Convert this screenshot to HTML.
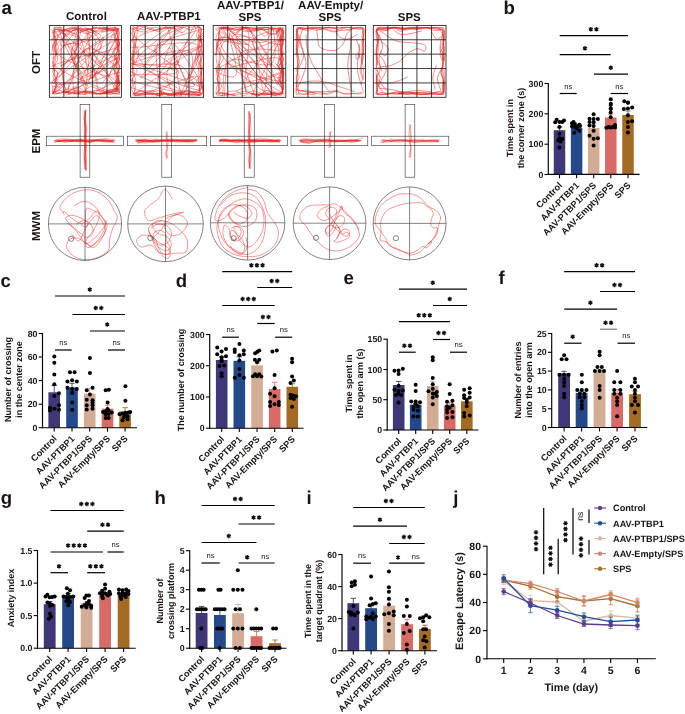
<!DOCTYPE html>
<html><head><meta charset="utf-8"><title>Figure</title>
<style>
html,body{margin:0;padding:0;background:#fff;}
body{width:685px;height:714px;overflow:hidden;}
svg{display:block;font-family:"Liberation Sans",sans-serif;text-rendering:geometricPrecision;will-change:transform;}
</style></head><body>
<svg width="685" height="714" viewBox="0 0 685 714">
<rect width="685" height="714" fill="#fff"/>
<text x="1.5" y="13.8" font-size="18.6" font-weight="bold" text-anchor="start" fill="#1a1311">a</text>
<text x="86.4" y="19.8" font-size="11.5" font-weight="bold" text-anchor="middle" fill="#1a1311">Control</text>
<text x="168.9" y="19.7" font-size="11.5" font-weight="bold" text-anchor="middle" fill="#1a1311">AAV-PTBP1</text>
<text x="250.5" y="8.7" font-size="11.5" font-weight="bold" text-anchor="middle" fill="#1a1311">AAV-PTBP1/</text>
<text x="250" y="21.1" font-size="11.5" font-weight="bold" text-anchor="middle" fill="#1a1311">SPS</text>
<text x="330.6" y="8.7" font-size="11.5" font-weight="bold" text-anchor="middle" fill="#1a1311">AAV-Empty/</text>
<text x="330" y="21.1" font-size="11.5" font-weight="bold" text-anchor="middle" fill="#1a1311">SPS</text>
<text x="409.3" y="20.6" font-size="11.5" font-weight="bold" text-anchor="middle" fill="#1a1311">SPS</text>
<text x="40" y="62.5" font-size="11.5" font-weight="bold" text-anchor="middle" fill="#1a1311" transform="rotate(-90 40 62.5)">OFT</text>
<text x="40" y="141" font-size="11.5" font-weight="bold" text-anchor="middle" fill="#1a1311" transform="rotate(-90 40 141)">EPM</text>
<text x="40" y="226" font-size="11.5" font-weight="bold" text-anchor="middle" fill="#1a1311" transform="rotate(-90 40 226)">MWM</text>
<clipPath id="oc0"><rect x="51.8" y="26.6" width="68.4" height="68.1"/></clipPath>
<g clip-path="url(#oc0)">
<path d="M55.65 85.12C61.88 83.65 83.01 83.92 92.98 76.33C102.96 68.74 111.32 44.51 115.51 39.55C119.69 34.59 117.85 44.23 118.08 46.57C118.32 48.91 117.17 51.24 116.92 53.58C116.67 55.92 116.57 58.26 116.58 60.59C116.59 62.93 116.81 65.27 116.98 67.61C117.15 69.95 117.21 72.28 117.6 74.62C117.99 76.96 119.69 79.3 119.3 81.64C118.91 83.97 115.47 87.25 115.26 88.65C115.05 90.05 118.74 89.8 118.04 90.05C117.33 90.3 113.36 89.59 111.02 90.14C108.69 90.69 106.35 92.75 104.01 93.35C101.67 93.96 99.33 94.16 97 93.79C94.66 93.42 92.32 91.56 89.98 91.15C87.65 90.74 85.31 90.9 82.97 91.31C80.63 91.73 78.29 93.6 75.96 93.63C73.62 93.66 71.28 91.67 68.94 91.48C66.6 91.28 61.76 92.29 61.93 92.44C62.1 92.58 67.27 92.56 69.95 92.37C72.62 92.17 75.29 91.29 77.97 91.27C80.64 91.26 87.07 99.25 85.98 92.26C84.9 85.28 69.14 58.49 71.47 49.36C73.8 40.23 96.94 40.76 99.96 37.48C102.99 34.19 93.08 30.41 89.64 29.64C86.19 28.86 79.81 32.76 79.31 32.82C78.8 32.87 84.18 30.73 86.61 29.96C89.05 29.18 91.49 28.47 93.92 28.14C96.36 27.81 98.79 27.65 101.23 28C103.67 28.35 106.1 30.06 108.54 30.23C110.97 30.4 114.14 28.94 115.85 29.03C117.56 29.11 118.37 29.25 118.79 30.75C119.21 32.26 118.63 35.63 118.36 38.06C118.09 40.5 117 42.94 117.18 45.37C117.35 47.81 119.08 50.24 119.4 52.68C119.73 55.12 120.04 57.55 119.11 59.99C118.19 62.42 114.39 64.86 113.87 67.3C113.34 69.73 115.53 72.17 115.96 74.6C116.4 77.04 116.46 79.48 116.48 81.91C116.5 84.35 115.94 87.76 116.08 89.22C116.23 90.68 118.32 90.14 117.34 90.65C116.36 91.16 112.58 91.78 110.2 92.25C107.82 92.72 105.45 93.19 103.07 93.47C100.69 93.74 98.31 94.08 95.93 93.92C93.55 93.76 91.17 92.64 88.79 92.52C86.41 92.4 84.03 93.11 81.65 93.18C79.27 93.24 76.89 93.08 74.51 92.93C72.13 92.78 69.75 92.25 67.37 92.28C64.99 92.31 62.62 92.97 60.24 93.11C57.86 93.25 53.08 94.02 53.1 93.11C53.11 92.2 60.29 89.76 60.32 87.66C60.34 85.56 43.76 88.51 53.24 80.52C62.72 72.53 110.74 40.1 117.19 39.73C123.64 39.37 98.15 78.64 91.93 78.33C85.71 78.02 86 46.06 79.88 37.87C73.76 29.67 58.05 30.47 55.23 29.16C52.41 27.86 60.38 29.85 62.95 30.04C65.53 30.23 68.1 30.28 70.68 30.27C73.25 30.27 75.83 30.02 78.4 29.98C80.98 29.95 83.55 30.39 86.13 30.06C88.7 29.73 92.56 28.34 93.85 28" fill="none" stroke="#e5231f" stroke-width="0.45" stroke-opacity="1" stroke-linejoin="round"/>
<path d="M93.85 28C95.14 28.1 99 28.21 101.58 28.61C104.15 29 106.73 30.15 109.3 30.38C111.87 30.61 115.63 28.8 117.02 29.97C118.42 31.13 117.3 34.91 117.65 37.39C118 39.86 119.99 42.33 119.13 44.81C118.27 47.28 112.82 49.75 112.49 52.23C112.17 54.7 117.15 57.17 117.18 59.65C117.21 62.12 112.76 64.6 112.66 67.07C112.56 69.54 115.89 72.02 116.59 74.49C117.28 76.96 126.32 89.41 116.85 81.91C107.37 74.41 70.13 38.53 59.73 29.5C49.33 20.46 55.44 26.68 54.46 27.68C53.47 28.67 53.81 32.88 53.82 35.48C53.84 38.08 54.09 40.68 54.56 43.29C55.04 45.89 56.71 48.49 56.67 51.09C56.64 53.69 54.92 56.29 54.36 58.89C53.8 61.5 52.72 64.1 53.3 66.7C53.89 69.3 57.66 71.9 57.86 74.5C58.07 77.1 50.64 86.85 54.54 82.31C58.43 77.76 80.06 52.77 81.24 47.22C82.42 41.67 64.05 41.88 61.63 48.98C59.2 56.08 63.06 89.37 66.67 89.81C70.29 90.24 78.02 56.27 83.33 51.6C88.64 46.94 92.9 64.86 98.52 61.82C104.14 58.78 123.33 32.69 117.06 33.37C110.79 34.05 61.36 66.48 60.92 65.91C60.49 65.35 107.7 35.63 114.47 29.99C121.23 24.34 102.43 31.83 101.49 32.03C100.55 32.22 106.38 31.5 108.82 31.17C111.27 30.85 114.62 30.09 116.16 30.08C117.7 30.06 118.35 29.7 118.07 31.09C117.79 32.48 114.64 35.98 114.5 38.43C114.35 40.87 116.58 43.32 117.2 45.76C117.81 48.21 118.2 50.65 118.18 53.1C118.15 55.54 117.79 57.99 117.04 60.43C116.29 62.88 113.61 65.32 113.68 67.77C113.75 70.21 116.84 72.66 117.45 75.1C118.06 77.55 117.24 79.99 117.34 82.44C117.45 84.88 118.22 88.79 118.09 89.77C117.97 90.75 118.07 88.21 116.6 88.31C115.12 88.4 111.71 89.67 109.26 90.33C106.82 90.99 101.92 91.96 101.93 92.24C101.94 92.53 106.85 92.75 109.32 92.03C111.78 91.31 115.04 88.34 116.71 87.93C118.38 87.53 118.93 90.55 119.34 89.6C119.76 88.65 119.64 84.67 119.19 82.21C118.75 79.75 116.65 77.28 116.65 74.82C116.66 72.36 119.39 69.89 119.23 67.43C119.06 64.97 116.49 62.5 115.66 60.04C114.83 57.58 113.96 55.11 114.27 52.65C114.58 50.19 117.34 47.72 117.51 45.26C117.68 42.8 115.35 40.33 115.28 37.87C115.21 35.4 117.05 31.59 117.09 30.48C117.12 29.37 116.99 31.62 115.49 31.2C113.99 30.78 110.56 28.26 108.1 27.96C105.63 27.65 103.17 29.44 100.71 29.35C98.24 29.27 101.06 19.12 93.32 27.46C85.57 35.8 60.98 69.49 54.25 79.38C47.52 89.26 53.24 84.61 52.94 86.77C52.64 88.93 52.54 91.42 52.46 92.35" fill="none" stroke="#e5231f" stroke-width="0.45" stroke-opacity="1" stroke-linejoin="round"/>
<path d="M52.46 92.35C53.69 92.03 57.38 90.56 59.85 90.44C62.31 90.33 64.77 92.02 67.24 91.64C69.7 91.26 72.16 88.16 74.63 88.19C77.09 88.22 79.55 91.2 82.02 91.84C84.48 92.48 86.94 92.31 89.41 92.03C91.87 91.76 94.33 89.99 96.8 90.17C99.26 90.34 101.72 92.94 104.18 93.09C106.65 93.24 109.11 91.29 111.57 91.08C114.04 90.87 118.67 92.43 118.96 91.81C119.26 91.19 113.61 89.32 113.36 87.35C113.1 85.37 116.74 82.42 117.44 79.96C118.15 77.49 126.07 70.52 117.58 72.57C109.09 74.62 73.81 88.71 66.5 92.25C59.2 95.79 71.34 93.79 73.76 93.79C76.18 93.8 78.6 92.63 81.02 92.3C83.44 91.97 85.85 91.63 88.27 91.81C90.69 91.99 93.11 93.1 95.53 93.37C97.95 93.63 100.37 93.79 102.79 93.41C105.2 93.02 107.62 91.37 110.04 91.08C112.46 90.78 116.12 91.96 117.3 91.64C118.48 91.31 117.11 90.77 117.11 89.15C117.11 87.52 117.77 84.31 117.31 81.89C116.85 79.47 114.51 77.05 114.34 74.63C114.18 72.21 115.51 69.8 116.33 67.38C117.14 64.96 118.8 62.54 119.23 60.12C119.66 57.7 118.92 55.28 118.92 52.86C118.93 50.45 119.25 48.03 119.26 45.61C119.27 43.19 119.04 40.77 118.99 38.35C118.94 35.93 119.43 32.79 118.97 31.1C118.52 29.4 118.43 28.58 116.24 28.2C114.05 27.82 109.32 28.8 105.86 28.81C102.4 28.83 101.72 17.51 95.47 28.29C89.22 39.08 64.8 82.66 68.35 93.51C71.91 104.36 109.92 94.1 116.81 93.38C123.69 92.66 112.05 89.21 109.67 89.19C107.29 89.18 104.91 92.52 102.54 93.31C100.16 94.09 97.78 93.92 95.4 93.92C93.02 93.93 90.64 94.16 88.26 93.33C85.88 92.5 83.51 89.99 81.13 88.95C78.75 87.9 76.37 86.5 73.99 87.06C71.61 87.62 69.23 92.83 66.86 92.31C64.48 91.79 62.1 83.63 59.72 83.93C57.34 84.22 53.28 93.54 52.58 94.07C51.89 94.61 54.76 89.49 55.55 87.15C56.34 84.8 57.72 82.39 57.31 80.01C56.89 77.63 53.54 75.25 53.06 72.87C52.58 70.5 53.65 68.12 54.43 65.74C55.21 63.36 57.54 60.98 57.76 58.6C57.99 56.22 56.26 53.84 55.78 51.47C55.3 49.09 54.53 46.7 54.9 44.33C55.27 41.96 57.99 39.61 58 37.25C58.02 34.9 55.24 31.51 54.99 30.18C54.73 28.85 55.06 28.63 56.5 29.29C57.93 29.94 61.21 33.74 63.57 34.1C65.93 34.46 68.29 32.43 70.65 31.44C73 30.46 78.37 28.07 77.72 28.18C77.07 28.3 69.5 28.15 66.73 32.15C63.97 36.15 60.57 41.89 61.12 52.2C61.66 62.5 63.08 96.47 70 93.99C76.92 91.51 97.18 46.76 102.62 37.32" fill="none" stroke="#e5231f" stroke-width="0.45" stroke-opacity="1" stroke-linejoin="round"/>
<path d="M102.62 37.32C102.54 38.29 105.03 33.77 102.12 43.14C99.21 52.52 86.69 85.09 85.16 93.58C83.62 102.07 90.33 94.75 92.92 94.09C95.51 93.43 98.09 89.7 100.68 89.61C103.27 89.53 105.86 93.79 108.44 93.58C111.03 93.37 114.73 89 116.21 88.35C117.69 87.71 117.44 90.8 117.33 89.73C117.23 88.67 115.55 84.56 115.57 81.97C115.58 79.38 116.77 76.79 117.42 74.21C118.06 71.62 119.61 69.03 119.44 66.44C119.27 63.86 123.01 56.57 116.38 58.68C109.74 60.79 79.43 78.55 79.61 79.13C79.8 79.71 116 67.28 117.47 62.17C118.93 57.07 93.67 49.55 88.4 48.5C83.14 47.45 81.21 56.05 85.87 55.89C90.54 55.74 111.01 50.26 116.4 47.57C121.79 44.88 118.2 42.36 118.23 39.75C118.26 37.15 116.86 33.98 116.58 31.94C116.3 29.89 117.83 28.09 116.52 27.5C115.21 26.92 111.31 27.86 108.7 28.42C106.1 28.98 103.49 30.3 100.89 30.86C98.28 31.42 95.64 31.31 93.07 31.79C90.5 32.27 88.01 34.21 85.48 33.75C82.94 33.29 80.41 30.04 77.88 29.02C75.35 28 72.82 27.35 70.29 27.61C67.76 27.87 65.22 30.27 62.69 30.57C60.16 30.88 56.43 29.18 55.1 29.43C53.76 29.69 54.71 30.39 54.69 32.1C54.67 33.81 54.38 37.16 54.99 39.69C55.59 42.22 58.3 44.76 58.3 47.29C58.3 49.82 55.38 54.86 54.99 54.88C54.61 54.9 55.78 49.89 55.98 47.39C56.18 44.9 56.46 42.4 56.19 39.9C55.92 37.41 54.6 34.49 54.35 32.42C54.1 30.35 53.37 28.24 54.67 27.48C55.97 26.72 59.66 27.14 62.16 27.85C64.66 28.56 67.15 31.63 69.65 31.73C72.14 31.82 74.64 28.76 77.14 28.43C79.63 28.1 82.13 29.76 84.62 29.73C87.12 29.69 89.62 28.49 92.11 28.23C94.61 27.97 97.11 28.31 99.6 28.17C102.1 28.02 104.59 27.29 107.09 27.38C109.59 27.48 116.9 20.28 114.58 28.72C112.25 37.17 96.88 72.39 93.15 78.05C89.42 83.72 90.98 60.33 92.23 62.69C93.47 65.06 97.05 92.26 100.63 92.25C104.21 92.24 110.61 70.88 113.72 62.63C116.83 54.38 118.6 44.85 119.28 42.76C119.97 40.68 118.59 47.66 117.83 50.1C117.06 52.55 114.49 54.99 114.7 57.44C114.92 59.88 118.53 62.33 119.14 64.77C119.74 67.22 118.45 69.66 118.33 72.11C118.2 74.55 118.33 77 118.37 79.44C118.41 81.89 118.37 84.76 118.57 86.78C118.77 88.8 120.64 90.61 119.59 91.57C118.53 92.53 123.36 97.21 112.25 92.54C101.15 87.87 60.69 74.11 52.96 63.55C45.24 52.98 58.73 32.38 65.9 29.13C73.07 25.87 96.94 34.02 95.98 44.01C95.02 53.99 66.13 81.54 60.16 89.05" fill="none" stroke="#e5231f" stroke-width="0.45" stroke-opacity="1" stroke-linejoin="round"/>
<path d="M60.16 89.05C58.88 89.84 53.13 94.2 52.53 93.79C51.92 93.38 56.07 89.07 56.52 86.6C56.98 84.13 55.61 81.51 55.24 78.97C54.88 76.43 54.71 73.88 54.33 71.34C53.95 68.8 53.04 66.25 52.95 63.71C52.86 61.17 53.73 58.63 53.78 56.08C53.82 53.54 53.19 51 53.22 48.45C53.25 45.91 53.94 43.37 53.96 40.82C53.97 38.28 53.31 34.73 53.33 33.2C53.34 31.66 48.88 26.88 54.03 31.59C59.18 36.3 74.12 51.59 84.22 61.47C94.33 71.35 119.8 85.62 114.64 90.86C109.49 96.09 52.77 98.96 53.29 92.9C53.81 86.83 108.79 57.18 117.77 54.49C126.74 51.81 110.6 72.55 107.14 76.8C103.68 81.04 100.39 87.85 97 79.96C93.62 72.06 86.33 34.61 86.84 29.43C87.36 24.24 105.61 42.87 100.11 48.85C94.61 54.83 60.91 61.36 53.84 65.31C46.77 69.26 57.34 70.13 57.7 72.54C58.05 74.95 56.29 77.36 55.97 79.76C55.65 82.17 56.34 85.13 55.77 86.99C55.19 88.85 51.85 89.84 52.52 90.93C53.18 92.03 57.33 93.87 59.74 93.55C62.15 93.23 64.56 89.59 66.97 89.02C69.38 88.45 71.78 89.71 74.19 90.11C76.6 90.51 79.01 91.17 81.42 91.42C83.83 91.67 86.24 91.37 88.65 91.62C91.05 91.87 93.46 92.58 95.87 92.92C98.28 93.26 100.69 93.49 103.1 93.67C105.51 93.85 107.91 94.38 110.32 94.01C112.73 93.65 116.56 92.31 117.55 91.46C118.53 90.61 116.14 90.55 116.23 88.93C116.31 87.3 124.9 81.09 118.05 81.7C111.19 82.31 81.68 100.93 75.1 92.57C68.52 84.2 79.12 37.32 78.58 31.5C78.04 25.68 70.58 50.45 71.86 57.63C73.14 64.82 88.21 79.71 86.26 74.64C84.3 69.56 60.09 25.37 60.11 27.2C60.14 29.04 86.6 85.65 86.42 85.65C86.24 85.66 57.54 35.89 59.02 27.24C60.49 18.58 90.64 33.54 95.27 33.72C99.91 33.9 89.64 28.43 86.82 28.31C84 28.19 80.44 28.51 78.37 33C76.3 37.48 73.93 56 74.41 55.22C74.89 54.44 81.31 31.83 81.27 28.3C81.22 24.78 76.52 33.81 74.14 34.06C71.77 34.3 69.39 30.2 67.02 29.77C64.64 29.34 62.27 31.04 59.89 31.46C57.52 31.88 53.87 31.87 52.77 32.29C51.67 32.7 52.72 32.49 53.27 33.95C53.81 35.42 55.83 38.7 56.05 41.08C56.26 43.45 54.55 45.83 54.58 48.2C54.61 50.58 56.18 52.95 56.23 55.33C56.28 57.7 55.1 60.08 54.87 62.45C54.64 64.83 55.14 67.2 54.87 69.58C54.6 71.95 53.13 74.33 53.25 76.7C53.37 79.08 55.32 81.45 55.57 83.83C55.83 86.2 54.64 89.31 54.77 90.95C54.91 92.59 56.11 93.21 56.38 93.66" fill="none" stroke="#e5231f" stroke-width="0.45" stroke-opacity="1" stroke-linejoin="round"/>
<path d="M56.38 93.66C57.56 93.3 61.13 91.54 63.5 91.51C65.88 91.48 68.25 93.38 70.62 93.47C73 93.56 75.37 92.03 77.75 92.06C80.12 92.09 83.24 104.1 84.87 93.66C86.51 83.22 92.62 38.9 87.57 29.44C82.52 19.97 60.39 33.89 54.58 36.86C48.76 39.83 52.89 43.8 52.68 47.27C52.48 50.74 49.32 60.7 53.34 57.69C57.36 54.67 76.57 30.21 76.81 29.19C77.06 28.17 49.75 43.77 54.8 51.55C59.85 59.33 100.79 75.61 107.11 75.87C113.43 76.13 90.67 50.6 92.72 53.11C94.76 55.62 114.91 85.82 119.38 90.93C123.86 96.05 119.85 86.18 119.56 83.81C119.27 81.43 117.66 79.06 117.65 76.68C117.65 74.3 126.98 76.45 119.55 69.55C112.11 62.66 82.8 39.29 73.07 35.33C63.34 31.37 57.57 45.76 61.17 45.8C64.76 45.84 87.46 38.37 94.63 35.58C101.8 32.79 101 29.88 104.19 29.06C107.37 28.23 111.21 30.7 113.75 30.63C116.28 30.56 119.39 27.76 119.41 28.65C119.44 29.54 114.07 33.52 113.87 35.95C113.68 38.39 117.41 40.82 118.25 43.26C119.09 45.69 118.95 48.13 118.92 50.56C118.89 52.99 118.61 55.43 118.08 57.86C117.54 60.3 115.48 62.73 115.69 65.17C115.91 67.6 119.05 70.04 119.36 72.47C119.66 74.91 117.84 77.34 117.54 79.77C117.23 82.21 117.24 84.87 117.54 87.08C117.84 89.29 120.24 92.05 119.32 93.04C118.4 94.03 114.45 93.31 112.01 93.04C109.58 92.77 107.15 92.1 104.71 91.42C102.28 90.74 99.84 89.75 97.41 88.96C94.97 88.17 92.54 86.11 90.1 86.68C87.67 87.25 85.23 91.7 82.8 92.37C80.37 93.05 69.52 96.83 75.5 90.73C81.48 84.64 112.16 62.87 118.68 55.81C125.19 48.75 114.81 50.86 114.58 48.39C114.35 45.92 117.39 43.44 117.32 40.97C117.25 38.5 113.96 35.63 114.16 33.55C114.36 31.47 119.04 29.1 118.53 28.47C118.02 27.84 113.58 29.97 111.11 29.78C108.64 29.59 106.16 27.21 103.69 27.35C101.22 27.5 98.74 30.32 96.27 30.66C93.8 30.99 91.32 29.75 88.85 29.37C86.38 28.99 82.67 28.55 81.43 28.39" fill="none" stroke="#e5231f" stroke-width="0.45" stroke-opacity="1" stroke-linejoin="round"/>
</g>
<g stroke="#1c1c1c" stroke-width="0.85" fill="none">
<rect x="49.4" y="25.4" width="72" height="71.9"/>
<line x1="63.8" y1="25.4" x2="63.8" y2="97.3"/>
<line x1="49.4" y1="39.78" x2="121.4" y2="39.78"/>
<line x1="78.2" y1="25.4" x2="78.2" y2="97.3"/>
<line x1="49.4" y1="54.16" x2="121.4" y2="54.16"/>
<line x1="92.6" y1="25.4" x2="92.6" y2="97.3"/>
<line x1="49.4" y1="68.54" x2="121.4" y2="68.54"/>
<line x1="107" y1="25.4" x2="107" y2="97.3"/>
<line x1="49.4" y1="82.92" x2="121.4" y2="82.92"/>
</g>
<clipPath id="oc1"><rect x="130.9" y="25.8" width="72.4" height="70.5"/></clipPath>
<g clip-path="url(#oc1)">
<path d="M134.24 45.04C134.13 46.22 133.59 49.76 133.57 52.13C133.55 54.49 134.22 56.85 134.11 59.21C134 61.57 133.08 63.93 132.92 66.3C132.75 68.66 132.66 71.02 133.12 73.38C133.59 75.74 135.96 78.1 135.7 80.46C135.43 82.83 131.77 85.19 131.54 87.55C131.32 89.91 133.35 93.34 134.34 94.63C135.34 95.93 135.81 95.31 137.52 95.3C139.23 95.3 142.24 94.82 144.6 94.6C146.96 94.37 149.33 94.07 151.69 93.96C154.05 93.84 156.41 93.79 158.77 93.92C161.13 94.06 162.32 94.54 165.86 94.78C169.4 95.01 174.08 105.67 180.02 95.32C185.95 84.97 201.72 43.58 201.47 32.7C201.23 21.83 188.24 24.36 178.55 30.08C168.87 35.79 144.64 67.51 143.38 67.01C142.13 66.51 172.91 28.33 171.03 27.07C169.14 25.81 130.91 52.17 132.06 59.44C133.21 66.71 173.79 64.72 177.93 70.68C182.06 76.64 159.2 91.51 156.87 95.2C154.54 98.9 161.58 92.81 163.94 92.87C166.3 92.92 168.65 95.36 171.01 95.52C173.37 95.68 175.72 94.52 178.08 93.82C180.44 93.13 182.79 91.71 185.15 91.35C187.5 90.99 189.86 91.05 192.22 91.66C194.57 92.27 197.56 94.96 199.29 95.03C201.01 95.09 202.06 93.72 202.56 92.05C203.06 90.37 202.41 87.33 202.3 84.98C202.19 82.62 202.03 80.26 201.9 77.91C201.78 75.55 202.06 73.19 201.54 70.84C201.02 68.48 198.58 66.13 198.77 63.77C198.95 61.41 202.35 59.06 202.66 56.7C202.96 54.34 201.03 49.62 200.58 49.63C200.14 49.65 199.74 54.41 199.98 56.8C200.23 59.19 201.73 61.57 202.06 63.96C202.39 66.35 202.18 68.74 201.96 71.13C201.73 73.52 200.68 75.9 200.71 78.29C200.75 80.68 201.96 83.07 202.18 85.46C202.4 87.85 202.62 91.47 202.02 92.62C201.43 93.77 200.37 92.4 198.61 92.36C196.85 92.32 193.83 91.97 191.45 92.38C189.06 92.79 186.67 94.56 184.28 94.82C181.89 95.08 179.5 93.89 177.12 93.95C174.73 94.02 172.34 95.33 169.95 95.2C167.56 95.07 165.17 93.3 162.78 93.16C160.4 93.03 158.01 94.28 155.62 94.39C153.23 94.51 150.84 94.4 148.45 93.84C146.07 93.29 143.68 90.81 141.29 91.07C138.9 91.33 133.62 94.8 134.12 95.4C134.62 96.01 141.37 95.26 144.28 94.71C147.2 94.17 149.16 91.99 151.6 92.15C154.03 92.31 156.47 95.51 158.91 95.67C161.35 95.82 163.78 93.14 166.22 93.08C168.66 93.02 171.1 95.09 173.53 95.3C175.97 95.52 178.41 95.23 180.85 94.38C183.28 93.53 185.72 90.2 188.16 90.19C190.6 90.18 193.33 93.41 195.47 94.31C197.62 95.22 200.39 96.62 201.04 95.61C201.68 94.61 199.15 90.74 199.33 88.3C199.51 85.86 201.65 82.21 202.12 80.99" fill="none" stroke="#e5231f" stroke-width="0.45" stroke-opacity="1" stroke-linejoin="round"/>
<path d="M202.12 80.99C201.94 79.77 201.25 76.11 201.06 73.68C200.88 71.24 201.75 68.8 201.02 66.36C200.29 63.93 196.76 61.49 196.69 59.05C196.62 56.61 199.83 54.18 200.61 51.74C201.39 49.3 201.4 46.86 201.39 44.42C201.39 41.99 200.64 39.55 200.58 37.11C200.52 34.67 208.63 28.07 201.01 29.8C193.39 31.52 158.77 40.46 154.85 47.46C150.94 54.47 181.14 67.18 177.54 71.81C173.94 76.44 140.37 73.46 133.23 75.24C126.09 77.01 134.36 80.03 134.7 82.43C135.05 84.83 135.66 87.5 135.31 89.63C134.97 91.76 131.88 94.99 132.63 95.21C133.38 95.42 137.43 91.64 139.83 90.93C142.23 90.21 144.63 90.97 147.03 90.94C149.43 90.92 151.83 90.18 154.23 90.77C156.63 91.37 160.53 97.27 161.43 94.5C162.32 91.73 153.9 85.31 159.61 74.12C165.31 62.94 198.85 33.81 195.65 27.36C192.44 20.92 149.19 30.6 140.38 35.43C131.57 40.27 136.08 57.23 142.78 56.36C149.47 55.5 175.49 34.91 180.54 30.23C185.6 25.55 175.59 28.81 173.12 28.28C170.64 27.76 168.17 26.52 165.69 27.09C163.22 27.66 160.74 31.57 158.27 31.68C155.79 31.79 153.32 28.1 150.84 27.75C148.37 27.41 145.89 29.58 143.42 29.62C140.94 29.66 137.75 28.03 135.99 27.99C134.23 27.94 132.97 27.87 132.83 29.34C132.7 30.8 134.96 34.29 135.18 36.76C135.39 39.24 134.58 41.71 134.14 44.19C133.69 46.66 132.86 49.14 132.51 51.61C132.17 54.09 132.1 56.56 132.06 59.04C132.02 61.51 132.2 63.99 132.27 66.46C132.34 68.94 132.23 71.41 132.48 73.89C132.73 76.36 125.67 78.34 133.76 81.31C141.86 84.29 178.53 93.56 181.04 91.73C183.55 89.9 156.53 77 148.84 70.33C141.15 63.66 137.51 53.63 134.91 51.74C132.31 49.85 133.62 56.57 133.25 58.98C132.89 61.4 132.55 63.81 132.72 66.23C132.9 68.64 134.39 71.06 134.29 73.47C134.2 75.89 132.17 78.31 132.14 80.72C132.12 83.14 133.65 85.55 134.16 87.97C134.68 90.38 134.54 94.1 135.23 95.21C135.91 96.33 136.55 95.16 138.26 94.67C139.97 94.17 143.09 92.71 145.5 92.23C147.92 91.75 150.34 92.07 152.75 91.79C155.17 91.5 157.58 90.18 160 90.54C162.41 90.9 164.83 93.6 167.24 93.95C169.66 94.3 172.07 92.79 174.49 92.63C176.9 92.47 179.32 92.86 181.73 92.99C184.15 93.12 186.57 93.13 188.98 93.43C191.4 93.73 194.47 94.54 196.23 94.79C197.98 95.04 198.45 96.11 199.5 94.93C200.54 93.74 213.67 92.89 202.49 87.68C191.31 82.47 144.15 66.24 132.43 63.68C120.71 61.13 123.27 67.89 132.16 72.36C141.04 76.84 179.51 94.73 185.75 90.55C192 86.37 172.31 54.5 169.62 47.29" fill="none" stroke="#e5231f" stroke-width="0.45" stroke-opacity="1" stroke-linejoin="round"/>
<path d="M169.62 47.29C164.89 52.39 135.81 79.79 141.24 77.88C146.66 75.97 192.67 41.6 202.15 35.82C211.63 30.04 198.14 40.74 198.12 43.2C198.1 45.66 201.5 48.13 202.03 50.59C202.56 53.05 201.79 55.51 201.3 57.97C200.8 60.43 199.56 62.89 199.05 65.36C198.54 67.82 198.3 70.28 198.23 72.74C198.16 75.2 198.43 77.66 198.62 80.12C198.81 82.59 199.3 85.05 199.39 87.51C199.48 89.97 199.7 93.89 199.15 94.89C198.61 95.9 197.86 93.43 196.12 93.52C194.39 93.62 191.2 95.59 188.74 95.45C186.28 95.3 183.82 92.96 181.35 92.64C178.89 92.33 176.43 93.38 173.97 93.55C171.51 93.72 169.05 94.05 166.59 93.67C164.13 93.3 159.13 91.27 159.2 91.31C159.28 91.34 164.43 93.39 167.04 93.87C169.66 94.35 172.27 94.66 174.88 94.19C177.5 93.73 180.11 91.5 182.72 91.1C185.34 90.7 187.95 91.49 190.56 91.78C193.18 92.08 197.05 92.81 198.4 92.87C199.75 92.94 198.24 93.58 198.65 92.16C199.07 90.73 202.61 87.2 200.89 84.32C199.17 81.43 189.39 74.59 188.33 74.85C187.26 75.12 195.1 84.28 194.49 85.93C193.88 87.57 184.67 86.34 184.68 84.72C184.69 83.1 202.89 74.5 194.53 76.21C186.17 77.92 137.35 97.16 134.53 94.97C131.72 92.78 172.7 68.46 177.64 63.06C182.58 57.66 164.65 68.38 164.16 62.58C163.68 56.77 179.78 28.43 174.71 28.24C169.63 28.04 139.97 54.39 133.72 61.42C127.47 68.44 137.4 67.38 137.2 70.37C137 73.35 133.18 76.33 132.52 79.32C131.86 82.3 125.2 85.57 133.23 88.27C141.25 90.96 171.05 101.41 180.66 95.48C190.26 89.54 195.65 59.09 190.84 52.65C186.04 46.2 161.24 54.82 151.82 56.78C142.4 58.75 130.01 63.12 134.33 64.43C138.65 65.74 168.25 63.12 177.73 64.64C187.21 66.16 187.85 79.83 191.22 73.56C194.59 67.3 200.85 34.17 197.93 27.08C195.02 19.99 180.62 27.75 173.73 31.02C166.85 34.3 158.63 36.42 156.62 46.73C154.6 57.04 159.53 84.79 161.66 92.89C163.78 100.98 166.78 95.24 169.35 95.27C171.91 95.31 174.47 93.22 177.03 93.1C179.6 92.98 182.16 94.45 184.72 94.54C187.29 94.64 189.85 94.56 192.41 93.67C194.97 92.78 198.99 89.72 200.1 89.21C201.21 88.7 199.08 91.7 199.09 90.61C199.11 89.52 199.76 85.31 200.18 82.66C200.61 80.01 201.57 77.36 201.63 74.7C201.69 72.05 200.59 69.4 200.53 66.75C200.46 64.1 201.57 61.45 201.23 58.8C200.89 56.15 198.69 53.5 198.46 50.85C198.23 48.19 199.82 45.54 199.85 42.89C199.89 40.24 198.4 35.09 198.66 34.94C198.92 34.79 201.08 39.66 201.42 42.02C201.76 44.37 200.83 47.91 200.72 49.09" fill="none" stroke="#e5231f" stroke-width="0.45" stroke-opacity="1" stroke-linejoin="round"/>
<path d="M200.72 49.09C200.17 50.27 197.48 53.81 197.43 56.17C197.39 58.53 199.84 60.89 200.44 63.25C201.05 65.6 201.17 67.96 201.08 70.32C200.99 72.68 199.72 75.04 199.91 77.4C200.09 79.76 202.19 82.12 202.2 84.48C202.22 86.83 200.4 89.93 199.99 91.55C199.59 93.17 200.99 93.51 199.77 94.19C198.55 94.87 195.05 95.86 192.69 95.61C190.34 95.37 187.98 93 185.62 92.71C183.26 92.43 180.9 93.58 178.54 93.89C176.18 94.19 173.82 94.48 171.46 94.56C169.11 94.64 166.75 94.47 164.39 94.37C162.03 94.27 159.67 94.01 157.31 93.95C154.95 93.9 152.59 93.99 150.23 94.04C147.88 94.08 145.52 94.35 143.16 94.21C140.8 94.07 126.83 93.11 136.08 93.21C145.33 93.3 192.08 94.46 198.68 94.76C205.28 95.06 180.8 99.29 175.68 95.03C170.57 90.78 163.86 77.24 168 69.23C172.14 61.22 195.04 51.94 200.53 46.97C206.01 42.01 201.05 41.95 200.91 39.44C200.78 36.92 199.78 33.71 199.74 31.9C199.7 30.09 201.77 29.26 200.66 28.58C199.56 27.9 197.41 21.12 193.13 27.8C188.84 34.48 178.45 63.31 174.97 68.66C171.48 74 167.79 63.66 172.21 59.88C176.64 56.1 202.92 46.82 201.51 45.99C200.11 45.15 175.12 56.62 163.76 54.88C152.4 53.15 138.58 40.04 133.34 35.58C128.09 31.12 131.64 28.91 132.29 28.12C132.94 27.33 135.17 31.1 137.24 30.82C139.31 30.54 142.21 26.59 144.7 26.44C147.18 26.3 149.67 29.42 152.15 29.94C154.64 30.46 157.13 29.89 159.61 29.57C162.1 29.24 164.58 28.17 167.07 27.98C169.56 27.79 172.04 27.65 174.53 28.43C177.01 29.2 179.5 32.81 181.99 32.63C184.47 32.46 186.96 28.29 189.44 27.37C191.93 26.46 195.17 27.03 196.9 27.14C198.63 27.25 199.9 26.66 199.81 28.06C199.72 29.46 196.1 33.03 196.36 35.52C196.63 38 200.79 42.92 201.38 42.98C201.96 43.04 199.78 38.24 199.86 35.88C199.95 33.51 202.2 30.12 201.89 28.78C201.58 27.44 199.82 27.66 197.98 27.85C196.15 28.04 193.25 30 190.88 29.93C188.52 29.87 186.15 28.05 183.78 27.47C181.42 26.89 179.05 26.29 176.68 26.46C174.32 26.62 171.95 28.36 169.59 28.46C167.22 28.57 164.85 26.82 162.49 27.1C160.12 27.37 157.76 29.82 155.39 30.14C153.02 30.45 150.66 29.55 148.29 28.96C145.92 28.37 143.56 26.75 141.19 26.6C138.83 26.44 135.53 27.32 134.09 28.04C132.66 28.75 132.76 29.24 132.58 30.9C132.41 32.57 132.82 35.64 133.05 38C133.29 40.37 133.87 42.74 133.99 45.1C134.11 47.47 134.12 49.83 133.77 52.2C133.43 54.57 131.4 56.93 131.92 59.3C132.43 61.67 136.03 65.21 136.86 66.4" fill="none" stroke="#e5231f" stroke-width="0.45" stroke-opacity="1" stroke-linejoin="round"/>
<path d="M136.86 66.4C147.58 70.25 195.06 93.31 201.21 89.51C207.37 85.71 176.26 45.21 173.79 43.61C171.31 42 182.58 79.71 186.34 79.86C190.09 80 205.23 49.9 196.31 44.47C187.4 39.04 143.36 48.32 132.87 47.27C122.39 46.23 132.77 41.23 133.39 38.21C134.01 35.19 135.84 30.87 136.58 29.15C137.32 27.43 138.39 22.05 137.82 27.88C137.25 33.7 133.12 59.32 133.16 64.1C133.2 68.88 137.29 59.08 138.07 56.57C138.86 54.06 138.86 51.55 137.86 49.04C136.86 46.54 132.64 44.03 132.08 41.52C131.52 39.01 134.36 36.5 134.51 33.99C134.67 31.48 132.28 26.94 133.02 26.46C133.77 25.99 136.72 30.29 138.97 31.13C141.21 31.98 143.98 32.19 146.49 31.54C149 30.88 151.51 27.6 154.02 27.19C156.53 26.78 159.04 28.3 161.55 29.07C164.06 29.84 165.87 21.14 169.08 31.83C172.28 42.52 177.64 83.08 180.8 93.21C183.96 103.34 185.62 92.91 188.03 92.61C190.44 92.31 192.85 91.22 195.26 91.43C197.67 91.64 201.26 94.34 202.49 93.88C203.72 93.43 203.64 90.75 202.66 88.68C201.68 86.61 196.9 83.86 196.59 81.45C196.28 79.04 200.65 76.63 200.79 74.22C200.93 71.81 198.28 69.4 197.45 66.99C196.61 64.58 194.94 62.17 195.76 59.76C196.59 57.35 201.34 54.94 202.41 52.53C203.48 50.12 202.47 47.71 202.18 45.3C201.89 42.89 201.01 40.48 200.66 38.07C200.31 35.66 200.18 32.04 200.08 30.84" fill="none" stroke="#e5231f" stroke-width="0.45" stroke-opacity="1" stroke-linejoin="round"/>
</g>
<g stroke="#1c1c1c" stroke-width="0.85" fill="none">
<rect x="130.6" y="25.4" width="73" height="71.9"/>
<line x1="145.2" y1="25.4" x2="145.2" y2="97.3"/>
<line x1="130.6" y1="39.78" x2="203.6" y2="39.78"/>
<line x1="159.8" y1="25.4" x2="159.8" y2="97.3"/>
<line x1="130.6" y1="54.16" x2="203.6" y2="54.16"/>
<line x1="174.4" y1="25.4" x2="174.4" y2="97.3"/>
<line x1="130.6" y1="68.54" x2="203.6" y2="68.54"/>
<line x1="189" y1="25.4" x2="189" y2="97.3"/>
<line x1="130.6" y1="82.92" x2="203.6" y2="82.92"/>
</g>
<clipPath id="oc2"><rect x="215.4" y="26.6" width="68.8" height="69.7"/></clipPath>
<g clip-path="url(#oc2)">
<path d="M235.66 91.15C243.16 88.1 278.95 74.7 280.69 72.83C282.43 70.97 245.96 86.07 246.1 79.95C246.24 73.83 275.39 44.84 281.56 36.12C287.73 27.4 284.01 27.95 283.13 27.61C282.24 27.26 276.3 31.76 276.28 34.06C276.25 36.36 282.12 38.95 282.97 41.4C283.82 43.85 281.61 46.29 281.38 48.74C281.14 51.18 281.66 53.63 281.56 56.08C281.47 58.52 280.48 60.97 280.8 63.41C281.11 65.86 283.66 68.3 283.48 70.75C283.3 73.2 280.15 75.64 279.74 78.09C279.33 80.53 280.58 82.98 281.02 85.43C281.46 87.87 282.68 91.44 282.38 92.76C282.07 94.08 280.95 93.04 279.2 93.35C277.45 93.65 274.61 94.47 271.86 94.59C269.11 94.7 265.42 94.15 262.71 94.03C259.99 93.92 257.95 93.9 255.57 93.88C253.19 93.86 250.81 93.99 248.44 93.91C246.06 93.84 243.68 93.16 241.3 93.43C238.92 93.7 236.54 95.55 234.16 95.52C231.79 95.49 229.41 93.75 227.03 93.27C224.65 92.8 221.31 92.81 219.89 92.68C218.48 92.54 218.56 93.68 218.52 92.46C218.49 91.23 219.9 87.7 219.68 85.32C219.46 82.94 217.22 80.56 217.2 78.19C217.17 75.81 219.22 73.43 219.53 71.05C219.84 68.67 219.5 63.79 219.05 63.91C218.6 64.04 213.95 70.09 216.86 71.81C219.76 73.53 234.09 80.89 236.48 74.23C238.87 67.57 224.63 28.27 231.2 31.84C237.77 35.41 269.83 85.9 275.91 95.64C281.98 105.39 270.41 90.41 267.66 90.32C264.92 90.22 262.17 94.52 259.42 95.07C256.67 95.61 251.35 93.73 251.18 93.58C251 93.43 255.96 93.88 258.36 94.16C260.75 94.45 263.14 95.51 265.54 95.32C267.93 95.12 270.33 93.01 272.72 92.99C275.11 92.97 278.37 95.32 279.9 95.19C281.43 95.07 281.36 93.91 281.87 92.22C282.39 90.53 282.95 87.43 283.01 85.04C283.07 82.64 282.19 80.25 282.26 77.86C282.33 75.46 283.39 73.07 283.43 70.68C283.46 68.28 282.84 65.89 282.48 63.5C282.11 61.1 281.54 58.71 281.23 56.31C280.92 53.92 280.34 51.53 280.6 49.13C280.86 46.74 282.32 44.35 282.79 41.95C283.25 39.56 283.66 37.17 283.37 34.77C283.08 32.38 282.14 28.68 281.05 27.59C279.95 26.5 278.71 28.25 276.81 28.22C274.91 28.19 272.02 27.54 269.63 27.39C267.24 27.24 264.84 27.11 262.45 27.33C260.05 27.55 255.3 28.38 255.27 28.73C255.24 29.08 259.94 28.56 262.28 29.43C264.62 30.3 266.96 33.33 269.29 33.92C271.63 34.52 273.97 33.99 276.31 33C278.64 32.02 282.53 27.85 283.32 28.01C284.11 28.16 281.08 31.78 281.03 33.93C280.98 36.09 282.94 38.61 283.01 40.95C283.08 43.28 281.87 45.62 281.44 47.96C281.01 50.3 280.59 53.8 280.42 54.97" fill="none" stroke="#e5231f" stroke-width="0.45" stroke-opacity="1" stroke-linejoin="round"/>
<path d="M280.42 54.97C280.04 56.14 277.78 59.65 278.12 61.99C278.46 64.32 281.6 66.66 282.46 69C283.31 71.34 283.4 73.67 283.26 76.01C283.11 78.35 281.67 80.69 281.58 83.02C281.5 85.36 282.61 88.39 282.72 90.04C282.83 91.69 283.5 92.04 282.25 92.92C281 93.8 277.57 95.13 275.24 95.31C272.9 95.49 270.56 94.24 268.22 93.99C265.89 93.74 263.55 93.92 261.21 93.79C258.87 93.65 258.02 101.28 254.2 93.19C250.38 85.09 240.38 54.73 238.3 45.22C236.22 35.71 234.58 36.19 241.73 36.14C248.88 36.09 275.31 44.67 281.21 44.91C287.1 45.15 277.03 40.02 277.11 37.58C277.19 35.13 281.32 31.73 281.69 30.24C282.05 28.76 280.93 28.82 279.31 28.66C277.69 28.51 274.42 28.08 271.97 29.31C269.53 30.53 267.08 35.87 264.64 36C262.2 36.13 259.75 31.42 257.31 30.09C254.86 28.76 252.42 28.39 249.97 28.02C247.53 27.65 245.08 26.81 242.64 27.88C240.19 28.96 237.75 34.37 235.3 34.47C232.86 34.57 230.41 29.61 227.97 28.49C225.53 27.38 220.68 27.84 220.64 27.79C220.59 27.74 225.36 27.81 227.72 28.18C230.08 28.55 232.44 29.92 234.8 30.01C237.16 30.1 239.52 29.15 241.89 28.74C244.25 28.32 246.61 27.44 248.97 27.53C251.33 27.62 253.69 28.92 256.05 29.28C258.41 29.64 260.77 28.95 263.14 29.68C265.5 30.42 267.86 33.04 270.22 33.69C272.58 34.33 275.67 34.52 277.3 33.57C278.94 32.62 279.14 27.74 280.03 27.99C280.91 28.24 282.62 32.71 282.6 35.07C282.57 37.43 280.58 39.67 279.88 42.15C279.18 44.63 278.44 47.36 278.38 49.96C278.32 52.56 278.75 55.17 279.53 57.77C280.31 60.37 282.58 62.98 283.06 65.58C283.54 68.18 282.5 70.79 282.42 73.39C282.33 75.99 282.44 78.6 282.56 81.2C282.68 83.8 283.89 88.93 283.12 89.01C282.36 89.09 277.97 84.13 277.99 81.69C278.01 79.24 283.17 76.8 283.23 74.36C283.29 71.92 278.31 69.48 278.34 67.04C278.38 64.6 282.88 62.15 283.43 59.71C283.98 57.27 281.73 54.83 281.63 52.39C281.53 49.95 282.59 47.51 282.82 45.06C283.04 42.62 283 40.18 282.98 37.74C282.95 35.3 284.03 28.31 282.66 30.42C281.3 32.52 279.88 39.54 274.78 50.37C269.68 61.21 254.61 87.94 252.07 95.41C249.53 102.89 257.05 95.58 259.55 95.24C262.04 94.89 264.53 93.32 267.02 93.34C269.51 93.36 272 95.33 274.5 95.34C276.99 95.35 280.7 94.34 281.97 93.43C283.24 92.51 282.07 91.7 282.14 89.86C282.2 88.01 282.33 84.87 282.36 82.38C282.4 79.89 282.86 77.4 282.33 74.91C281.79 72.41 279.03 69.92 279.15 67.43C279.26 64.94 282.37 61.2 283.01 59.96" fill="none" stroke="#e5231f" stroke-width="0.45" stroke-opacity="1" stroke-linejoin="round"/>
<path d="M283.01 59.96C282.77 58.71 282.53 54.97 281.56 52.48C280.59 49.99 277.08 47.5 277.2 45.01C277.33 42.52 281.3 40.02 282.31 37.53C283.32 35.04 283.81 31.37 283.26 30.06C282.71 28.75 278.97 29.7 278.98 29.67C279 29.64 282.6 28.63 283.36 29.88C284.11 31.13 283.86 34.75 283.52 37.18C283.18 39.61 281.37 42.04 281.32 44.48C281.26 46.91 283.37 49.34 283.18 51.77C282.98 54.2 281.08 56.64 280.12 59.07C279.17 61.5 276.89 63.93 277.46 66.37C278.02 68.8 283.45 71.23 283.5 73.66C283.55 76.1 286.48 82.28 277.76 80.96C269.03 79.64 240.98 72.91 231.15 65.74C221.32 58.56 215.88 41.46 218.77 37.93C221.67 34.39 248.2 44.08 248.51 44.5C248.82 44.93 223.72 41.49 220.62 40.48C217.53 39.48 221.45 34.33 229.95 38.47C238.45 42.62 268.52 66.97 271.63 65.35C274.73 63.73 255.44 35.11 248.58 28.75C241.72 22.4 235.07 27.16 230.49 27.21C225.91 27.26 221.47 28.99 221.09 29.05C220.72 29.11 225.85 27.34 228.23 27.56C230.61 27.77 232.99 30.41 235.37 30.35C237.75 30.29 240.13 27.38 242.5 27.21C244.88 27.04 247.26 29.13 249.64 29.35C252.02 29.56 254.4 28.85 256.78 28.52C259.16 28.19 261.54 27.36 263.92 27.38C266.29 27.4 268.67 28.13 271.05 28.64C273.43 29.15 277.05 30.4 278.19 30.45C279.33 30.5 277.45 27.99 277.9 28.93C278.34 29.86 280.51 33.68 280.86 36.06C281.2 38.44 279.9 40.82 279.96 43.2C280.02 45.58 281.06 47.96 281.19 50.34C281.33 52.72 280.74 55.1 280.75 57.47C280.77 59.85 281.19 62.23 281.3 64.61C281.41 66.99 291.16 77.97 281.4 71.75C271.65 65.53 224.32 23.64 222.79 27.3C221.25 30.96 270.59 91.62 272.2 93.7C273.8 95.78 235.72 48.42 232.41 39.78C229.1 31.13 247.03 33.22 252.33 41.82C257.63 50.41 261.51 93.43 264.19 91.35C266.87 89.26 268.88 39.6 268.39 29.3C267.9 18.99 263.64 29.4 261.27 29.53C258.89 29.65 256.52 30.34 254.14 30.04C251.76 29.75 249.39 27.75 247.01 27.76C244.64 27.76 242.26 29.93 239.89 30.08C237.51 30.23 235.14 28.88 232.76 28.64C230.39 28.4 228.01 28.57 225.64 28.64C223.26 28.7 219.53 28.52 218.51 29.05C217.49 29.58 219.81 28.7 219.49 31.82C219.18 34.94 217.2 43.6 216.62 47.76C216.04 51.92 215.9 53.79 216 56.8C216.1 59.82 217.17 63.14 217.22 65.85C217.28 68.55 216.03 70.64 216.35 73.04C216.67 75.44 219.08 77.84 219.13 80.23C219.17 82.63 217.07 85.03 216.62 87.43C216.16 89.83 215.5 93.27 216.42 94.62C217.34 95.97 219.97 96.05 222.11 95.53C224.26 95 228.11 92.15 229.31 91.47" fill="none" stroke="#e5231f" stroke-width="0.45" stroke-opacity="1" stroke-linejoin="round"/>
<path d="M229.31 91.47C230.51 91.44 234.1 90.55 236.5 91.26C238.9 91.96 241.3 95.68 243.7 95.69C246.09 95.7 248.49 91.93 250.89 91.32C253.29 90.71 255.69 91.47 258.08 92.03C260.48 92.59 262.88 94.35 265.28 94.66C267.67 94.97 270.07 94.03 272.47 93.89C274.87 93.76 278.1 94.07 279.66 93.83C281.22 93.58 281.19 93.87 281.83 92.44C282.47 91.01 283.28 87.65 283.51 85.25C283.73 82.85 283.34 80.45 283.2 78.06C283.06 75.66 283.94 73.26 282.67 70.86C281.39 68.46 275.68 63.69 275.55 63.67C275.42 63.65 281.48 68.38 281.88 70.74C282.29 73.09 277.79 75.45 277.98 77.8C278.17 80.16 282.24 82.51 283.04 84.87C283.84 87.23 283.23 90.57 282.77 91.94C282.32 93.3 281.89 92.86 280.3 93.07C278.7 93.28 275.58 93.63 273.23 93.2C270.87 92.77 268.52 90.21 266.16 90.51C263.81 90.81 261.45 94.51 259.09 95.01C256.74 95.52 254.38 94.13 252.03 93.55C249.67 92.97 247.31 91.64 244.96 91.53C242.6 91.42 240.25 92.43 237.89 92.89C235.54 93.35 233.18 93.85 230.82 94.3C228.47 94.76 226.11 95.79 223.76 95.62C221.4 95.45 217.42 94.31 216.69 93.26C215.96 92.21 219.17 91.16 219.35 89.32C219.54 87.49 218.04 84.61 217.81 82.26C217.59 79.9 216.78 82.13 218.03 75.19C219.28 68.24 217.73 46.08 225.3 40.59C232.88 35.1 255.55 44.25 263.46 42.25C271.36 40.24 271.45 24.93 272.74 28.55C274.03 32.16 278.27 58.64 271.18 63.92C264.08 69.2 238.23 55.6 230.16 60.22C222.09 64.84 223.72 85.87 222.77 91.65C221.82 97.43 223.19 104.48 224.44 94.89C225.7 85.3 226.65 34.55 230.29 34.12C233.92 33.69 244.55 89.14 246.25 92.31C247.96 95.49 234.78 60.06 240.52 53.17C246.27 46.29 274.18 49.88 280.71 51.03C287.24 52.17 279.49 57.03 279.7 60.03C279.91 63.03 282.15 66.03 281.96 69.03C281.77 72.03 281.06 78.21 278.57 78.03C276.07 77.86 271.85 76.16 266.97 68C262.08 59.84 253.26 35.19 249.25 29.07C245.24 22.96 242.2 31.05 242.91 31.29C243.63 31.53 249.2 30.62 253.54 30.51C257.88 30.41 269.06 28.35 268.93 30.66C268.81 32.97 250.57 34.78 252.78 44.38C255 53.97 277.62 82.14 282.24 88.23C286.86 94.32 280.3 83.35 280.48 80.91C280.65 78.47 283.1 76.03 283.3 73.59C283.5 71.16 282.05 68.72 281.67 66.28C281.3 63.84 281.01 61.4 281.06 58.96C281.1 56.52 281.92 54.08 281.95 51.65C281.97 49.21 281.27 46.77 281.19 44.33C281.11 41.89 281.28 39.45 281.45 37.01C281.62 34.58 282.67 30.53 282.23 29.7C281.78 28.87 280.58 32.06 278.78 32.03C276.99 32.01 272.68 29.96 271.47 29.54" fill="none" stroke="#e5231f" stroke-width="0.45" stroke-opacity="1" stroke-linejoin="round"/>
<path d="M271.47 29.54C270.25 29.46 266.59 29.32 264.15 29.06C261.71 28.8 259.27 27.56 256.83 27.98C254.39 28.4 251.96 31.31 249.52 31.55C247.08 31.79 244.64 29.19 242.2 29.42C239.76 29.66 237.32 33.28 234.89 32.95C232.45 32.62 230.01 28.26 227.57 27.43C225.13 26.61 221.57 27.52 220.25 27.99C218.93 28.46 220.28 25.8 219.64 30.26C218.99 34.72 216.86 51.87 216.38 54.74C215.9 57.62 215.72 49.93 216.77 47.53C217.81 45.12 222.4 42.72 222.65 40.31C222.9 37.9 217.22 30.3 218.27 33.09C219.31 35.89 219.73 48.96 228.91 57.07C238.09 65.18 274.81 86.52 273.33 81.76C271.86 76.99 227.6 37.17 220.05 28.46C212.5 19.76 225.38 29.64 228.04 29.53C230.7 29.43 233.37 28.02 236.03 27.83C238.69 27.63 241.49 28.46 244.02 28.37C246.56 28.28 248.84 27.41 251.25 27.3C253.66 27.2 256.07 27.38 258.48 27.75C260.88 28.12 263.29 29.42 265.7 29.5C268.11 29.57 270.52 28.15 272.93 28.2C275.34 28.25 279.58 29.31 280.15 29.78C280.73 30.24 276.11 29.58 276.39 30.98C276.68 32.39 281.14 35.8 281.84 38.21C282.54 40.62 280.58 43.03 280.57 45.43C280.57 47.84 281.52 50.25 281.8 52.66C282.07 55.07 282.17 57.48 282.22 59.89C282.28 62.3 281.96 64.71 282.14 67.11C282.32 69.52 283.09 71.93 283.3 74.34C283.51 76.75 283.53 87.23 283.4 81.57C283.27 75.9 293.55 42.28 282.51 40.35C271.48 38.43 218.04 67.08 217.2 70C216.35 72.93 267.4 55.45 277.43 57.9C287.47 60.34 279.18 85.01 277.39 84.69C275.6 84.36 271.25 64.96 266.69 55.95C262.14 46.93 254.03 35.32 250.06 30.58C246.09 25.85 245.28 28.05 242.89 27.54C240.5 27.02 238.11 27 235.71 27.5C233.32 27.99 230.93 30.35 228.54 30.5C226.15 30.66 222.58 28.7 221.37 28.45C220.16 28.2 222.14 27.72 221.29 29C220.43 30.29 217.03 33.79 216.24 36.18C215.45 38.57 216.44 40.96 216.56 43.35C216.68 45.74 215.81 48.13 216.97 50.52C218.13 52.91 223.04 55.31 223.51 57.7C223.99 60.09 220.8 62.48 219.8 64.87C218.8 67.26 217.48 69.65 217.51 72.04C217.54 74.43 219.82 76.82 219.98 79.22C220.14 81.61 218.55 84 218.48 86.39C218.4 88.78 219.12 92.45 219.54 93.56C219.97 94.67 219.59 92.93 221.03 93.06C222.48 93.19 225.82 94.01 228.21 94.32C230.6 94.64 235.39 94.86 235.38 94.95C235.37 95.04 230.57 95.2 228.16 94.89C225.75 94.58 222.87 93.34 220.94 93.09C219.01 92.85 216.46 94.57 216.59 93.42C216.72 92.27 221.63 88.6 221.71 86.2C221.78 83.79 216.93 81.38 217.03 78.98C217.12 76.57 221.4 72.96 222.28 71.76" fill="none" stroke="#e5231f" stroke-width="0.45" stroke-opacity="1" stroke-linejoin="round"/>
<path d="M222.28 71.76C221.77 70.55 219.54 66.94 219.23 64.53C218.91 62.13 220.5 59.72 220.4 57.31C220.29 54.91 219.13 52.5 218.6 50.09C218.06 47.69 216.1 45.28 217.21 42.87C218.31 40.47 225.43 38.06 225.24 35.65C225.05 33.25 212.36 29.26 216.08 28.43C219.8 27.6 242.74 21.54 247.54 30.66C252.34 39.78 243.91 72.48 244.89 83.12C245.86 93.77 250.57 92.78 253.38 94.51C256.2 96.24 258.99 93.85 261.79 93.51C264.59 93.16 267.39 92.68 270.19 92.45C272.99 92.23 276.65 92.18 278.59 92.16C280.53 92.13 290.19 97.09 281.81 92.31C273.44 87.52 230.94 63.32 228.35 63.44C225.77 63.55 258.77 88.18 266.32 93C273.88 97.81 271.24 91.99 273.7 92.35C276.15 92.71 279.63 95.41 281.07 95.16C282.5 94.91 282.37 92.8 282.31 90.86C282.25 88.91 281.12 85.94 280.71 83.49C280.31 81.03 279.69 78.57 279.88 76.11C280.06 73.66 281.26 71.2 281.82 68.74C282.37 66.28 283.17 63.83 283.22 61.37C283.27 58.91 282.61 56.45 282.12 54C281.62 51.54 280.52 49.08 280.26 46.62C280.01 44.17 281.23 41.71 280.58 39.25C279.93 36.79 276.31 33.81 276.37 31.88C276.42 29.95 281.38 28.17 280.91 27.69C280.44 27.21 275.99 29.03 273.53 28.99C271.08 28.95 268.62 27.31 266.16 27.43C263.7 27.56 261.25 29 258.79 29.74C256.33 30.49 253.87 32.3 251.42 31.92C248.96 31.53 246.5 27.39 244.04 27.43C241.59 27.47 237.9 31.36 236.67 32.14" fill="none" stroke="#e5231f" stroke-width="0.45" stroke-opacity="1" stroke-linejoin="round"/>
</g>
<g stroke="#1c1c1c" stroke-width="0.85" fill="none">
<rect x="213.2" y="25.4" width="72.6" height="71.9"/>
<line x1="227.72" y1="25.4" x2="227.72" y2="97.3"/>
<line x1="213.2" y1="39.78" x2="285.8" y2="39.78"/>
<line x1="242.24" y1="25.4" x2="242.24" y2="97.3"/>
<line x1="213.2" y1="54.16" x2="285.8" y2="54.16"/>
<line x1="256.76" y1="25.4" x2="256.76" y2="97.3"/>
<line x1="213.2" y1="68.54" x2="285.8" y2="68.54"/>
<line x1="271.28" y1="25.4" x2="271.28" y2="97.3"/>
<line x1="213.2" y1="82.92" x2="285.8" y2="82.92"/>
</g>
<clipPath id="oc3"><rect x="295.4" y="26.6" width="69.3" height="68.8"/></clipPath>
<g clip-path="url(#oc3)">
<path d="M337.94 27.26C336.74 27.52 333.15 28.65 330.75 28.77C328.36 28.89 325.96 27.7 323.57 27.97C321.17 28.24 318.78 30.39 316.38 30.38C313.99 30.36 311.59 27.95 309.19 27.88C306.8 27.81 303.85 29.87 302.01 29.95C300.17 30.04 299.12 27.44 298.17 28.38C297.21 29.31 296.1 33.17 296.27 35.57C296.45 37.96 299.08 40.36 299.23 42.75C299.37 45.15 297.26 47.54 297.17 49.94C297.07 52.33 298.61 54.73 298.66 57.13C298.71 59.52 297.6 61.92 297.45 64.31C297.3 66.71 297.82 69.1 297.74 71.5C297.65 73.89 297.22 76.29 296.94 78.68C296.67 81.08 296.15 83.48 296.1 85.87C296.05 88.27 295.76 91.75 296.65 93.06C297.54 94.36 299.45 93.5 301.44 93.69C303.44 93.88 306.24 94.01 308.63 94.19C311.03 94.37 315.81 95.36 315.82 94.76C315.82 94.15 311.04 91.22 308.66 90.56C306.27 89.9 303.14 90.36 301.5 90.79C299.85 91.22 299.35 93.94 298.78 93.14C298.2 92.34 298.35 88.36 298.03 85.98C297.7 83.59 296.88 81.2 296.82 78.82C296.77 76.43 297.54 74.04 297.7 71.66C297.85 69.27 297.76 66.88 297.75 64.5C297.74 62.11 297.69 59.72 297.63 57.34C297.57 54.95 297.54 52.56 297.38 50.17C297.22 47.79 296.78 45.4 296.68 43.01C296.57 40.63 296.42 38.24 296.75 35.85C297.09 33.47 297.88 29.83 298.7 28.69C299.52 27.56 299.95 29.06 301.67 29.03C303.38 28.99 306.56 28.76 309.01 28.5C311.45 28.23 313.9 27.46 316.35 27.44C318.79 27.42 321.24 27.71 323.69 28.4C326.13 29.09 328.58 31.09 331.03 31.59C333.47 32.08 335.92 32.09 338.37 31.38C340.81 30.67 343.26 27.91 345.71 27.34C348.15 26.78 350.6 27.87 353.05 27.99C355.49 28.11 358.78 27.6 360.39 28.07C362 28.54 362.22 29.14 362.7 30.83C363.18 32.51 363.36 35.72 363.27 38.17C363.18 40.61 362.09 42.8 362.14 45.51C362.2 48.22 363.59 51.46 363.59 54.43C363.58 57.41 362.38 63.08 362.11 63.36C361.85 63.63 361.78 58.51 362 56.08C362.22 53.66 363.4 51.24 363.41 48.81C363.41 46.39 361.94 43.96 362.03 41.54C362.12 39.12 363.65 36.45 363.96 34.27C364.27 32.09 365.12 29.62 363.9 28.46C362.67 27.29 359.05 27.03 356.62 27.29C354.2 27.54 351.78 29.82 349.35 29.99C346.93 30.15 344.5 28.09 342.08 28.28C339.66 28.46 337.23 30.86 334.81 31.12C332.38 31.38 329.96 30.08 327.54 29.84C325.11 29.6 322.69 30.08 320.26 29.7C317.84 29.31 315.42 27.74 312.99 27.53C310.57 27.32 308.14 28.25 305.72 28.42C303.3 28.59 299.87 27.93 298.45 28.53C297.03 29.13 297.36 30.23 297.21 32.02C297.06 33.82 297.49 38.08 297.55 39.3" fill="none" stroke="#e5231f" stroke-width="0.45" stroke-opacity="1" stroke-linejoin="round"/>
<path d="M297.55 39.3C297.62 40.51 298.14 44.14 297.98 46.57C297.81 48.99 296.82 53.89 296.54 53.84C296.27 53.79 296.04 48.79 296.3 46.26C296.56 43.73 298.12 41.21 298.11 38.68C298.1 36.15 295.97 32.89 296.23 31.1C296.49 29.32 297.84 28 299.68 27.96C301.52 27.93 304.73 30.87 307.26 30.87C309.78 30.88 312.31 28.42 314.84 27.97C317.36 27.51 319.95 28.27 322.42 28.15C324.88 28.02 327.24 27.2 329.65 27.21C332.06 27.23 334.48 28.22 336.89 28.22C339.3 28.21 341.71 27.27 344.12 27.2C346.54 27.14 348.95 27.44 351.36 27.83C353.77 28.22 356.68 29.35 358.6 29.53C360.51 29.72 362.29 27.83 362.84 28.93C363.39 30.04 361.72 33.76 361.87 36.17C362.03 38.58 363.45 40.99 363.78 43.41C364.11 45.82 364.19 48.23 363.85 50.64C363.52 53.05 361.95 55.47 361.78 57.88C361.62 60.29 362.51 62.7 362.86 65.11C363.21 67.53 363.83 69.94 363.88 72.35C363.94 74.76 363.6 79.91 363.19 79.59C362.77 79.26 361.69 73.45 361.4 70.38C361.11 67.31 361.14 64.25 361.46 61.18C361.78 58.11 363 54.77 363.32 51.97C363.63 49.17 363.35 46.9 363.37 44.37C363.39 41.84 363.49 39.3 363.43 36.77C363.38 34.23 363.87 30.62 363.04 29.16C362.21 27.71 360.49 28.27 358.46 28.05C356.43 27.83 353.39 27.94 350.86 27.85C348.32 27.76 345.79 27.48 343.25 27.51C340.72 27.54 338.19 28.06 335.65 28.02C333.12 27.99 330.58 27.14 328.05 27.3C325.51 27.45 322.98 28.71 320.44 28.94C317.91 29.17 315.33 28.73 312.84 28.7C310.35 28.68 307.94 28.99 305.49 28.81C303.04 28.63 299.61 27.03 298.13 27.63C296.66 28.23 296.97 30.4 296.65 32.42C296.34 34.45 296.29 37.32 296.24 39.78C296.19 42.23 296.24 44.68 296.35 47.13C296.47 49.58 296.4 52.03 296.92 54.48C297.44 56.94 299.57 59.39 299.48 61.84C299.39 64.29 296.43 66.74 296.38 69.19C296.32 71.64 299.15 74.1 299.15 76.55C299.15 79 296.53 81.45 296.37 83.9C296.21 86.35 297.63 90.22 298.2 91.26C298.78 92.29 298.32 89.93 299.81 90.12C301.3 90.3 304.71 91.84 307.16 92.34C309.62 92.84 312.07 92.81 314.52 93.12C316.97 93.43 319.42 94.25 321.87 94.19C324.32 94.14 326.78 93.35 329.23 92.79C331.68 92.23 334.13 90.63 336.58 90.83C339.03 91.03 341.47 93.49 343.94 94C346.4 94.51 348.91 94.06 351.4 93.88C353.89 93.71 356.88 93.19 358.86 92.97C360.85 92.75 362.86 93.88 363.3 92.57C363.73 91.26 361.63 87.6 361.46 85.11C361.29 82.62 362.5 80.13 362.27 77.65C362.03 75.16 360.11 72.67 360.08 70.18C360.05 67.69 361.76 63.96 362.09 62.72" fill="none" stroke="#e5231f" stroke-width="0.45" stroke-opacity="1" stroke-linejoin="round"/>
<path d="M362.09 62.72C362.08 61.47 362 57.74 361.98 55.25C361.96 52.77 361.7 50.28 361.97 47.79C362.23 45.3 363.24 42.81 363.55 40.33C363.87 37.84 364.06 34.99 363.85 32.86C363.64 30.74 363.8 28.3 362.3 27.57C360.8 26.85 357.32 28.13 354.84 28.51C352.35 28.9 349.89 29.58 347.41 29.88C344.94 30.19 342.47 30.68 339.99 30.34C337.52 29.99 335.04 28.34 332.57 27.82C330.1 27.31 327.62 27.32 325.15 27.26C322.67 27.21 320.2 27.34 317.73 27.51C315.25 27.69 312.78 28.26 310.3 28.31C307.83 28.36 305.2 27.92 302.88 27.82C300.57 27.73 297.22 26.52 296.43 27.74C295.63 28.96 297.84 32.69 298.1 35.16C298.37 37.63 298.35 40.11 298.01 42.58C297.68 45.06 296.32 47.53 296.1 50C295.89 52.48 296.35 54.95 296.74 57.43C297.13 59.9 298.33 62.37 298.46 64.85C298.59 67.32 297.9 69.8 297.51 72.27C297.11 74.74 296.22 77.22 296.07 79.69C295.93 82.16 296.62 84.65 296.63 87.11C296.64 89.57 294.9 93.19 296.12 94.44C297.34 95.7 301.33 95.02 303.93 94.65C306.53 94.27 309.13 92.67 311.74 92.19C314.34 91.71 316.92 91.4 319.55 91.77C322.17 92.13 324.83 94.38 327.47 94.35C330.11 94.32 332.76 91.71 335.4 91.58C338.04 91.45 340.68 93.31 343.33 93.59C345.97 93.87 348.61 93.16 351.25 93.24C353.89 93.32 357.46 94.31 359.18 94.07C360.9 93.83 361.18 92.17 361.58 91.79" fill="none" stroke="#e5231f" stroke-width="0.45" stroke-opacity="1" stroke-linejoin="round"/>
<path d="M316.73 29.58C316.93 31.17 317.53 36.36 317.93 39.15C318.32 41.95 317.73 44.54 319.12 46.33C320.52 48.13 323.51 49.33 326.31 49.93C329.1 50.52 333.09 50.92 335.88 49.93C338.67 48.93 341.27 46.53 343.06 43.94C344.86 41.35 345.26 36.76 346.65 34.36C348.05 31.97 350.64 30.37 351.44 29.58" fill="none" stroke="#e5231f" stroke-width="0.55" stroke-opacity="0.95" stroke-linejoin="round"/>
<path d="M305.96 34.36C306.15 36.76 306.15 43.94 307.15 48.73C308.15 53.52 309.95 58.7 311.94 63.09C313.94 67.48 317.13 71.47 319.12 75.06C321.12 78.65 322.31 82.05 323.91 84.64C325.51 87.23 327.9 89.63 328.7 90.62" fill="none" stroke="#e5231f" stroke-width="0.55" stroke-opacity="0.95" stroke-linejoin="round"/>
<path d="M298.77 34.36C299.37 36.76 301.17 43.94 302.36 48.73C303.56 53.52 305.96 58.31 305.96 63.09C305.96 67.88 303.76 73.47 302.36 77.46C300.97 81.45 298.37 85.44 297.58 87.03" fill="none" stroke="#e5231f" stroke-width="0.55" stroke-opacity="0.95" stroke-linejoin="round"/>
<path d="M351.44 34.36C351.24 36.76 350.84 43.94 350.25 48.73C349.65 53.52 348.05 58.31 347.85 63.09C347.65 67.88 348.45 73.07 349.05 77.46C349.65 81.85 351.04 87.43 351.44 89.43" fill="none" stroke="#e5231f" stroke-width="0.55" stroke-opacity="0.95" stroke-linejoin="round"/>
<path d="M356.23 39.15C356.83 41.15 359.62 47.73 359.82 51.12C360.02 54.51 358.11 58.7 357.43 59.5C356.75 60.3 355.55 56.91 355.75 55.91C355.95 54.91 357.95 53.12 358.62 53.52C359.3 53.92 359.62 57.51 359.82 58.31" fill="none" stroke="#e5231f" stroke-width="0.55" stroke-opacity="0.95" stroke-linejoin="round"/>
<path d="M359.82 43.94C359.42 47.93 357.23 61.1 357.43 67.88C357.63 74.66 360.42 81.85 361.02 84.64" fill="none" stroke="#e5231f" stroke-width="0.55" stroke-opacity="0.95" stroke-linejoin="round"/>
<path d="M297.58 83.44C299.97 83.04 307.15 81.25 311.94 81.05C316.73 80.85 321.52 81.25 326.31 82.25C331.09 83.24 335.88 85.44 340.67 87.03C345.46 88.63 352.64 91.02 355.03 91.82" fill="none" stroke="#e5231f" stroke-width="0.55" stroke-opacity="0.95" stroke-linejoin="round"/>
<path d="M295.18 89.43C297.18 89.83 302.36 91.42 307.15 91.82C311.94 92.22 318.72 92.02 323.91 91.82C329.1 91.62 335.88 90.82 338.28 90.62" fill="none" stroke="#e5231f" stroke-width="0.55" stroke-opacity="0.95" stroke-linejoin="round"/>
<path d="M302.36 29.58C301.97 31.57 299.77 37.16 299.97 41.55C300.17 45.94 303.76 51.52 303.56 55.91C303.36 60.3 299.57 65.89 298.77 67.88" fill="none" stroke="#e5231f" stroke-width="0.55" stroke-opacity="0.95" stroke-linejoin="round"/>
<path d="M335.88 30.77C336.48 31.77 337.48 35.36 339.47 36.76C341.47 38.15 344.86 39.55 347.85 39.15C350.84 38.75 355.83 35.16 357.43 34.36" fill="none" stroke="#e5231f" stroke-width="0.55" stroke-opacity="0.95" stroke-linejoin="round"/>
</g>
<g stroke="#1c1c1c" stroke-width="0.85" fill="none">
<rect x="293.5" y="25.4" width="72.1" height="71.9"/>
<line x1="307.92" y1="25.4" x2="307.92" y2="97.3"/>
<line x1="293.5" y1="39.78" x2="365.6" y2="39.78"/>
<line x1="322.34" y1="25.4" x2="322.34" y2="97.3"/>
<line x1="293.5" y1="54.16" x2="365.6" y2="54.16"/>
<line x1="336.76" y1="25.4" x2="336.76" y2="97.3"/>
<line x1="293.5" y1="68.54" x2="365.6" y2="68.54"/>
<line x1="351.18" y1="25.4" x2="351.18" y2="97.3"/>
<line x1="293.5" y1="82.92" x2="365.6" y2="82.92"/>
</g>
<clipPath id="oc4"><rect x="375.2" y="26.6" width="69.9" height="68.8"/></clipPath>
<g clip-path="url(#oc4)">
<path d="M444.42 27.99C443.35 27.91 440.28 27.49 437.99 27.51C435.7 27.52 433.12 28.01 430.68 28.05C428.25 28.09 425.82 27.62 423.38 27.72C420.95 27.82 418.52 28.5 416.08 28.64C413.65 28.77 411.21 28.57 408.78 28.53C406.35 28.49 403.91 28.46 401.48 28.4C399.05 28.35 396.61 28.18 394.18 28.18C391.74 28.19 389.31 28.27 386.88 28.46C384.44 28.64 381.32 28.96 379.57 29.29C377.83 29.62 376.44 29.08 376.41 30.43C376.37 31.79 379.3 35.11 379.39 37.44C379.48 39.78 377.54 42.12 376.96 44.45C376.37 46.79 375.81 49.13 375.88 51.46C375.96 53.8 377.34 56.14 377.4 58.47C377.47 60.81 376.23 63.15 376.26 65.48C376.3 67.82 377.53 70.16 377.61 72.49C377.7 74.83 376.86 77.16 376.78 79.5C376.7 81.84 377.02 84.17 377.12 86.51C377.23 88.85 376.67 92.49 377.4 93.52C378.14 94.55 379.67 92.66 381.53 92.71C383.39 92.76 386.2 93.91 388.54 93.82C390.88 93.73 393.21 92.29 395.55 92.16C397.89 92.02 400.22 92.88 402.56 93.01C404.89 93.14 407.23 92.65 409.57 92.94C411.9 93.23 414.24 94.48 416.58 94.74C418.91 95 421.25 94.52 423.59 94.51C425.92 94.5 428.09 95.15 430.6 94.69C433.1 94.24 436.6 92.12 438.6 91.79C440.59 91.46 441.6 93.89 442.55 92.71C443.49 91.53 444.26 87.37 444.29 84.71C444.31 82.04 443.07 79.37 442.68 76.71C442.29 74.04 441.73 71.22 441.93 68.71C442.14 66.2 443.73 63.98 443.9 61.62C444.07 59.26 442.97 56.9 442.97 54.53C442.98 52.17 443.86 49.81 443.95 47.44C444.04 45.08 443.41 42.72 443.49 40.36C443.58 37.99 444.49 35.22 444.49 33.27C444.48 31.31 444.83 29.55 443.48 28.62C442.13 27.69 438.75 27.89 436.39 27.68C434.03 27.46 431.66 27.18 429.3 27.33C426.94 27.48 424.58 28.49 422.21 28.58C419.85 28.66 417.49 27.86 415.13 27.84C412.76 27.81 410.4 28.35 408.04 28.45C405.67 28.54 403.31 28.47 400.95 28.4C398.59 28.32 396.22 28.12 393.86 28.02C391.5 27.91 389.13 27.88 386.77 27.79C384.41 27.69 381.11 26.99 379.68 27.43C378.25 27.86 378.18 30.41 378.18 30.41C378.19 30.4 378.26 27.92 379.69 27.42C381.12 26.91 384.42 27.37 386.79 27.38C389.15 27.39 391.52 26.8 393.88 27.46C396.25 28.13 398.61 31.35 400.98 31.38C403.34 31.42 405.71 28.33 408.08 27.69C410.44 27.04 412.81 27.51 415.17 27.52C417.54 27.53 422.26 27.57 422.27 27.73C422.27 27.9 417.56 28.37 415.21 28.51C412.86 28.64 410.51 28.47 408.16 28.55C405.81 28.63 403.45 29.24 401.1 29.01C398.75 28.79 396.4 26.92 394.05 27.2C391.7 27.49 388.17 30.15 386.99 30.74" fill="none" stroke="#e5231f" stroke-width="0.45" stroke-opacity="1" stroke-linejoin="round"/>
<path d="M386.99 30.74C385.82 30.48 381.75 29.3 379.94 29.2C378.12 29.09 376.35 28.79 376.11 30.12C375.86 31.45 378.11 34.82 378.47 37.17C378.82 39.53 378.54 41.88 378.23 44.23C377.92 46.58 376.85 48.93 376.6 51.28C376.36 53.64 376.56 55.99 376.76 58.34C376.95 60.69 377.72 65.7 377.78 65.4C377.83 65.09 376.99 59.37 377.09 56.51C377.19 53.66 378.39 51.32 378.39 48.27C378.39 45.23 377.28 41.59 377.09 38.25C376.91 34.9 376.04 29.82 377.28 28.22C378.51 26.61 382.08 28.76 384.49 28.61C386.89 28.46 389.3 27.53 391.7 27.31C394.1 27.09 396.51 26.95 398.91 27.28C401.31 27.62 403.72 29.32 406.12 29.33C408.53 29.33 410.93 27.67 413.33 27.31C415.74 26.96 418.14 27.11 420.54 27.21C422.95 27.3 425.35 27.75 427.76 27.9C430.16 28.05 432.56 27.75 434.97 28.1C437.37 28.45 440.83 29.34 442.18 30.01C443.53 30.67 442.89 30.54 443.08 32.09C443.27 33.64 443.31 36.9 443.3 39.3C443.29 41.7 443.57 44.11 443.03 46.51C442.48 48.91 440.06 51.32 440.05 53.72C440.03 56.13 442.28 60.96 442.93 60.93C443.59 60.91 443.92 56.03 443.98 53.58C444.04 51.12 443.36 48.67 443.3 46.22C443.25 43.77 443.48 41.32 443.65 38.86C443.82 36.41 444.71 33.11 444.34 31.51C443.98 29.9 443.16 29.35 441.45 29.21C439.74 29.07 436.54 30.95 434.09 30.67C431.64 30.39 429.19 27.75 426.74 27.55C424.28 27.34 421.83 29.18 419.38 29.42C416.93 29.65 414.47 28.85 412.02 28.94C409.57 29.04 407.12 30.27 404.66 30C402.21 29.72 399.76 27.53 397.31 27.28C394.86 27.03 392.4 28.2 389.95 28.51C387.5 28.82 384.75 29.26 382.59 29.14C380.44 29.01 377.83 26.77 377.03 27.76C376.23 28.76 377.69 32.67 377.78 35.12C377.88 37.57 377.75 40.02 377.58 42.48C377.41 44.93 377.01 47.39 376.76 49.83C376.51 52.27 375.64 54.69 376.09 57.12C376.53 59.55 378.85 61.97 379.44 64.4C380.02 66.83 380.16 69.26 379.61 71.69C379.06 74.11 376.44 76.54 376.15 78.97C375.87 81.4 377.76 83.83 377.9 86.25C378.04 88.68 376.33 92.47 376.98 93.54C377.63 94.61 379.8 92.72 381.82 92.67C383.84 92.62 386.68 93.03 389.11 93.25C391.53 93.46 393.96 93.96 396.39 93.94C398.82 93.93 403.65 93.16 403.67 93.16C403.7 93.16 398.92 93.81 396.54 93.92C394.16 94.04 391.78 93.82 389.4 93.87C387.02 93.92 384.53 94.19 382.26 94.24C380 94.28 376.53 95.33 375.8 94.13C375.08 92.92 377.73 89.37 377.94 86.99C378.14 84.61 377.37 82.23 377.04 79.85C376.71 77.47 376.04 75.09 375.95 72.72C375.87 70.34 376.42 66.77 376.52 65.58" fill="none" stroke="#e5231f" stroke-width="0.45" stroke-opacity="1" stroke-linejoin="round"/>
<path d="M376.52 65.58C376.51 64.39 376.43 60.82 376.46 58.44C376.48 56.06 376.56 53.68 376.66 51.31C376.76 48.93 376.78 46.55 377.06 44.17C377.34 41.79 378.5 39.41 378.35 37.03C378.2 34.65 375.84 31.21 376.15 29.9C376.47 28.58 378.37 29.45 380.24 29.15C382.11 28.84 385 28.26 387.38 28.06C389.76 27.87 392.23 27.68 394.52 27.97C396.8 28.25 398.83 29.88 401.1 29.8C403.37 29.71 405.79 27.52 408.13 27.44C410.47 27.36 412.81 29.28 415.15 29.31C417.5 29.34 419.84 27.72 422.18 27.63C424.52 27.53 426.86 28.69 429.21 28.73C431.55 28.77 433.89 27.5 436.23 27.89C438.57 28.29 442.21 30.25 443.26 31.1C444.3 31.95 442.31 31.5 442.51 32.98C442.7 34.47 444.74 37.67 444.43 40.01C444.11 42.35 440.84 44.69 440.62 47.04C440.39 49.38 442.47 51.72 443.08 54.06C443.69 56.4 444.06 61.23 444.29 61.09C444.51 60.94 444.52 55.82 444.43 53.19C444.34 50.56 443.99 47.93 443.74 45.3C443.49 42.66 443.1 40.03 442.94 37.4C442.78 34.77 442.62 29.63 442.78 29.5C442.95 29.38 443.91 34.27 443.94 36.65C443.97 39.03 443.17 41.41 442.97 43.79C442.76 46.18 442.8 48.56 442.72 50.94C442.64 53.32 442.51 55.7 442.47 58.08C442.44 60.47 442.74 62.85 442.51 65.23C442.27 67.61 441.03 69.99 441.07 72.38C441.12 74.76 442.28 77.14 442.76 79.52C443.24 81.9 443.99 84.28 443.94 86.67C443.88 89.05 443.38 92.51 442.45 93.81C441.52 95.11 440.22 94.46 438.34 94.44C436.47 94.42 433.58 93.66 431.2 93.7C428.82 93.74 426.43 94.56 424.05 94.66C421.67 94.76 419.29 94.71 416.91 94.29C414.53 93.87 412.14 92.45 409.76 92.14C407.38 91.84 404.58 92.2 402.62 92.46C400.66 92.71 397.46 93.67 398.02 93.66C398.57 93.65 403.31 92.57 405.96 92.38C408.61 92.19 411.25 92.19 413.9 92.51C416.55 92.84 419.2 94.14 421.84 94.32C424.49 94.51 427.14 94.08 429.79 93.62C432.43 93.17 435.6 91.89 437.73 91.58C439.86 91.28 441.67 93.6 442.58 91.8C443.49 90 443.21 81.38 443.16 80.76C443.11 80.15 442.18 85.85 442.29 88.12C442.4 90.39 444.8 93.66 443.83 94.38C442.86 95.09 438.93 92.62 436.47 92.41C434.02 92.2 431.57 93.04 429.12 93.13C426.67 93.21 424.22 92.98 421.77 92.92C419.31 92.87 416.86 92.58 414.41 92.78C411.96 92.98 409.51 94.02 407.06 94.12C404.61 94.22 402.15 93.53 399.7 93.39C397.25 93.24 394.8 93.05 392.35 93.25C389.9 93.46 387.45 94.41 384.99 94.6C382.54 94.8 379.07 95.32 377.64 94.43C376.21 93.55 376.6 91.37 376.42 89.29C376.24 87.2 376.55 83.16 376.57 81.93" fill="none" stroke="#e5231f" stroke-width="0.45" stroke-opacity="1" stroke-linejoin="round"/>
<path d="M376.57 81.93C376.59 80.71 376.62 74.57 376.64 74.58C376.66 74.58 376.6 79.49 376.69 81.95C376.77 84.41 376.98 87.22 377.15 89.32C377.31 91.42 376.37 93.7 377.69 94.55C379.02 95.39 382.61 94.66 385.07 94.39C387.53 94.13 389.98 93.42 392.44 92.97C394.9 92.52 397.36 91.44 399.81 91.69C402.27 91.93 404.73 94.2 407.19 94.44C409.64 94.69 412.1 93.56 414.56 93.18C417.02 92.81 419.47 92.17 421.93 92.19C424.39 92.2 426.85 92.85 429.3 93.27C431.76 93.68 434.22 94.68 436.68 94.66C439.13 94.64 443.02 94.29 444.05 93.16C445.08 92.03 442.93 89.99 442.87 87.88C442.81 85.77 444.02 82.96 443.69 80.51C443.36 78.05 440.98 75.59 440.9 73.13C440.82 70.68 442.64 65.68 443.21 65.76C443.78 65.84 444.18 71 444.32 73.61C444.47 76.23 444.06 78.85 444.07 81.47C444.07 84.08 444.7 87.29 444.38 89.32C444.05 91.35 443.81 92.92 442.13 93.67C440.44 94.42 436.89 93.86 434.27 93.83C431.66 93.81 429.04 93.72 426.42 93.53C423.8 93.33 421.6 92.77 418.57 92.68C415.54 92.59 411.69 92.81 408.26 93.01C404.82 93.2 398.49 93.61 397.95 93.84C397.4 94.07 402.64 94.4 404.98 94.39C407.33 94.38 409.67 93.77 412.02 93.76C414.36 93.75 416.71 94.27 419.05 94.31C421.4 94.35 423.74 94.31 426.09 94.01C428.43 93.72 430.78 92.49 433.12 92.54C435.46 92.6 438.38 94.44 440.15 94.37C441.93 94.3 443.13 93.66 443.74 92.11C444.36 90.56 443.78 87.42 443.86 85.08C443.94 82.73 444.43 80.39 444.24 78.04C444.04 75.7 442.98 73.35 442.7 71.01C442.42 68.66 442.53 66.32 442.56 63.97C442.58 61.63 442.57 59.28 442.83 56.94C443.1 54.59 444.03 52.25 444.12 49.9C444.21 47.56 443.58 45.21 443.37 42.87C443.16 40.52 443.51 38.18 442.87 35.83C442.23 33.49 440.17 29.69 439.54 28.8C438.9 27.91 440.45 30.6 439.06 30.5C437.67 30.4 433.81 28.65 431.19 28.18C428.56 27.72 425.94 27.84 423.31 27.69C420.69 27.55 418.06 27.24 415.44 27.3C412.81 27.37 410.19 28.11 407.56 28.1C404.94 28.08 402.3 27.23 399.69 27.21C397.08 27.19 394.51 27.36 391.92 27.97C389.33 28.58 386.74 30.41 384.15 30.86C381.55 31.31 377.71 30.07 376.37 30.66C375.03 31.25 376.02 32.48 376.1 34.4C376.19 36.32 376.75 40.87 376.88 42.17" fill="none" stroke="#e5231f" stroke-width="0.45" stroke-opacity="1" stroke-linejoin="round"/>
<path d="M380.17 30.77C381.57 31.77 385.56 34.96 388.55 36.76C391.54 38.55 394.14 40.55 398.13 41.55C402.12 42.54 408.5 42.34 412.49 42.74C416.48 43.14 419.87 43.34 422.07 43.94C424.26 44.54 425.26 45.14 425.66 46.33C426.06 47.53 425.86 50.72 424.46 51.12C423.07 51.52 420.07 48.33 417.28 48.73C414.49 49.13 410.5 51.52 407.7 53.52C404.91 55.51 403.31 58.7 400.52 60.7C397.73 62.69 393.94 64.49 390.94 65.49C387.95 66.48 384.76 66.29 382.57 66.68C380.37 67.08 378.58 67.68 377.78 67.88" fill="none" stroke="#e5231f" stroke-width="0.55" stroke-opacity="0.95" stroke-linejoin="round"/>
<path d="M377.78 53.52C378.77 54.71 382.37 57.91 383.76 60.7C385.16 63.49 386.56 67.08 386.16 70.28C385.76 73.47 382.76 77.06 381.37 79.85C379.97 82.64 378.38 85.84 377.78 87.03" fill="none" stroke="#e5231f" stroke-width="0.55" stroke-opacity="0.95" stroke-linejoin="round"/>
<path d="M378.97 34.36C379.57 36.36 382.57 42.34 382.57 46.33C382.57 50.32 379.09 54.12 378.97 58.31C378.85 62.49 381.37 69.28 381.85 71.47" fill="none" stroke="#e5231f" stroke-width="0.55" stroke-opacity="0.95" stroke-linejoin="round"/>
<path d="M380.17 82.25C381.57 82.45 385.56 83.64 388.55 83.44C391.54 83.24 394.93 82.13 398.13 81.05C401.32 79.97 406.11 77.66 407.7 76.98" fill="none" stroke="#e5231f" stroke-width="0.55" stroke-opacity="0.95" stroke-linejoin="round"/>
<path d="M376.58 77.46C377.78 79.05 381.77 84.64 383.76 87.03C385.76 89.43 387.75 91.02 388.55 91.82" fill="none" stroke="#e5231f" stroke-width="0.55" stroke-opacity="0.95" stroke-linejoin="round"/>
<path d="M442.42 34.36C442.02 36.76 439.82 43.94 440.02 48.73C440.22 53.52 444.01 58.31 443.61 63.09C443.22 67.88 438.03 72.67 437.63 77.46C437.23 82.25 440.62 89.43 441.22 91.82" fill="none" stroke="#e5231f" stroke-width="0.55" stroke-opacity="0.95" stroke-linejoin="round"/>
<path d="M436.43 65.49C435.83 67.48 433.04 73.47 432.84 77.46C432.64 81.45 434.84 87.43 435.23 89.43" fill="none" stroke="#e5231f" stroke-width="0.55" stroke-opacity="0.95" stroke-linejoin="round"/>
<path d="M431.64 31.97C432.44 33.17 434.84 38.35 436.43 39.15C438.03 39.95 440.42 37.16 441.22 36.76" fill="none" stroke="#e5231f" stroke-width="0.55" stroke-opacity="0.95" stroke-linejoin="round"/>
<path d="M393.34 29.58C394.54 30.37 397.33 33.77 400.52 34.36C403.71 34.96 408.9 33.77 412.49 33.17C416.08 32.57 420.47 31.17 422.07 30.77" fill="none" stroke="#e5231f" stroke-width="0.55" stroke-opacity="0.95" stroke-linejoin="round"/>
<path d="M381.37 41.55C382.57 42.74 387.95 46.33 388.55 48.73C389.15 51.12 386.36 55.51 384.96 55.91C383.56 56.31 380.97 51.92 380.17 51.12" fill="none" stroke="#e5231f" stroke-width="0.55" stroke-opacity="0.95" stroke-linejoin="round"/>
<path d="M378.97 88.23C380.97 88.43 386.95 88.83 390.94 89.43C394.93 90.03 398.53 91.62 402.92 91.82C407.3 92.02 412.49 90.62 417.28 90.62C422.07 90.62 429.25 91.62 431.64 91.82" fill="none" stroke="#e5231f" stroke-width="0.55" stroke-opacity="0.95" stroke-linejoin="round"/>
<path d="M377.06 70.28C377.58 71.47 379.93 75.06 380.17 77.46C380.41 79.85 378.1 82.25 378.5 84.64C378.89 87.03 381.89 90.62 382.57 91.82" fill="none" stroke="#e5231f" stroke-width="0.55" stroke-opacity="0.95" stroke-linejoin="round"/>
</g>
<g stroke="#1c1c1c" stroke-width="0.85" fill="none">
<rect x="373.3" y="25.4" width="72.7" height="71.9"/>
<line x1="387.84" y1="25.4" x2="387.84" y2="97.3"/>
<line x1="373.3" y1="39.78" x2="446" y2="39.78"/>
<line x1="402.38" y1="25.4" x2="402.38" y2="97.3"/>
<line x1="373.3" y1="54.16" x2="446" y2="54.16"/>
<line x1="416.92" y1="25.4" x2="416.92" y2="97.3"/>
<line x1="373.3" y1="68.54" x2="446" y2="68.54"/>
<line x1="431.46" y1="25.4" x2="431.46" y2="97.3"/>
<line x1="373.3" y1="82.92" x2="446" y2="82.92"/>
</g>
<path d="M56.34 140.07 L64.15 139.98 L71.97 141.09 L79.79 142.31 L87.6 141.13 L95.42 139.74 L103.23 140.09 L111.05 140.73 L114.94 140.46 L106.65 140.58 L98.36 140.93 L90.06 140.12 L81.77 140.78 L73.48 141.01 L65.18 142.22 L56.89 140.73 L56.94 141.54 L64.81 140.92 L72.69 140.3 L80.56 140.76 L88.44 141.57 L96.31 140.49 L104.19 141.68 L112.07 142.12 L110.14 139.66 L102.81 141.08 L95.49 140.18 L88.17 141.61 L80.84 140.85 L73.52 140.98 L66.19 141.19 L58.87 140.26 L54.39 142.62 L62.76 140.38 L71.13 140.8 L79.5 139.22 L87.87 139.48 L96.24 140.04 L104.61 141.49 L112.99 141.46 L113.22 142.42 L104.89 139.88 L96.57 140.03 L88.24 141.21 L79.91 139.9 L71.59 141.02 L63.26 141.64 L54.94 140.72 L55.31 140.19 L63.8 137.98 L72.3 139.7 L80.8 140.78 L89.29 139.33 L97.79 140.28 L106.28 140.97 L114.78 141.96 L113.54 140.98 L105.6 141.25 L97.65 139.56 L89.71 142.43 L81.76 140.06 L73.82 141.75 L65.87 140.6 L57.93 141.14 L59.04 140.9 L66.72 139.89 L74.4 140.2 L82.08 139.52 L89.76 142.57 L97.44 139.4 L105.12 138.49 L112.8 142.24 L114.04 141.53 L106.02 140.05 L98 140.27 L89.98 141.23 L81.95 141.13 L73.93 140.37 L65.91 142.23 L57.89 141.44 L54.52 140.9 L62.67 140.5 L70.82 140.71 L78.98 141.49 L87.13 140.27 L95.28 141.02 L103.44 141.49 L111.59 141.1 L109.91 140.72 L102.91 139.72 L95.92 140.72 L88.92 143.02 L81.92 139.32 L74.92 140.52 L67.92 141.36 L60.92 140.86 L56.81 141.65 L64.48 139.92 L72.14 139.69 L79.8 141.28 L87.47 141.2 L95.13 140.12 L102.79 140.04 L110.46 140.6 L114.57 139.87 L105.93 138.7 L97.28 141.94 L88.63 140.93 L79.99 139.66 L71.34 139.37 L62.7 140.15 L54.05 140.4 L60.28 141.15 L67.49 140.48 L74.71 141.08 L81.92 140.97 L89.13 141.72 L96.34 140.91 L103.55 141.9 L110.77 142.15 L113.71 139.98 L105.3 140.56 L96.9 140.12 L88.49 140.77 L80.09 141.04 L71.68 141.25 L63.28 139.73 L54.87 141.73" fill="none" stroke="#e5231f" stroke-width="0.45" stroke-opacity="0.6" stroke-linejoin="round"/>
<path d="M84.9 109.73 L83.87 118.45 L85.44 127.17 L84.03 135.89 L86.03 144.61 L85.29 153.32 L86.35 162.04 L85.71 170.76 L85.23 167.48 L86.33 159.38 L85.17 151.28 L85.44 143.18 L84.79 135.08 L85.64 126.98 L85.73 118.88 L84.91 110.78 L85.55 112.16 L85.15 120.55 L84.58 128.95 L84.75 137.35 L85.07 145.75 L83.43 154.14 L84.85 162.54 L86.26 170.94 L86.43 170.48 L85.75 162.15 L85.9 153.82 L85.15 145.49 L84.33 137.16 L87.26 128.83 L85.47 120.5 L85.42 112.16 L85.3 113.11 L84.49 121.09 L85.15 129.07 L85.15 137.05 L84.78 145.02 L84.65 153 L84.56 160.98 L85.17 168.96 L85.96 169.96 L85.48 161.46 L85.27 152.96 L86.34 144.46 L85.71 135.96 L84.23 127.46 L84.76 118.96 L85.39 110.46 L84.03 111.17 L83.93 119.45 L85.94 127.72 L85.66 136 L84.14 144.27 L85.31 152.55 L86.19 160.82 L84.48 169.1 L84.57 167.99 L84.04 159.98 L84.92 151.97 L84.24 143.97 L85.3 135.96 L86.81 127.96 L84.52 119.95 L85.88 111.95 L85.33 111.92 L85.24 119.54 L85.02 127.16 L85.81 134.78 L84.95 142.4 L85.5 150.02 L84.98 157.64 L85.16 165.26 L85.21 165.33 L84.47 157.56 L86.61 149.79 L86.35 142.02 L85.11 134.25 L84.79 126.48 L84.74 118.71 L86.11 110.95 L85.84 109.81 L85.06 118.3 L85.21 126.79 L86.6 135.28 L85.85 143.77 L86.12 152.25 L85.54 160.74 L86.15 169.23 L85.98 168.6 L84.96 160.14 L84.36 151.69 L85.62 143.23 L85.17 134.78 L85.68 126.33 L84.83 117.87 L85.62 109.42" fill="none" stroke="#e5231f" stroke-width="0.45" stroke-opacity="0.6" stroke-linejoin="round"/>
<g stroke="#333" stroke-width="0.6" fill="none">
<rect x="80.1" y="104.4" width="9.7" height="72.8"/>
<rect x="46.4" y="136.2" width="77.1" height="9.5"/>
</g>
<path d="M136.59 143.98 L145.23 141.23 L153.87 140.93 L162.51 141.17 L171.15 140.27 L179.79 140.08 L188.43 141.25 L197.07 140.33 L196.84 139.07 L188.37 139.51 L179.9 139.94 L171.43 138.87 L162.96 140.68 L154.49 140.48 L146.02 141.63 L137.55 139.94 L135.72 141.45 L144.29 139.79 L152.86 142.19 L161.42 140.16 L169.99 141.88 L178.56 140.47 L187.12 140.36 L195.69 139.58 L189.99 140.15 L182.19 142.2 L174.39 142 L166.59 140.38 L158.8 141.8 L151 142.06 L143.2 140.46 L135.4 140.25 L138.52 142.76 L146.79 141.16 L155.05 139.66 L163.32 140.71 L171.58 139.63 L179.85 141.46 L188.11 141.42 L196.38 140.36 L194.67 140.4 L186.55 141.91 L178.42 139.83 L170.29 140.49 L162.16 140.24 L154.04 139.77 L145.91 143.32 L137.78 142.34 L136.97 139.05 L145.25 141.94 L153.54 141.78 L161.83 140.43 L170.12 140.42 L178.41 140.99 L186.7 141.19 L194.99 140.41 L196.7 140.35 L188.26 141.5 L179.83 140.84 L171.4 140.98 L162.96 139.19 L154.53 140.4 L146.1 140.39 L137.66 140.27 L135.34 139.32 L144.09 141.65 L152.84 141.63 L161.59 140.27 L170.33 141.35 L179.08 139.88 L187.83 139.57 L196.58 140.57 L197.23 139.32 L189.05 140.99 L180.86 140.23 L172.68 140.09 L164.49 141.11 L156.31 139.12 L148.13 139.08 L139.94 139.39 L138.51 140.21 L146.88 140.14 L155.25 141.4 L163.62 141.97 L171.99 140.1 L180.36 141.04 L188.73 143.02 L197.1 141.36 L196.3 140.89 L187.67 141.43 L179.04 141.13 L170.41 140.33 L161.78 140.68 L153.16 141.15 L144.53 140.15 L135.9 140.87 L137.73 142.27 L145.69 139.98 L153.64 141.6 L161.6 140.96 L169.56 140.89 L177.52 140.56 L185.48 141.05 L193.44 141.75 L194.14 140.55 L186.22 139.76 L178.29 140.75 L170.37 141.4 L162.45 140.72 L154.53 141.08 L146.61 140.48 L138.69 140.29 L138.32 141.74 L146.38 141.12 L154.44 140.54 L162.5 140.59 L170.56 140.53 L178.61 140.77 L186.67 140.76 L194.73 140.67 L191.06 141.12 L183.89 140.21 L176.73 140.27 L169.56 140.64 L162.4 139.77 L155.23 142.25 L148.06 140.8 L140.9 140.64 L138.12 141.48 L146.19 142.2 L154.25 141.64 L162.31 140.04 L170.37 139.62 L178.44 142.08 L186.5 140.17 L194.56 140.7 L195.76 141.32 L187.12 139.84 L178.49 140.2 L169.85 139.18 L161.22 141.33 L152.58 140.65 L143.94 139.23 L135.31 141.77" fill="none" stroke="#e5231f" stroke-width="0.45" stroke-opacity="0.6" stroke-linejoin="round"/>
<path d="M166.79 131.18 L166.67 134.95 L167.17 138.71 L167.24 142.48 L166.68 146.24 L167.4 150 L165.21 153.77 L166.85 157.53 L167.67 157.38 L166.34 153.88 L165.87 150.37 L166.85 146.86 L168.74 143.35 L167.28 139.85 L166.56 136.34 L165.88 132.83 L167.45 131.52 L167.23 135.44 L165.4 139.37 L167 143.29 L167.66 147.21 L166.66 151.14 L166.22 155.06 L166.25 158.99 L168.1 154.23 L166.65 151.38 L168.07 148.53 L166.32 145.68 L166.69 142.83 L166.55 139.98 L166.95 137.13 L167.56 134.28" fill="none" stroke="#e5231f" stroke-width="0.45" stroke-opacity="0.6" stroke-linejoin="round"/>
<g stroke="#333" stroke-width="0.6" fill="none">
<rect x="161.8" y="104.4" width="9.9" height="72.8"/>
<rect x="127.4" y="136.2" width="79.3" height="9.5"/>
</g>
<path d="M225.01 141.04 L232.62 140.51 L240.23 139.96 L247.84 140.23 L255.45 140.28 L263.06 140.66 L270.67 141.1 L278.28 141.66 L278.35 141.13 L269.88 140.81 L261.42 140.52 L252.96 139.84 L244.49 139.29 L236.03 140.63 L227.56 140.55 L219.1 140.99 L219.33 140.06 L227.66 139.7 L236 141.59 L244.34 140.59 L252.67 140.8 L261.01 139.89 L269.35 139.56 L277.68 140.17 L280.43 139.34 L271.66 140.98 L262.88 139.92 L254.1 140.22 L245.33 140.39 L236.55 140.31 L227.78 141.1 L219 141.47 L219.3 141.06 L227.94 141.02 L236.58 141.45 L245.22 140.93 L253.86 139.25 L262.5 140.01 L271.15 140.33 L279.79 141.51 L279.12 140.95 L270.54 139.63 L261.97 140.73 L253.4 141.18 L244.83 141.05 L236.26 139.37 L227.68 141.06 L219.11 140.17 L224.95 138.94 L232.77 139.56 L240.59 141.96 L248.42 142.87 L256.24 141.63 L264.06 141.07 L271.88 142.37 L279.71 140.99 L274.13 141.49 L266.63 138.69 L259.12 138.15 L251.62 140.11 L244.12 140.74 L236.62 139.92 L229.11 141.61 L221.61 140.61 L218.92 140.17 L227.71 140.88 L236.51 142.77 L245.3 139.86 L254.1 140.84 L262.89 141.16 L271.69 140.21 L280.48 140.65 L280.11 140.73 L272.07 141.69 L264.02 141.54 L255.97 140.18 L247.93 139.7 L239.88 142.34 L231.83 141.5 L223.79 138.99 L219.68 140.16 L228.12 139.16 L236.55 140.33 L244.99 140.24 L253.43 140.49 L261.86 141.64 L270.3 140.91 L278.74 139.61 L279.87 141.74 L271.86 141.55 L263.86 140.18 L255.86 141.75 L247.85 141.1 L239.85 140.17 L231.84 141.1 L223.84 140.64 L221.97 140.86 L230.28 141.9 L238.6 139.78 L246.91 140.93 L255.23 140.73 L263.54 140.67 L271.86 139.62 L280.18 141.85 L276.91 141.14 L269.11 142.05 L261.3 141.21 L253.5 141.62 L245.7 140.42 L237.89 140.92 L230.09 140.43 L222.29 139.77 L219.9 139.72 L228.22 140.37 L236.54 140.18 L244.86 142.59 L253.18 142.33 L261.5 141.7 L269.82 141.44 L278.14 139.95 L277.18 140.16 L268.9 140.29 L260.63 140.4 L252.35 141.51 L244.08 140.02 L235.8 142.91 L227.53 140.27 L219.26 141.5 L223.33 139.62 L231.28 140.91 L239.22 140.72 L247.16 141.48 L255.1 141.28 L263.04 141.08 L270.98 140.6 L278.93 142.5 L281.58 140.31 L272.77 140.86 L263.97 139.86 L255.17 140.36 L246.36 141.19 L237.56 140.21 L228.75 141.15 L219.95 140.2" fill="none" stroke="#e5231f" stroke-width="0.45" stroke-opacity="0.6" stroke-linejoin="round"/>
<path d="M250.72 113.52 L249.84 121.39 L249.39 129.26 L250.16 137.13 L250.31 145 L250.56 152.87 L250.47 160.74 L250.12 168.61 L249.42 166.7 L249.77 159.03 L250.38 151.36 L248.98 143.68 L250.43 136.01 L251.18 128.34 L249.88 120.66 L249.27 112.99 L250.23 113.41 L250.37 121.29 L248.42 129.18 L249.71 137.06 L248.41 144.94 L248.99 152.82 L249.91 160.71 L248.64 168.59 L249.71 167.79 L249.73 159.8 L249.8 151.81 L249.13 143.82 L248.95 135.84 L249.77 127.85 L248.87 119.86 L248.91 111.87 L248.84 111.69 L250.28 119.58 L249.45 127.47 L247.91 135.37 L248.95 143.26 L250.85 151.15 L251.48 159.04 L249.27 166.93 L249.7 167.23 L248.19 159.29 L250.18 151.36 L249.67 143.42 L249.31 135.49 L248.34 127.55 L249.03 119.62 L249.39 111.68 L249.2 110.72 L250.18 118.98 L249.91 127.24 L248.66 135.49 L249.05 143.75 L249.77 152.01 L249.08 160.26 L250.46 168.52 L249.9 168.48 L248.68 160.33 L250.35 152.19 L249.32 144.04 L248.97 135.89 L248.98 127.75 L248.28 119.6 L248.51 111.45" fill="none" stroke="#e5231f" stroke-width="0.45" stroke-opacity="0.6" stroke-linejoin="round"/>
<g stroke="#333" stroke-width="0.6" fill="none">
<rect x="244.2" y="104.4" width="10" height="72.8"/>
<rect x="210.6" y="136.2" width="77" height="9.5"/>
</g>
<path d="M300.15 142.07 L308.28 143.68 L316.42 141.21 L324.56 142.01 L332.7 142.02 L340.84 141.58 L348.98 141.57 L357.12 141.9 L357.65 139.07 L349.36 141.4 L341.07 141.19 L332.78 140.72 L324.49 138.5 L316.2 140.51 L307.91 140.68 L299.62 139.78 L301.3 142.06 L309.07 141.53 L316.84 141.04 L324.62 140.31 L332.39 140.39 L340.17 141.43 L347.94 139.92 L355.71 140.53 L358.47 139.98 L350.71 142.5 L342.95 141.12 L335.2 140.92 L327.44 139.93 L319.68 139.36 L311.92 141.93 L304.16 138.21 L300.3 140.66 L308.96 138.71 L317.61 141.62 L326.26 141.33 L334.92 141.03 L343.57 141.16 L352.22 139.42 L360.88 140.92 L362.44 137.65 L353.57 140.64 L344.7 140.85 L335.84 139.65 L326.97 140.81 L318.1 142.02 L309.24 140.66 L300.37 142.04 L300.58 141 L309.11 139.87 L317.64 139.08 L326.17 141.08 L334.7 140.75 L343.23 141.33 L351.76 139.89 L360.3 140.32 L361.09 140.54 L352.42 140.97 L343.75 140.01 L335.08 140.99 L326.41 139.3 L317.74 141.23 L309.07 143.38 L300.4 141.38 L300.11 139.61 L308.3 140.47 L316.48 139.99 L324.66 141.24 L332.84 140.89 L341.02 141.5 L349.2 140.53 L357.38 141.53 L359.74 140.64 L351.68 140.62 L343.61 140.66 L335.55 141.87 L327.48 140.42 L319.41 139.87 L311.35 139.44 L303.28 139.3 L299.12 140.8 L307.79 139.96 L316.45 140.59 L325.12 139.86 L333.78 141.75 L342.45 140.87 L351.11 142.19 L359.77 141.4 L359.65 141.25 L351.26 140.38 L342.86 140.22 L334.46 140.94 L326.06 142.35 L317.67 141.26 L309.27 142.74 L300.87 141.43 L303.17 142.62 L311.44 141.35 L319.71 140.86 L327.98 140.34 L336.26 140.95 L344.53 141.2 L352.8 140.39 L361.07 140.74 L359.35 140.55 L350.85 140.09 L342.35 140.19 L333.85 139.93 L325.35 140.2 L316.85 140.01 L308.35 142.49 L299.85 140.64" fill="none" stroke="#e5231f" stroke-width="0.45" stroke-opacity="0.6" stroke-linejoin="round"/>
<path d="M329.85 132.13 L330.08 134.26 L330.94 136.39 L331.05 138.51 L329.42 140.64 L331.09 142.77 L329.81 144.89 L330.67 147.02 L329.69 146.86 L328.74 144.59 L330.19 142.33 L329.53 140.07 L329.67 137.8 L329.95 135.54 L330.14 133.27 L331.62 131.01 L329.06 133.61 L330.69 135.65 L329.55 137.69 L329.32 139.73 L330.11 141.77 L329.82 143.81 L330.17 145.85 L328.66 147.89 L329.33 147.19 L330.69 144.92 L329.69 142.64 L329.18 140.37 L329.45 138.09 L330.15 135.82 L330.54 133.54 L329.4 131.27" fill="none" stroke="#e5231f" stroke-width="0.45" stroke-opacity="0.6" stroke-linejoin="round"/>
<g stroke="#333" stroke-width="0.6" fill="none">
<rect x="324.3" y="104.4" width="10.2" height="72.8"/>
<rect x="291" y="136.2" width="76.8" height="9.5"/>
</g>
<path d="M384.41 141.1 L391.72 140.23 L399.04 141.64 L406.35 139.83 L413.67 142.9 L420.98 141.34 L428.3 140.72 L435.61 141.52 L438.56 141.72 L430.63 141.72 L422.7 141.28 L414.77 139.81 L406.84 141.1 L398.91 139.54 L390.98 141.01 L383.05 140.24 L381.63 142.67 L389.65 142.22 L397.67 140.48 L405.69 140.44 L413.72 139.94 L421.74 140.29 L429.76 140.95 L437.78 141.24 L440.12 139.75 L431.62 140.33 L423.12 142.03 L414.62 142.07 L406.12 141.29 L397.61 140.89 L389.11 141.01 L380.61 140.17 L382.91 139.78 L390.88 141.16 L398.84 139.72 L406.8 140.72 L414.76 142.3 L422.72 141.34 L430.68 140.69 L438.64 141.03 L437.4 140.06 L429.79 140.03 L422.18 140.12 L414.56 140.84 L406.95 140.13 L399.34 140.19 L391.73 141.19 L384.12 140.94 L383.31 141.87 L391.11 139.73 L398.9 140.85 L406.7 141.25 L414.5 141.58 L422.3 140.48 L430.1 141.33 L437.9 141.77 L437.86 140.02 L429.92 140.98 L421.97 139.76 L414.03 140.78 L406.08 140.34 L398.14 139.86 L390.19 139.14 L382.25 142.83 L383.37 139.34 L391.05 141.56 L398.74 140.45 L406.43 139.63 L414.11 140.25 L421.8 140.34 L429.49 142.23 L437.17 140.9 L438.95 141.2 L430.47 139.63 L421.98 141.82 L413.5 140.97 L405.02 141.68 L396.54 142.29 L388.06 140.47 L379.58 142.87" fill="none" stroke="#e5231f" stroke-width="0.45" stroke-opacity="0.6" stroke-linejoin="round"/>
<path d="M408.72 124.47 L411.24 129.22 L410.13 133.98 L409.86 138.73 L409.87 143.48 L410.66 148.24 L411.03 152.99 L410.77 157.74 L408.93 156.76 L409.8 152.12 L410.58 147.48 L409.98 142.84 L411.63 138.21 L410.95 133.57 L410.06 128.93 L410.62 124.29 L410.04 124.29 L409.2 128.9 L410.04 133.5 L411 138.11 L409.94 142.72 L411.48 147.32 L410.13 151.93 L410.8 156.53 L409.47 156.83 L410.58 152.28 L410.83 147.72 L410.26 143.17 L410.17 138.62 L408.28 134.06 L409.82 129.51 L410.92 124.96" fill="none" stroke="#e5231f" stroke-width="0.45" stroke-opacity="0.6" stroke-linejoin="round"/>
<g stroke="#333" stroke-width="0.6" fill="none">
<rect x="405.1" y="104.4" width="9.7" height="72.8"/>
<rect x="371.7" y="136.2" width="77.1" height="9.5"/>
</g>
<path d="M73.92 206.1C75.52 205.29 80.34 201.48 83.55 201.28C86.77 201.08 90.58 202.88 93.19 204.89C95.8 206.9 98.61 210.11 99.22 213.33C99.82 216.54 98.21 220.76 96.81 224.17C95.4 227.58 92.59 231 90.78 233.81C88.98 236.62 85.96 239.03 85.96 241.04C85.96 243.04 88.78 246.06 90.78 245.86C92.79 245.65 95.8 242.44 98.01 239.83C100.22 237.22 102.63 233.41 104.04 230.19C105.44 226.98 106.04 222.16 106.45 220.55" fill="none" stroke="#e5231f" stroke-width="0.55" stroke-opacity="0.85" stroke-linejoin="round"/>
<path d="M66.69 222.96C67.89 223.77 71.51 225.98 73.92 227.78C76.33 229.59 78.94 232.2 81.14 233.81C83.35 235.41 85.16 237.62 87.17 237.42C89.18 237.22 92.59 234.81 93.19 232.6C93.8 230.39 92.39 226.18 90.78 224.17C89.18 222.16 85.96 220.55 83.55 220.55C81.14 220.55 77.53 223.57 76.33 224.17" fill="none" stroke="#e5231f" stroke-width="0.55" stroke-opacity="0.85" stroke-linejoin="round"/>
<path d="M64.76 214.77C64.44 214.45 62.83 213.37 62.83 212.84C62.83 212.32 64.12 211.44 64.76 211.64C65.4 211.84 65.56 212.96 66.69 214.05C67.81 215.13 69.1 216.58 71.51 218.14C73.92 219.71 78.13 223.45 81.14 223.45C84.16 223.45 86.97 220.23 89.58 218.14C92.19 216.06 94.6 210.92 96.81 210.92C99.02 210.92 101.1 215.65 102.83 218.14C104.56 220.63 107.17 222.84 107.17 225.86C107.17 228.87 105.16 233 102.83 236.22C100.5 239.43 95.92 243.33 93.19 245.13C90.46 246.94 87.81 248.75 86.45 247.06C85.08 245.37 85.16 239.83 85 235.01C84.84 230.19 85.24 222.56 85.48 218.14C85.72 213.73 85.16 209.79 86.45 208.51C87.73 207.22 90.78 209.23 93.19 210.43C95.6 211.64 98.9 213.57 100.9 215.73C102.91 217.9 105.24 220.84 105.24 223.45C105.24 226.06 102.91 228.75 100.9 231.4C98.9 234.05 95.68 237.34 93.19 239.35C90.7 241.36 88.57 244.57 85.96 243.45C83.35 242.32 80.34 236.02 77.53 232.6C74.72 229.19 71.1 225.37 69.1 222.96C67.09 220.55 65.08 219.43 65.48 218.14C65.88 216.86 68.9 215.25 71.51 215.25C74.12 215.25 78.41 216.86 81.14 218.14C83.88 219.43 87.09 221.56 87.89 222.96C88.69 224.37 87.09 226.18 85.96 226.58C84.84 226.98 81.95 225.57 81.14 225.37" fill="none" stroke="#e5231f" stroke-width="0.55" stroke-opacity="0.85" stroke-linejoin="round"/>
<path d="M63.8 212.84C63.15 211.92 59.66 209.63 59.94 207.3C60.22 204.97 63.15 201.28 65.48 198.87C67.81 196.46 70.7 194.33 73.92 192.84C77.13 191.36 80.94 190.15 84.76 189.95C88.57 189.75 92.91 189.95 96.81 191.64C100.7 193.33 105.32 197.06 108.13 200.07C110.94 203.08 112.15 206.7 113.67 209.71C115.2 212.72 117.49 214.93 117.29 218.14C117.09 221.36 113.76 225.37 112.47 228.99C111.18 232.6 110.3 236.22 109.58 239.83C108.86 243.45 110.26 247.66 108.13 250.67C106 253.69 100.9 256.42 96.81 257.9C92.71 259.39 87.57 259.99 83.55 259.59C79.54 259.19 75.52 257.5 72.71 255.49C69.9 253.49 67.29 250.15 66.69 247.54C66.08 244.93 67.49 241.44 69.1 239.83C70.7 238.22 73.71 237.5 76.33 237.9C78.94 238.31 81.95 240.63 84.76 242.24C87.57 243.85 90.5 247.94 93.19 247.54C95.88 247.14 98.9 242.72 100.9 239.83C102.91 236.94 104.92 233 105.24 230.19C105.56 227.38 104.24 225.37 102.83 222.96C101.43 220.55 98.82 216.14 96.81 215.73C94.8 215.33 92.79 218.14 90.78 220.55C88.78 222.96 86.77 226.78 84.76 230.19C82.75 233.61 80.94 240.43 78.73 241.04C76.53 241.64 72.71 235.01 71.51 233.81" fill="none" stroke="#e5231f" stroke-width="0.55" stroke-opacity="0.85" stroke-linejoin="round"/>
<g stroke="#333" stroke-width="0.6" fill="none">
<circle cx="85" cy="223.9" r="36.6"/>
<line x1="85" y1="187.3" x2="85" y2="260.5"/>
<line x1="48.4" y1="223.9" x2="121.6" y2="223.9"/>
<circle cx="71.2" cy="238.8" r="2.6"/>
</g>
<path d="M151.02 227.78C152.23 227.18 155.44 224.37 158.25 224.17C161.06 223.97 165.68 224.97 167.89 226.58C170.1 228.18 171.51 231.2 171.51 233.81C171.51 236.42 169.7 240.35 167.89 242.24C166.08 244.13 162.87 245.33 160.66 245.13C158.45 244.93 155.84 242.92 154.64 241.04C153.43 239.15 152.63 235.61 153.43 233.81C154.24 232 157.45 230.19 159.46 230.19C161.47 230.19 164.28 232 165.48 233.81C166.69 235.61 165.88 238.63 166.69 241.04C167.49 243.45 170.1 246.06 170.3 248.27C170.5 250.47 169.3 253.49 167.89 254.29C166.49 255.09 163.47 254.29 161.87 253.08C160.26 251.88 159.26 249.27 158.25 247.06C157.25 244.85 157.05 241.64 155.84 239.83C154.64 238.02 152.23 237.82 151.02 236.22C149.82 234.61 149.02 231.2 148.61 230.19" fill="none" stroke="#e5231f" stroke-width="0.55" stroke-opacity="0.85" stroke-linejoin="round"/>
<path d="M172.23 198.87C171.51 197.66 169.34 193.16 167.89 191.64C166.45 190.11 165.16 188.51 163.55 189.71C161.95 190.92 160.74 196.14 158.25 198.87C155.76 201.6 150.94 203.89 148.61 206.1C146.29 208.31 144.28 209.71 144.28 212.12C144.28 214.53 146.29 219.55 148.61 220.55C150.94 221.56 154.64 219.15 158.25 218.14C161.87 217.14 166.08 215.53 170.3 214.53C174.52 213.53 182.43 212.12 183.55 212.12C184.68 212.12 179.86 213.53 177.05 214.53C174.24 215.53 168.82 216.14 166.69 218.14C164.56 220.15 163.67 223.77 164.28 226.58C164.88 229.39 167.69 233.81 170.3 235.01C172.91 236.22 177.13 235.41 179.94 233.81C182.75 232.2 186.37 227.98 187.17 225.37C187.97 222.76 186.57 219.95 184.76 218.14C182.95 216.34 179.14 214.13 176.33 214.53C173.51 214.93 170.5 217.94 167.89 220.55C165.28 223.16 163.07 227.18 160.66 230.19C158.25 233.2 153.84 235.82 153.43 238.63C153.03 241.44 156.04 245.05 158.25 247.06C160.46 249.07 164.48 251.08 166.69 250.67C168.9 250.27 171.51 247.06 171.51 244.65C171.51 242.24 168.9 238.02 166.69 236.22C164.48 234.41 160.66 235.61 158.25 233.81C155.84 232 152.23 227.58 152.23 225.37C152.23 223.16 155.24 220.96 158.25 220.55C161.27 220.15 166.69 221.36 170.3 222.96C173.92 224.57 177.13 227.38 179.94 230.19C182.75 233 186.16 236.22 187.17 239.83C188.17 243.45 187.97 249.67 185.96 251.88C183.96 254.09 178.53 252.68 175.12 253.08C171.71 253.49 168.29 254.49 165.48 254.29C162.67 254.09 160.66 253.41 158.25 251.88C155.84 250.35 153.84 245.94 151.02 245.13C148.21 244.33 143.8 247.74 141.39 247.06C138.98 246.38 136.57 242.96 136.57 241.04C136.57 239.11 138.98 236.3 141.39 235.49C143.8 234.69 148.21 235.09 151.02 236.22C153.84 237.34 155.84 240.63 158.25 242.24C160.66 243.85 163.47 244.25 165.48 245.86C167.49 247.46 169.9 249.75 170.3 251.88C170.7 254.01 169.5 258.22 167.89 258.63C166.29 259.03 162.87 256.54 160.66 254.29C158.45 252.04 156.24 248.14 154.64 245.13C153.03 242.12 152.03 239.11 151.02 236.22C150.02 233.33 148.01 229.99 148.61 227.78C149.22 225.57 152.23 224.17 154.64 222.96C157.05 221.76 161.67 220.96 163.07 220.55" fill="none" stroke="#e5231f" stroke-width="0.55" stroke-opacity="0.85" stroke-linejoin="round"/>
<g stroke="#333" stroke-width="0.6" fill="none">
<circle cx="165.5" cy="223.9" r="37.8"/>
<line x1="165.5" y1="186.1" x2="165.5" y2="261.7"/>
<line x1="127.7" y1="223.9" x2="203.3" y2="223.9"/>
<circle cx="150.3" cy="238" r="2.6"/>
</g>
<path d="M219.46 206.1C221.06 204.49 225.48 198.67 229.1 196.46C232.71 194.25 237.13 193.04 241.14 192.84C245.16 192.64 249.98 193.45 253.19 195.25C256.41 197.06 258.41 200.27 260.42 203.69C262.43 207.1 264.44 211.72 265.24 215.73C266.04 219.75 265.64 223.77 265.24 227.78C264.84 231.8 264.24 236.22 262.83 239.83C261.43 243.45 259.22 247.06 256.81 249.47C254.4 251.88 251.39 253.69 248.37 254.29C245.36 254.89 241.95 254.29 238.73 253.08C235.52 251.88 231.91 249.67 229.1 247.06C226.29 244.45 223.67 241.04 221.87 237.42C220.06 233.81 218.65 228.99 218.25 225.37C217.85 221.76 218.45 218.55 219.46 215.73C220.46 212.92 222.07 210.31 224.28 208.51C226.49 206.7 229.9 205.29 232.71 204.89C235.52 204.49 238.73 204.89 241.14 206.1C243.55 207.3 246.37 209.71 247.17 212.12C247.97 214.53 247.37 218.55 245.96 220.55C244.56 222.56 241.14 224.17 238.73 224.17C236.33 224.17 233.31 222.36 231.51 220.55C229.7 218.75 228.49 214.53 227.89 213.33" fill="none" stroke="#e5231f" stroke-width="0.55" stroke-opacity="0.85" stroke-linejoin="round"/>
<path d="M231.51 227.78C232.51 227.58 235.92 225.98 237.53 226.58C239.14 227.18 240.94 229.59 241.14 231.4C241.35 233.2 239.94 236.02 238.73 237.42C237.53 238.83 235.32 240.03 233.92 239.83C232.51 239.63 230.7 237.82 230.3 236.22C229.9 234.61 230.5 230.59 231.51 230.19C232.51 229.79 234.52 232.2 236.33 233.81C238.13 235.41 240.94 237.42 242.35 239.83C243.76 242.24 244.96 245.86 244.76 248.27C244.56 250.67 242.75 253.69 241.14 254.29C239.54 254.89 236.93 253.29 235.12 251.88C233.31 250.47 231.1 246.86 230.3 245.86" fill="none" stroke="#e5231f" stroke-width="0.55" stroke-opacity="0.85" stroke-linejoin="round"/>
<path d="M248.37 187.3C245.96 188.02 238.33 189.31 233.92 191.64C229.5 193.97 224.88 197.66 221.87 201.28C218.86 204.89 216.85 210.11 215.84 213.33C214.84 216.54 214.44 219.75 215.84 220.55C217.25 221.36 221.27 220.15 224.28 218.14C227.29 216.14 230.7 210.71 233.92 208.51C237.13 206.3 240.14 205.09 243.55 204.89C246.97 204.69 252.19 205.49 254.4 207.3C256.61 209.11 257.01 213.12 256.81 215.73C256.61 218.35 255.4 221.16 253.19 222.96C250.98 224.77 246.77 226.78 243.55 226.58C240.34 226.38 236.33 223.97 233.92 221.76C231.51 219.55 228.69 215.94 229.1 213.33C229.5 210.71 233.51 207.3 236.33 206.1C239.14 204.89 243.35 204.89 245.96 206.1C248.57 207.3 251.79 211.32 251.99 213.33C252.19 215.33 249.38 217.74 247.17 218.14C244.96 218.55 240.94 216.74 238.73 215.73C236.53 214.73 234.72 212.72 233.92 212.12" fill="none" stroke="#e5231f" stroke-width="0.55" stroke-opacity="0.85" stroke-linejoin="round"/>
<path d="M247.17 189.23C248.78 189.63 254 189.63 256.81 191.64C259.62 193.65 262.23 197.66 264.04 201.28C265.84 204.89 265.84 209.71 267.65 213.33C269.46 216.94 273.07 219.75 274.88 222.96C276.69 226.18 278.49 228.99 278.49 232.6C278.49 236.22 277.49 241.04 274.88 244.65C272.27 248.27 267.25 252.28 262.83 254.29C258.41 256.3 253.19 256.7 248.37 256.7C243.55 256.7 238.13 255.9 233.92 254.29C229.7 252.68 225.68 250.07 223.07 247.06C220.46 244.05 219.26 239.83 218.25 236.22C217.25 232.6 216.45 229.19 217.05 225.37C217.65 221.56 219.46 216.94 221.87 213.33C224.28 209.71 227.89 206.1 231.51 203.69C235.12 201.28 239.94 199.27 243.55 198.87C247.17 198.47 250.18 199.67 253.19 201.28C256.2 202.88 259.82 205.29 261.63 208.51C263.43 211.72 264.04 216.54 264.04 220.55C264.04 224.57 263.03 228.99 261.63 232.6C260.22 236.22 257.81 239.83 255.6 242.24C253.39 244.65 250.78 247.06 248.37 247.06C245.96 247.06 243.15 244.45 241.14 242.24C239.14 240.03 237.53 236.22 236.33 233.81C235.12 231.4 233.51 228.99 233.92 227.78C234.32 226.58 237.13 225.98 238.73 226.58C240.34 227.18 243.15 229.39 243.55 231.4C243.96 233.41 242.55 237.02 241.14 238.63C239.74 240.23 236.93 241.44 235.12 241.04C233.31 240.63 231.31 238.22 230.3 236.22C229.3 234.21 230.1 230.8 229.1 228.99C228.09 227.18 225.28 224.37 224.28 225.37C223.27 226.38 222.47 231.72 223.07 235.01C223.67 238.31 225.68 242.52 227.89 245.13C230.1 247.74 233.71 249.35 236.33 250.67C238.94 252 241.75 253.89 243.55 253.08C245.36 252.28 246.77 248.47 247.17 245.86C247.57 243.24 246.16 238.83 245.96 237.42" fill="none" stroke="#e5231f" stroke-width="0.55" stroke-opacity="0.85" stroke-linejoin="round"/>
<g stroke="#333" stroke-width="0.6" fill="none">
<circle cx="247.6" cy="222.8" r="37.3"/>
<line x1="247.6" y1="185.5" x2="247.6" y2="260.1"/>
<line x1="210.3" y1="222.8" x2="284.9" y2="222.8"/>
<circle cx="233.6" cy="238.2" r="2.6"/>
</g>
<path d="M330.3 220.55C329.5 219.35 325.48 215.53 325.48 213.33C325.48 211.12 328.49 207.9 330.3 207.3C332.11 206.7 335.52 207.9 336.33 209.71C337.13 211.52 335.92 215.94 335.12 218.14C334.32 220.35 331.51 221.36 331.51 222.96C331.51 224.57 333.31 227.38 335.12 227.78C336.93 228.18 340.74 226.98 342.35 225.37C343.96 223.77 345.16 219.75 344.76 218.14C344.36 216.54 341.55 215.33 339.94 215.73C338.33 216.14 336.33 218.55 335.12 220.55C333.92 222.56 333.92 225.57 332.71 227.78C331.51 229.99 329.1 233.61 327.89 233.81C326.69 234.01 325.08 230.39 325.48 228.99C325.88 227.58 328.49 225.37 330.3 225.37C332.11 225.37 334.52 227.58 336.33 228.99C338.13 230.39 339.34 232.6 341.14 233.81C342.95 235.01 345.76 236.62 347.17 236.22C348.57 235.82 349.98 232.6 349.58 231.4C349.18 230.19 346.37 228.79 344.76 228.99C343.15 229.19 341.35 231 339.94 232.6C338.53 234.21 336.93 237.62 336.33 238.63" fill="none" stroke="#e5231f" stroke-width="0.55" stroke-opacity="0.85" stroke-linejoin="round"/>
<path d="M341.14 206.1C341.75 207.3 342.95 211.32 344.76 213.33C346.57 215.33 349.98 216.14 351.99 218.14C354 220.15 355.6 223.37 356.81 225.37C358.01 227.38 358.82 229.39 359.22 230.19" fill="none" stroke="#e5231f" stroke-width="0.55" stroke-opacity="0.85" stroke-linejoin="round"/>
<path d="M329.1 204.89C327.69 204.89 324.08 204.69 320.66 204.89C317.25 205.09 311.83 204.89 308.61 206.1C305.4 207.3 302.79 209.91 301.39 212.12C299.98 214.33 299.38 216.94 300.18 219.35C300.98 221.76 304.4 224.17 306.2 226.58C308.01 228.99 309.02 231.2 311.02 233.81C313.03 236.42 315.44 239.63 318.25 242.24C321.06 244.85 324.28 248.06 327.89 249.47C331.51 250.88 335.92 251.4 339.94 250.67C343.96 249.95 348.78 247.54 351.99 245.13C355.2 242.72 358.41 239.31 359.22 236.22C360.02 233.12 358.21 229.59 356.81 226.58C355.4 223.57 352.79 220.76 350.78 218.14C348.78 215.53 346.77 212.92 344.76 210.92C342.75 208.91 340.54 207.3 338.73 206.1C336.93 204.89 335.72 203.69 333.92 203.69C332.11 203.69 330.1 205.09 327.89 206.1C325.68 207.1 322.47 208.1 320.66 209.71C318.86 211.32 316.65 213.93 317.05 215.73C317.45 217.54 320.86 220.15 323.07 220.55C325.28 220.96 328.09 219.35 330.3 218.14C332.51 216.94 334.32 214.93 336.33 213.33C338.33 211.72 341.55 209.71 342.35 208.51C343.15 207.3 341.75 205.29 341.14 206.1C340.54 206.9 339.74 210.92 338.73 213.33C337.73 215.73 336.53 218.75 335.12 220.55C333.71 222.36 331.91 222.56 330.3 224.17C328.69 225.78 325.88 228.18 325.48 230.19C325.08 232.2 326.49 236.02 327.89 236.22C329.3 236.42 332.51 233.2 333.92 231.4C335.32 229.59 335.32 225.57 336.33 225.37C337.33 225.17 339.74 228.1 339.94 230.19C340.14 232.28 338.53 236.1 337.53 237.9C336.53 239.71 333.92 240.31 333.92 241.04C333.92 241.76 335.72 242.44 337.53 242.24C339.34 242.04 342.75 240.84 344.76 239.83C346.77 238.83 349.18 237.5 349.58 236.22C349.98 234.93 348.37 232.52 347.17 232.12C345.96 231.72 343.76 234.53 342.35 233.81C340.94 233.08 339.94 229.59 338.73 227.78C337.53 225.98 336.33 224.57 335.12 222.96C333.92 221.36 332.51 219.95 331.51 218.14C330.5 216.34 329.3 214.13 329.1 212.12C328.9 210.11 330.1 207.1 330.3 206.1" fill="none" stroke="#e5231f" stroke-width="0.55" stroke-opacity="0.85" stroke-linejoin="round"/>
<g stroke="#333" stroke-width="0.6" fill="none">
<circle cx="329.6" cy="223.2" r="36.4"/>
<line x1="329.6" y1="186.8" x2="329.6" y2="259.6"/>
<line x1="293.2" y1="223.2" x2="366" y2="223.2"/>
<circle cx="316" cy="237.8" r="2.6"/>
</g>
<path d="M409.02 193.83C407.38 193.87 402.34 193.32 399.17 194.09C395.99 194.86 392.92 196.61 389.97 198.43C387.01 200.24 383.73 202.26 381.43 205C379.13 207.73 377.16 211.68 376.17 214.85C375.18 218.03 374.75 221.2 375.51 224.05C376.28 226.9 380 229.31 380.77 231.93C381.54 234.56 379.24 238.18 380.11 239.82C380.99 241.46 383.83 240.48 386.02 241.79C388.22 243.1 390.41 246.06 393.25 247.7C396.1 249.35 400.26 250.77 403.11 251.65C405.95 252.52 407.93 253.18 410.34 252.96C412.74 252.74 415.48 251.43 417.56 250.33C419.64 249.24 421.29 246.83 422.82 246.39C424.35 245.95 425.23 248.47 426.76 247.7C428.29 246.94 431.8 242.45 432.02 241.79C432.24 241.13 427.86 244.31 428.07 243.76C428.29 243.21 431.91 240.48 433.33 238.5C434.75 236.53 436 233.8 436.62 231.93C437.23 230.07 437.56 227.99 437.01 227.34C436.46 226.68 434.38 228.54 433.33 227.99C432.28 227.44 430.92 225.8 430.7 224.05C430.48 222.3 431.58 219.23 432.02 217.48C432.46 215.73 433.66 215.07 433.33 213.54C433 212 431.36 209.6 430.05 208.28C428.73 206.97 426.65 206.53 425.45 205.65C424.24 204.78 425.45 203.46 422.82 203.02C420.19 202.59 413.84 202.59 409.68 203.02C405.52 203.46 401.57 204.45 397.85 205.65C394.13 206.86 389.97 208.28 387.34 210.25C384.71 212.22 383.22 214.96 382.08 217.48C380.94 220 380.51 222.74 380.51 225.36C380.51 227.99 381.16 231.06 382.08 233.25C383 235.44 384.93 236.53 386.02 238.5C387.12 240.48 386.68 243.32 388.65 245.07C390.62 246.83 394.57 247.48 397.85 249.02C401.14 250.55 405.95 253.29 408.36 254.27C410.77 255.26 410.34 255.37 412.31 254.93C414.28 254.49 417.78 253.29 420.19 251.65C422.6 250 425.01 246.72 426.76 245.07C428.51 243.43 429.06 243.54 430.7 241.79C432.35 240.04 435.3 237.3 436.62 234.56C437.93 231.82 437.93 228.21 438.59 225.36C439.24 222.52 440.89 219.89 440.56 217.48C440.23 215.07 438.48 212.66 436.62 210.91C434.75 209.16 431.25 208.28 429.39 206.97C427.53 205.65 426.98 204.56 425.45 203.02C423.91 201.49 422.16 199.19 420.19 197.77C418.22 196.35 415.48 195.14 413.62 194.48C411.76 193.83 409.79 193.94 409.02 193.83" fill="none" stroke="#e5231f" stroke-width="0.55" stroke-opacity="0.85" stroke-linejoin="round"/>
<g stroke="#333" stroke-width="0.6" fill="none">
<circle cx="409.6" cy="223.4" r="36.5"/>
<line x1="409.6" y1="186.9" x2="409.6" y2="259.9"/>
<line x1="373.1" y1="223.4" x2="446.1" y2="223.4"/>
<circle cx="395.9" cy="238.2" r="2.6"/>
</g>
<text x="503.6" y="14" font-size="18.6" font-weight="bold" text-anchor="start" fill="#1a1311">b</text>
<rect x="553.75" y="130.2" width="11.5" height="44.2" fill="#3E3878"/>
<rect x="570.85" y="128" width="11.5" height="46.4" fill="#24498B"/>
<rect x="587.95" y="128" width="11.5" height="46.4" fill="#D2AC95"/>
<rect x="605.05" y="117.5" width="11.5" height="56.9" fill="#D96B66"/>
<rect x="622.25" y="115" width="11.5" height="59.4" fill="#A66B22"/>
<line x1="559.5" y1="127" x2="559.5" y2="130.7" stroke="#3E3878" stroke-width="0.9"/>
<line x1="556.8" y1="127" x2="562.2" y2="127" stroke="#3E3878" stroke-width="0.9"/>
<line x1="576.6" y1="126.5" x2="576.6" y2="128.5" stroke="#24498B" stroke-width="0.9"/>
<line x1="573.9" y1="126.5" x2="579.3" y2="126.5" stroke="#24498B" stroke-width="0.9"/>
<line x1="593.7" y1="124" x2="593.7" y2="128.5" stroke="#D2AC95" stroke-width="0.9"/>
<line x1="591" y1="124" x2="596.4" y2="124" stroke="#D2AC95" stroke-width="0.9"/>
<line x1="610.8" y1="114.2" x2="610.8" y2="118" stroke="#D96B66" stroke-width="0.9"/>
<line x1="608.1" y1="114.2" x2="613.5" y2="114.2" stroke="#D96B66" stroke-width="0.9"/>
<line x1="628" y1="111" x2="628" y2="115.5" stroke="#A66B22" stroke-width="0.9"/>
<line x1="625.3" y1="111" x2="630.7" y2="111" stroke="#A66B22" stroke-width="0.9"/>
<g fill="#000">
<circle cx="556.68" cy="119.71" r="2"/>
<circle cx="555.22" cy="122.19" r="2"/>
<circle cx="559.45" cy="121.9" r="2"/>
<circle cx="562.23" cy="121.9" r="2"/>
<circle cx="563.98" cy="120.44" r="2"/>
<circle cx="559.45" cy="127.01" r="2"/>
<circle cx="559.45" cy="133.87" r="2"/>
<circle cx="559.45" cy="138.25" r="2"/>
<circle cx="562.23" cy="139.12" r="2"/>
<circle cx="558.14" cy="140.15" r="2"/>
<circle cx="560.33" cy="141.61" r="2"/>
<circle cx="559.45" cy="147.45" r="2"/>
<circle cx="573.47" cy="121.9" r="2"/>
<circle cx="572.01" cy="123.36" r="2"/>
<circle cx="574.93" cy="124.09" r="2"/>
<circle cx="572.01" cy="126.57" r="2"/>
<circle cx="574.93" cy="127.01" r="2"/>
<circle cx="577.85" cy="126.28" r="2"/>
<circle cx="580.04" cy="125.99" r="2"/>
<circle cx="579.31" cy="124.82" r="2"/>
<circle cx="576.39" cy="128.47" r="2"/>
<circle cx="579.31" cy="130.66" r="2"/>
<circle cx="574.2" cy="132.85" r="2"/>
<circle cx="593.61" cy="114.31" r="2"/>
<circle cx="589.53" cy="118.69" r="2"/>
<circle cx="593.61" cy="118.98" r="2"/>
<circle cx="597.85" cy="118.98" r="2"/>
<circle cx="589.53" cy="121.9" r="2"/>
<circle cx="593.61" cy="122.19" r="2"/>
<circle cx="589.53" cy="125.55" r="2"/>
<circle cx="593.61" cy="125.99" r="2"/>
<circle cx="593.61" cy="130.66" r="2"/>
<circle cx="589.53" cy="135.77" r="2"/>
<circle cx="593.61" cy="138.69" r="2"/>
<circle cx="597.85" cy="138.25" r="2"/>
<circle cx="593.61" cy="145.55" r="2"/>
<circle cx="610.69" cy="105.11" r="2"/>
<circle cx="610.69" cy="108.76" r="2"/>
<circle cx="610.69" cy="112.41" r="2"/>
<circle cx="610.69" cy="117.23" r="2"/>
<circle cx="606.31" cy="127.74" r="2"/>
<circle cx="608.5" cy="127.01" r="2"/>
<circle cx="610.69" cy="127.45" r="2"/>
<circle cx="612.88" cy="127.01" r="2"/>
<circle cx="615.07" cy="127.45" r="2"/>
<circle cx="615.07" cy="125.11" r="2"/>
<circle cx="627.92" cy="102.63" r="2"/>
<circle cx="623.83" cy="109.05" r="2"/>
<circle cx="627.92" cy="108.47" r="2"/>
<circle cx="632.15" cy="107.59" r="2"/>
<circle cx="627.92" cy="115.33" r="2"/>
<circle cx="627.92" cy="121.9" r="2"/>
<circle cx="632.15" cy="121.17" r="2"/>
<circle cx="627.92" cy="127.01" r="2"/>
<circle cx="627.92" cy="132.41" r="2"/>
<circle cx="610.8" cy="99.3" r="2"/>
<circle cx="610.8" cy="103.8" r="2"/>
<circle cx="610.8" cy="108.8" r="2"/>
<circle cx="624.3" cy="101.2" r="2"/>
<circle cx="628" cy="102.5" r="2"/>
</g>
<line x1="548.3" y1="82.95" x2="548.3" y2="174.95" stroke="#000" stroke-width="1.15"/>
<line x1="547.75" y1="174.4" x2="639.5" y2="174.4" stroke="#000" stroke-width="1.15"/>
<line x1="544.5" y1="83.5" x2="548.3" y2="83.5" stroke="#000" stroke-width="1.1"/>
<text x="543.3" y="86.5" font-size="8.8" font-weight="bold" text-anchor="end" fill="#1a1311">300</text>
<line x1="544.5" y1="113.8" x2="548.3" y2="113.8" stroke="#000" stroke-width="1.1"/>
<text x="543.3" y="116.8" font-size="8.8" font-weight="bold" text-anchor="end" fill="#1a1311">200</text>
<line x1="544.5" y1="144.2" x2="548.3" y2="144.2" stroke="#000" stroke-width="1.1"/>
<text x="543.3" y="147.2" font-size="8.8" font-weight="bold" text-anchor="end" fill="#1a1311">100</text>
<line x1="544.5" y1="174.5" x2="548.3" y2="174.5" stroke="#000" stroke-width="1.1"/>
<text x="543.3" y="177.5" font-size="8.8" font-weight="bold" text-anchor="end" fill="#1a1311">0</text>
<line x1="559.5" y1="174.4" x2="559.5" y2="178.3" stroke="#000" stroke-width="1.1"/>
<text x="562.7" y="186" font-size="9.1" font-weight="bold" text-anchor="end" fill="#1a1311" transform="rotate(-45 562.7 186)">Control</text>
<line x1="576.6" y1="174.4" x2="576.6" y2="178.3" stroke="#000" stroke-width="1.1"/>
<text x="579.8" y="186" font-size="9.1" font-weight="bold" text-anchor="end" fill="#1a1311" transform="rotate(-45 579.8 186)">AAV-PTBP1</text>
<line x1="593.7" y1="174.4" x2="593.7" y2="178.3" stroke="#000" stroke-width="1.1"/>
<text x="596.9" y="186" font-size="9.1" font-weight="bold" text-anchor="end" fill="#1a1311" transform="rotate(-45 596.9 186)">AAV-PTBP1/SPS</text>
<line x1="610.8" y1="174.4" x2="610.8" y2="178.3" stroke="#000" stroke-width="1.1"/>
<text x="614" y="186" font-size="9.1" font-weight="bold" text-anchor="end" fill="#1a1311" transform="rotate(-45 614 186)">AAV-Empty/SPS</text>
<line x1="628" y1="174.4" x2="628" y2="178.3" stroke="#000" stroke-width="1.1"/>
<text x="631.2" y="186" font-size="9.1" font-weight="bold" text-anchor="end" fill="#1a1311" transform="rotate(-45 631.2 186)">SPS</text>
<text x="512.7" y="128" font-size="9" font-weight="bold" text-anchor="middle" fill="#1a1311" transform="rotate(-90 512.7 128)">Time spent in</text>
<text x="523.7" y="128" font-size="9" font-weight="bold" text-anchor="middle" fill="#1a1311" transform="rotate(-90 523.7 128)">the corner zone (s)</text>
<line x1="559.7" y1="35.7" x2="628" y2="35.7" stroke="#000" stroke-width="1.2"/>
<path d="M590.85 26.95L590.85 31.45M588.9 28.08L592.8 30.33M592.8 28.08L588.9 30.33" stroke="#111" stroke-width="1.35" fill="none"/>
<circle cx="590.85" cy="29.2" r="1.1" fill="#111"/>
<path d="M596.45 26.95L596.45 31.45M594.5 28.08L598.4 30.33M598.4 28.08L594.5 30.33" stroke="#111" stroke-width="1.35" fill="none"/>
<circle cx="596.45" cy="29.2" r="1.1" fill="#111"/>
<line x1="559.7" y1="54.7" x2="610.7" y2="54.7" stroke="#000" stroke-width="1.2"/>
<path d="M585 45.95L585 50.45M583.05 47.08L586.95 49.33M586.95 47.08L583.05 49.33" stroke="#111" stroke-width="1.35" fill="none"/>
<circle cx="585" cy="48.2" r="1.1" fill="#111"/>
<line x1="594" y1="74.2" x2="628" y2="74.2" stroke="#000" stroke-width="1.2"/>
<path d="M610.8 65.45L610.8 69.95M608.85 66.58L612.75 68.83M612.75 66.58L608.85 68.83" stroke="#111" stroke-width="1.35" fill="none"/>
<circle cx="610.8" cy="67.7" r="1.1" fill="#111"/>
<line x1="559.7" y1="93.5" x2="576.7" y2="93.5" stroke="#000" stroke-width="1.2"/>
<text x="568.2" y="88.6" font-size="7.6" font-weight="normal" text-anchor="middle" fill="#1a1311">ns</text>
<line x1="610.7" y1="93.5" x2="628" y2="93.5" stroke="#000" stroke-width="1.2"/>
<text x="619.35" y="88.6" font-size="7.6" font-weight="normal" text-anchor="middle" fill="#1a1311">ns</text>
<text x="0.5" y="287" font-size="18.6" font-weight="bold" text-anchor="start" fill="#1a1311">c</text>
<rect x="48.4" y="392.3" width="11.6" height="35.4" fill="#3E3878"/>
<rect x="66.2" y="387.4" width="11.6" height="40.3" fill="#24498B"/>
<rect x="83.9" y="393.6" width="11.6" height="34.1" fill="#D2AC95"/>
<rect x="101.7" y="408.7" width="11.6" height="19" fill="#D96B66"/>
<rect x="119.3" y="411.5" width="11.6" height="16.2" fill="#A66B22"/>
<line x1="54.2" y1="385.5" x2="54.2" y2="392.8" stroke="#3E3878" stroke-width="0.9"/>
<line x1="51.5" y1="385.5" x2="56.9" y2="385.5" stroke="#3E3878" stroke-width="0.9"/>
<line x1="72" y1="383.3" x2="72" y2="387.9" stroke="#24498B" stroke-width="0.9"/>
<line x1="69.3" y1="383.3" x2="74.7" y2="383.3" stroke="#24498B" stroke-width="0.9"/>
<line x1="89.7" y1="388.7" x2="89.7" y2="394.1" stroke="#D2AC95" stroke-width="0.9"/>
<line x1="87" y1="388.7" x2="92.4" y2="388.7" stroke="#D2AC95" stroke-width="0.9"/>
<line x1="107.5" y1="405.2" x2="107.5" y2="409.2" stroke="#D96B66" stroke-width="0.9"/>
<line x1="104.8" y1="405.2" x2="110.2" y2="405.2" stroke="#D96B66" stroke-width="0.9"/>
<line x1="125.1" y1="407.7" x2="125.1" y2="412" stroke="#A66B22" stroke-width="0.9"/>
<line x1="122.4" y1="407.7" x2="127.8" y2="407.7" stroke="#A66B22" stroke-width="0.9"/>
<g fill="#000">
<circle cx="54.31" cy="356.57" r="2"/>
<circle cx="54.31" cy="362.85" r="2"/>
<circle cx="54.31" cy="374.53" r="2"/>
<circle cx="54.31" cy="384.31" r="2"/>
<circle cx="58.98" cy="393.21" r="2"/>
<circle cx="54.31" cy="395.99" r="2"/>
<circle cx="49.93" cy="407.66" r="2"/>
<circle cx="58.98" cy="405.18" r="2"/>
<circle cx="54.31" cy="408.69" r="2"/>
<circle cx="49.93" cy="410.58" r="2"/>
<circle cx="58.98" cy="409.85" r="2"/>
<circle cx="69.93" cy="372.19" r="2"/>
<circle cx="74.6" cy="372.19" r="2"/>
<circle cx="67.45" cy="381.39" r="2"/>
<circle cx="72.12" cy="380.36" r="2"/>
<circle cx="76.79" cy="381.39" r="2"/>
<circle cx="67.45" cy="387.66" r="2"/>
<circle cx="72.12" cy="389.12" r="2"/>
<circle cx="76.79" cy="389.12" r="2"/>
<circle cx="72.12" cy="393.07" r="2"/>
<circle cx="72.12" cy="402.55" r="2"/>
<circle cx="72.12" cy="409.85" r="2"/>
<circle cx="89.93" cy="358.03" r="2"/>
<circle cx="89.93" cy="373.07" r="2"/>
<circle cx="92.55" cy="387.66" r="2"/>
<circle cx="86.72" cy="390.15" r="2"/>
<circle cx="89.93" cy="394.53" r="2"/>
<circle cx="86.72" cy="399.64" r="2"/>
<circle cx="92.55" cy="400.36" r="2"/>
<circle cx="92.55" cy="402.55" r="2"/>
<circle cx="86.72" cy="405.18" r="2"/>
<circle cx="92.55" cy="405.18" r="2"/>
<circle cx="86.72" cy="409.56" r="2"/>
<circle cx="92.55" cy="408.69" r="2"/>
<circle cx="105.69" cy="390.15" r="2"/>
<circle cx="108.91" cy="389.71" r="2"/>
<circle cx="107.59" cy="402.55" r="2"/>
<circle cx="103.07" cy="412.04" r="2"/>
<circle cx="105.69" cy="411.31" r="2"/>
<circle cx="108.61" cy="410.58" r="2"/>
<circle cx="111.82" cy="412.48" r="2"/>
<circle cx="105.69" cy="414.23" r="2"/>
<circle cx="108.61" cy="413.94" r="2"/>
<circle cx="105.69" cy="417.88" r="2"/>
<circle cx="108.61" cy="417.88" r="2"/>
<circle cx="107.59" cy="409.12" r="2"/>
<circle cx="125.4" cy="386.2" r="2"/>
<circle cx="125.4" cy="400.66" r="2"/>
<circle cx="119.56" cy="414.23" r="2"/>
<circle cx="122.48" cy="413.5" r="2"/>
<circle cx="125.4" cy="412.77" r="2"/>
<circle cx="128.32" cy="412.48" r="2"/>
<circle cx="130.22" cy="412.04" r="2"/>
<circle cx="123.94" cy="417.15" r="2"/>
<circle cx="127.59" cy="416.42" r="2"/>
<circle cx="122.48" cy="420.36" r="2"/>
<circle cx="127.59" cy="419.34" r="2"/>
<circle cx="125.4" cy="414.96" r="2"/>
</g>
<line x1="42.5" y1="332.95" x2="42.5" y2="428.25" stroke="#000" stroke-width="1.15"/>
<line x1="41.95" y1="427.7" x2="137" y2="427.7" stroke="#000" stroke-width="1.15"/>
<line x1="38.7" y1="333.5" x2="42.5" y2="333.5" stroke="#000" stroke-width="1.1"/>
<text x="37.5" y="336.5" font-size="8.8" font-weight="bold" text-anchor="end" fill="#1a1311">80</text>
<line x1="38.7" y1="357" x2="42.5" y2="357" stroke="#000" stroke-width="1.1"/>
<text x="37.5" y="360" font-size="8.8" font-weight="bold" text-anchor="end" fill="#1a1311">60</text>
<line x1="38.7" y1="380.6" x2="42.5" y2="380.6" stroke="#000" stroke-width="1.1"/>
<text x="37.5" y="383.6" font-size="8.8" font-weight="bold" text-anchor="end" fill="#1a1311">40</text>
<line x1="38.7" y1="404.2" x2="42.5" y2="404.2" stroke="#000" stroke-width="1.1"/>
<text x="37.5" y="407.2" font-size="8.8" font-weight="bold" text-anchor="end" fill="#1a1311">20</text>
<line x1="38.7" y1="427.7" x2="42.5" y2="427.7" stroke="#000" stroke-width="1.1"/>
<text x="37.5" y="430.7" font-size="8.8" font-weight="bold" text-anchor="end" fill="#1a1311">0</text>
<line x1="54.2" y1="427.7" x2="54.2" y2="431.6" stroke="#000" stroke-width="1.1"/>
<text x="57.4" y="439.3" font-size="9.1" font-weight="bold" text-anchor="end" fill="#1a1311" transform="rotate(-45 57.4 439.3)">Control</text>
<line x1="72" y1="427.7" x2="72" y2="431.6" stroke="#000" stroke-width="1.1"/>
<text x="75.2" y="439.3" font-size="9.1" font-weight="bold" text-anchor="end" fill="#1a1311" transform="rotate(-45 75.2 439.3)">AAV-PTBP1</text>
<line x1="89.7" y1="427.7" x2="89.7" y2="431.6" stroke="#000" stroke-width="1.1"/>
<text x="92.9" y="439.3" font-size="9.1" font-weight="bold" text-anchor="end" fill="#1a1311" transform="rotate(-45 92.9 439.3)">AAV-PTBP1/SPS</text>
<line x1="107.5" y1="427.7" x2="107.5" y2="431.6" stroke="#000" stroke-width="1.1"/>
<text x="110.7" y="439.3" font-size="9.1" font-weight="bold" text-anchor="end" fill="#1a1311" transform="rotate(-45 110.7 439.3)">AAV-Empty/SPS</text>
<line x1="125.1" y1="427.7" x2="125.1" y2="431.6" stroke="#000" stroke-width="1.1"/>
<text x="128.3" y="439.3" font-size="9.1" font-weight="bold" text-anchor="end" fill="#1a1311" transform="rotate(-45 128.3 439.3)">SPS</text>
<text x="11" y="379.5" font-size="9" font-weight="bold" text-anchor="middle" fill="#1a1311" transform="rotate(-90 11 379.5)">Number of crossing</text>
<text x="22" y="379.5" font-size="9" font-weight="bold" text-anchor="middle" fill="#1a1311" transform="rotate(-90 22 379.5)">in the center zone</text>
<line x1="55" y1="296" x2="125" y2="296" stroke="#000" stroke-width="1.2"/>
<path d="M89.8 287.25L89.8 291.75M87.85 288.38L91.75 290.62M91.75 288.38L87.85 290.62" stroke="#111" stroke-width="1.35" fill="none"/>
<circle cx="89.8" cy="289.5" r="1.1" fill="#111"/>
<line x1="72.5" y1="314.5" x2="125" y2="314.5" stroke="#000" stroke-width="1.2"/>
<path d="M95.75 305.75L95.75 310.25M93.8 306.88L97.7 309.12M97.7 306.88L93.8 309.12" stroke="#111" stroke-width="1.35" fill="none"/>
<circle cx="95.75" cy="308" r="1.1" fill="#111"/>
<path d="M101.35 305.75L101.35 310.25M99.4 306.88L103.3 309.12M103.3 306.88L99.4 309.12" stroke="#111" stroke-width="1.35" fill="none"/>
<circle cx="101.35" cy="308" r="1.1" fill="#111"/>
<line x1="90" y1="331" x2="125" y2="331" stroke="#000" stroke-width="1.2"/>
<path d="M107.3 322.25L107.3 326.75M105.35 323.38L109.25 325.62M109.25 323.38L105.35 325.62" stroke="#111" stroke-width="1.35" fill="none"/>
<circle cx="107.3" cy="324.5" r="1.1" fill="#111"/>
<line x1="55" y1="350" x2="71.7" y2="350" stroke="#000" stroke-width="1.2"/>
<text x="63.35" y="345.1" font-size="7.6" font-weight="normal" text-anchor="middle" fill="#1a1311">ns</text>
<line x1="108" y1="350" x2="125" y2="350" stroke="#000" stroke-width="1.2"/>
<text x="116.5" y="345.1" font-size="7.6" font-weight="normal" text-anchor="middle" fill="#1a1311">ns</text>
<text x="175.8" y="287.2" font-size="18.6" font-weight="bold" text-anchor="start" fill="#1a1311">d</text>
<rect x="215.9" y="360" width="11.6" height="68.2" fill="#3E3878"/>
<rect x="233.5" y="360.8" width="11.6" height="67.4" fill="#24498B"/>
<rect x="251.3" y="365.4" width="11.6" height="62.8" fill="#D2AC95"/>
<rect x="268.9" y="389.1" width="11.6" height="39.1" fill="#D96B66"/>
<rect x="286.5" y="386.8" width="11.6" height="41.4" fill="#A66B22"/>
<line x1="221.7" y1="356.8" x2="221.7" y2="360.5" stroke="#3E3878" stroke-width="0.9"/>
<line x1="219" y1="356.8" x2="224.4" y2="356.8" stroke="#3E3878" stroke-width="0.9"/>
<line x1="239.3" y1="356.8" x2="239.3" y2="361.3" stroke="#24498B" stroke-width="0.9"/>
<line x1="236.6" y1="356.8" x2="242" y2="356.8" stroke="#24498B" stroke-width="0.9"/>
<line x1="257.1" y1="363.3" x2="257.1" y2="365.9" stroke="#D2AC95" stroke-width="0.9"/>
<line x1="254.4" y1="363.3" x2="259.8" y2="363.3" stroke="#D2AC95" stroke-width="0.9"/>
<line x1="274.7" y1="382.3" x2="274.7" y2="389.6" stroke="#D96B66" stroke-width="0.9"/>
<line x1="272" y1="382.3" x2="277.4" y2="382.3" stroke="#D96B66" stroke-width="0.9"/>
<line x1="292.3" y1="383.8" x2="292.3" y2="387.3" stroke="#A66B22" stroke-width="0.9"/>
<line x1="289.6" y1="383.8" x2="295" y2="383.8" stroke="#A66B22" stroke-width="0.9"/>
<g fill="#000">
<circle cx="217.22" cy="347.59" r="2"/>
<circle cx="225.98" cy="349.05" r="2"/>
<circle cx="221.6" cy="351.39" r="2"/>
<circle cx="217.22" cy="354.31" r="2"/>
<circle cx="221.6" cy="357.23" r="2"/>
<circle cx="225.98" cy="356.35" r="2"/>
<circle cx="221.6" cy="361.17" r="2"/>
<circle cx="219.41" cy="365.99" r="2"/>
<circle cx="224.23" cy="365.55" r="2"/>
<circle cx="221.6" cy="373.28" r="2"/>
<circle cx="221.6" cy="376.2" r="2"/>
<circle cx="221.6" cy="359.71" r="2"/>
<circle cx="239.41" cy="344.09" r="2"/>
<circle cx="234.74" cy="349.49" r="2"/>
<circle cx="234.74" cy="351.97" r="2"/>
<circle cx="243.79" cy="350.51" r="2"/>
<circle cx="243.79" cy="354.31" r="2"/>
<circle cx="239.41" cy="355.33" r="2"/>
<circle cx="239.41" cy="360.44" r="2"/>
<circle cx="239.41" cy="368.91" r="2"/>
<circle cx="234.74" cy="377.66" r="2"/>
<circle cx="239.41" cy="375.04" r="2"/>
<circle cx="243.79" cy="377.66" r="2"/>
<circle cx="259.26" cy="350.51" r="2"/>
<circle cx="257.36" cy="351.68" r="2"/>
<circle cx="255.18" cy="353.14" r="2"/>
<circle cx="254.88" cy="359.71" r="2"/>
<circle cx="259.26" cy="359.71" r="2"/>
<circle cx="257.07" cy="362.19" r="2"/>
<circle cx="252.99" cy="376.2" r="2"/>
<circle cx="255.18" cy="374.31" r="2"/>
<circle cx="257.07" cy="376.2" r="2"/>
<circle cx="259.26" cy="374.31" r="2"/>
<circle cx="261.31" cy="376.5" r="2"/>
<circle cx="272.4" cy="351.39" r="2"/>
<circle cx="276.78" cy="350.51" r="2"/>
<circle cx="274.59" cy="375.04" r="2"/>
<circle cx="274.59" cy="388.18" r="2"/>
<circle cx="270.07" cy="393.72" r="2"/>
<circle cx="274.59" cy="396.2" r="2"/>
<circle cx="270.07" cy="402.04" r="2"/>
<circle cx="274.59" cy="404.23" r="2"/>
<circle cx="278.82" cy="402.04" r="2"/>
<circle cx="270.07" cy="405.99" r="2"/>
<circle cx="278.82" cy="404.96" r="2"/>
<circle cx="292.11" cy="358.69" r="2"/>
<circle cx="292.11" cy="362.19" r="2"/>
<circle cx="292.11" cy="376.5" r="2"/>
<circle cx="293.86" cy="380.58" r="2"/>
<circle cx="290.5" cy="383.07" r="2"/>
<circle cx="290.5" cy="394.74" r="2"/>
<circle cx="293.13" cy="395.47" r="2"/>
<circle cx="296.05" cy="396.2" r="2"/>
<circle cx="290.5" cy="398.1" r="2"/>
<circle cx="293.86" cy="399.12" r="2"/>
<circle cx="292.11" cy="406.86" r="2"/>
</g>
<line x1="209.7" y1="333.95" x2="209.7" y2="428.75" stroke="#000" stroke-width="1.15"/>
<line x1="209.15" y1="428.2" x2="303.5" y2="428.2" stroke="#000" stroke-width="1.15"/>
<line x1="205.9" y1="334.5" x2="209.7" y2="334.5" stroke="#000" stroke-width="1.1"/>
<text x="204.7" y="337.5" font-size="8.8" font-weight="bold" text-anchor="end" fill="#1a1311">300</text>
<line x1="205.9" y1="365.7" x2="209.7" y2="365.7" stroke="#000" stroke-width="1.1"/>
<text x="204.7" y="368.7" font-size="8.8" font-weight="bold" text-anchor="end" fill="#1a1311">200</text>
<line x1="205.9" y1="397" x2="209.7" y2="397" stroke="#000" stroke-width="1.1"/>
<text x="204.7" y="400" font-size="8.8" font-weight="bold" text-anchor="end" fill="#1a1311">100</text>
<line x1="205.9" y1="428.2" x2="209.7" y2="428.2" stroke="#000" stroke-width="1.1"/>
<text x="204.7" y="431.2" font-size="8.8" font-weight="bold" text-anchor="end" fill="#1a1311">0</text>
<line x1="221.7" y1="428.2" x2="221.7" y2="432.1" stroke="#000" stroke-width="1.1"/>
<text x="224.9" y="439.8" font-size="9.1" font-weight="bold" text-anchor="end" fill="#1a1311" transform="rotate(-45 224.9 439.8)">Control</text>
<line x1="239.3" y1="428.2" x2="239.3" y2="432.1" stroke="#000" stroke-width="1.1"/>
<text x="242.5" y="439.8" font-size="9.1" font-weight="bold" text-anchor="end" fill="#1a1311" transform="rotate(-45 242.5 439.8)">AAV-PTBP1</text>
<line x1="257.1" y1="428.2" x2="257.1" y2="432.1" stroke="#000" stroke-width="1.1"/>
<text x="260.3" y="439.8" font-size="9.1" font-weight="bold" text-anchor="end" fill="#1a1311" transform="rotate(-45 260.3 439.8)">AAV-PTBP1/SPS</text>
<line x1="274.7" y1="428.2" x2="274.7" y2="432.1" stroke="#000" stroke-width="1.1"/>
<text x="277.9" y="439.8" font-size="9.1" font-weight="bold" text-anchor="end" fill="#1a1311" transform="rotate(-45 277.9 439.8)">AAV-Empty/SPS</text>
<line x1="292.3" y1="428.2" x2="292.3" y2="432.1" stroke="#000" stroke-width="1.1"/>
<text x="295.5" y="439.8" font-size="9.1" font-weight="bold" text-anchor="end" fill="#1a1311" transform="rotate(-45 295.5 439.8)">SPS</text>
<text x="184.4" y="380" font-size="9" font-weight="bold" text-anchor="middle" fill="#1a1311" transform="rotate(-90 184.4 380)">The number of crossing</text>
<line x1="222.2" y1="271.7" x2="292.2" y2="271.7" stroke="#000" stroke-width="1.2"/>
<path d="M251.4 262.95L251.4 267.45M249.45 264.07L253.35 266.32M253.35 264.07L249.45 266.32" stroke="#111" stroke-width="1.35" fill="none"/>
<circle cx="251.4" cy="265.2" r="1.1" fill="#111"/>
<path d="M257 262.95L257 267.45M255.05 264.07L258.95 266.32M258.95 264.07L255.05 266.32" stroke="#111" stroke-width="1.35" fill="none"/>
<circle cx="257" cy="265.2" r="1.1" fill="#111"/>
<path d="M262.6 262.95L262.6 267.45M260.65 264.07L264.55 266.32M264.55 264.07L260.65 266.32" stroke="#111" stroke-width="1.35" fill="none"/>
<circle cx="262.6" cy="265.2" r="1.1" fill="#111"/>
<line x1="257.2" y1="287.5" x2="292.2" y2="287.5" stroke="#000" stroke-width="1.2"/>
<path d="M271.7 278.75L271.7 283.25M269.75 279.88L273.65 282.12M273.65 279.88L269.75 282.12" stroke="#111" stroke-width="1.35" fill="none"/>
<circle cx="271.7" cy="281" r="1.1" fill="#111"/>
<path d="M277.3 278.75L277.3 283.25M275.35 279.88L279.25 282.12M279.25 279.88L275.35 282.12" stroke="#111" stroke-width="1.35" fill="none"/>
<circle cx="277.3" cy="281" r="1.1" fill="#111"/>
<line x1="222.2" y1="305.5" x2="274.7" y2="305.5" stroke="#000" stroke-width="1.2"/>
<path d="M242.65 296.75L242.65 301.25M240.7 297.88L244.6 300.12M244.6 297.88L240.7 300.12" stroke="#111" stroke-width="1.35" fill="none"/>
<circle cx="242.65" cy="299" r="1.1" fill="#111"/>
<path d="M248.25 296.75L248.25 301.25M246.3 297.88L250.2 300.12M250.2 297.88L246.3 300.12" stroke="#111" stroke-width="1.35" fill="none"/>
<circle cx="248.25" cy="299" r="1.1" fill="#111"/>
<path d="M253.85 296.75L253.85 301.25M251.9 297.88L255.8 300.12M255.8 297.88L251.9 300.12" stroke="#111" stroke-width="1.35" fill="none"/>
<circle cx="253.85" cy="299" r="1.1" fill="#111"/>
<line x1="257.2" y1="323.5" x2="274.7" y2="323.5" stroke="#000" stroke-width="1.2"/>
<path d="M262.95 314.75L262.95 319.25M261 315.88L264.9 318.12M264.9 315.88L261 318.12" stroke="#111" stroke-width="1.35" fill="none"/>
<circle cx="262.95" cy="317" r="1.1" fill="#111"/>
<path d="M268.55 314.75L268.55 319.25M266.6 315.88L270.5 318.12M270.5 315.88L266.6 318.12" stroke="#111" stroke-width="1.35" fill="none"/>
<circle cx="268.55" cy="317" r="1.1" fill="#111"/>
<line x1="222.2" y1="337.2" x2="239" y2="337.2" stroke="#000" stroke-width="1.2"/>
<text x="230.6" y="332.3" font-size="7.6" font-weight="normal" text-anchor="middle" fill="#1a1311">ns</text>
<line x1="275.2" y1="337.2" x2="292.2" y2="337.2" stroke="#000" stroke-width="1.2"/>
<text x="283.7" y="332.3" font-size="7.6" font-weight="normal" text-anchor="middle" fill="#1a1311">ns</text>
<text x="343.6" y="284.2" font-size="18.6" font-weight="bold" text-anchor="start" fill="#1a1311">e</text>
<rect x="392.9" y="385" width="11.6" height="45" fill="#3E3878"/>
<rect x="409.9" y="404.6" width="11.6" height="25.4" fill="#24498B"/>
<rect x="426.9" y="386" width="11.6" height="44" fill="#D2AC95"/>
<rect x="443.9" y="405.6" width="11.6" height="24.4" fill="#D96B66"/>
<rect x="461" y="401.3" width="11.6" height="28.7" fill="#A66B22"/>
<line x1="398.7" y1="381.4" x2="398.7" y2="385.5" stroke="#3E3878" stroke-width="0.9"/>
<line x1="396" y1="381.4" x2="401.4" y2="381.4" stroke="#3E3878" stroke-width="0.9"/>
<line x1="415.7" y1="403.3" x2="415.7" y2="405.1" stroke="#24498B" stroke-width="0.9"/>
<line x1="413" y1="403.3" x2="418.4" y2="403.3" stroke="#24498B" stroke-width="0.9"/>
<line x1="432.7" y1="381.4" x2="432.7" y2="386.5" stroke="#D2AC95" stroke-width="0.9"/>
<line x1="430" y1="381.4" x2="435.4" y2="381.4" stroke="#D2AC95" stroke-width="0.9"/>
<line x1="449.7" y1="402.3" x2="449.7" y2="406.1" stroke="#D96B66" stroke-width="0.9"/>
<line x1="447" y1="402.3" x2="452.4" y2="402.3" stroke="#D96B66" stroke-width="0.9"/>
<line x1="466.8" y1="398.9" x2="466.8" y2="401.8" stroke="#A66B22" stroke-width="0.9"/>
<line x1="464.1" y1="398.9" x2="469.5" y2="398.9" stroke="#A66B22" stroke-width="0.9"/>
<g fill="#000">
<circle cx="394.49" cy="370.73" r="2"/>
<circle cx="398.58" cy="370.44" r="2"/>
<circle cx="402.81" cy="368.69" r="2"/>
<circle cx="398.58" cy="374.09" r="2"/>
<circle cx="398.58" cy="385.77" r="2"/>
<circle cx="394.49" cy="389.71" r="2"/>
<circle cx="398.58" cy="390.88" r="2"/>
<circle cx="402.81" cy="390.58" r="2"/>
<circle cx="395.95" cy="394.96" r="2"/>
<circle cx="401.06" cy="394.96" r="2"/>
<circle cx="398.58" cy="402.55" r="2"/>
<circle cx="398.58" cy="393.8" r="2"/>
<circle cx="415.66" cy="384.74" r="2"/>
<circle cx="415.66" cy="390.88" r="2"/>
<circle cx="411.28" cy="401.39" r="2"/>
<circle cx="415.66" cy="401.39" r="2"/>
<circle cx="420.04" cy="402.26" r="2"/>
<circle cx="417.85" cy="406.2" r="2"/>
<circle cx="413.47" cy="406.93" r="2"/>
<circle cx="413.47" cy="409.85" r="2"/>
<circle cx="417.85" cy="410.58" r="2"/>
<circle cx="413.47" cy="416.42" r="2"/>
<circle cx="417.85" cy="416.42" r="2"/>
<circle cx="415.66" cy="404.31" r="2"/>
<circle cx="432.74" cy="357.3" r="2"/>
<circle cx="432.74" cy="360.22" r="2"/>
<circle cx="432.74" cy="378.03" r="2"/>
<circle cx="432.74" cy="384.31" r="2"/>
<circle cx="432.74" cy="388.69" r="2"/>
<circle cx="428.5" cy="391.17" r="2"/>
<circle cx="436.82" cy="392.04" r="2"/>
<circle cx="432.74" cy="393.5" r="2"/>
<circle cx="432.74" cy="397.45" r="2"/>
<circle cx="436.82" cy="395.99" r="2"/>
<circle cx="432.74" cy="404.31" r="2"/>
<circle cx="434.64" cy="393.8" r="2"/>
<circle cx="449.67" cy="384.31" r="2"/>
<circle cx="449.67" cy="394.09" r="2"/>
<circle cx="447.04" cy="401.82" r="2"/>
<circle cx="452.45" cy="400.8" r="2"/>
<circle cx="447.04" cy="406.2" r="2"/>
<circle cx="452.45" cy="405.18" r="2"/>
<circle cx="447.04" cy="409.56" r="2"/>
<circle cx="447.04" cy="412.48" r="2"/>
<circle cx="452.45" cy="412.04" r="2"/>
<circle cx="447.04" cy="417.88" r="2"/>
<circle cx="452.45" cy="417.15" r="2"/>
<circle cx="449.67" cy="407.66" r="2"/>
<circle cx="469.67" cy="388.25" r="2"/>
<circle cx="464.12" cy="389.71" r="2"/>
<circle cx="469.67" cy="392.63" r="2"/>
<circle cx="464.12" cy="395.26" r="2"/>
<circle cx="464.12" cy="397.88" r="2"/>
<circle cx="469.67" cy="397.45" r="2"/>
<circle cx="466.75" cy="402.55" r="2"/>
<circle cx="466.75" cy="406.2" r="2"/>
<circle cx="464.12" cy="413.07" r="2"/>
<circle cx="464.12" cy="416.42" r="2"/>
<circle cx="469.67" cy="415.4" r="2"/>
<circle cx="466.75" cy="399.64" r="2"/>
</g>
<line x1="387.2" y1="338.65" x2="387.2" y2="430.55" stroke="#000" stroke-width="1.15"/>
<line x1="386.65" y1="430" x2="478.5" y2="430" stroke="#000" stroke-width="1.15"/>
<line x1="383.4" y1="339.2" x2="387.2" y2="339.2" stroke="#000" stroke-width="1.1"/>
<text x="382.2" y="342.2" font-size="8.8" font-weight="bold" text-anchor="end" fill="#1a1311">150</text>
<line x1="383.4" y1="369.5" x2="387.2" y2="369.5" stroke="#000" stroke-width="1.1"/>
<text x="382.2" y="372.5" font-size="8.8" font-weight="bold" text-anchor="end" fill="#1a1311">100</text>
<line x1="383.4" y1="399.7" x2="387.2" y2="399.7" stroke="#000" stroke-width="1.1"/>
<text x="382.2" y="402.7" font-size="8.8" font-weight="bold" text-anchor="end" fill="#1a1311">50</text>
<line x1="383.4" y1="430" x2="387.2" y2="430" stroke="#000" stroke-width="1.1"/>
<text x="382.2" y="433" font-size="8.8" font-weight="bold" text-anchor="end" fill="#1a1311">0</text>
<line x1="398.7" y1="430" x2="398.7" y2="433.9" stroke="#000" stroke-width="1.1"/>
<text x="401.9" y="441.6" font-size="9.1" font-weight="bold" text-anchor="end" fill="#1a1311" transform="rotate(-45 401.9 441.6)">Control</text>
<line x1="415.7" y1="430" x2="415.7" y2="433.9" stroke="#000" stroke-width="1.1"/>
<text x="418.9" y="441.6" font-size="9.1" font-weight="bold" text-anchor="end" fill="#1a1311" transform="rotate(-45 418.9 441.6)">AAV-PTBP1</text>
<line x1="432.7" y1="430" x2="432.7" y2="433.9" stroke="#000" stroke-width="1.1"/>
<text x="435.9" y="441.6" font-size="9.1" font-weight="bold" text-anchor="end" fill="#1a1311" transform="rotate(-45 435.9 441.6)">AAV-PTBP1/SPS</text>
<line x1="449.7" y1="430" x2="449.7" y2="433.9" stroke="#000" stroke-width="1.1"/>
<text x="452.9" y="441.6" font-size="9.1" font-weight="bold" text-anchor="end" fill="#1a1311" transform="rotate(-45 452.9 441.6)">AAV-Empty/SPS</text>
<line x1="466.8" y1="430" x2="466.8" y2="433.9" stroke="#000" stroke-width="1.1"/>
<text x="470" y="441.6" font-size="9.1" font-weight="bold" text-anchor="end" fill="#1a1311" transform="rotate(-45 470 441.6)">SPS</text>
<text x="352.2" y="383.5" font-size="9" font-weight="bold" text-anchor="middle" fill="#1a1311" transform="rotate(-90 352.2 383.5)">Time spent in</text>
<text x="363" y="383.5" font-size="9" font-weight="bold" text-anchor="middle" fill="#1a1311" transform="rotate(-90 363 383.5)">the open arm (s)</text>
<line x1="399" y1="289.2" x2="467" y2="289.2" stroke="#000" stroke-width="1.2"/>
<path d="M432.8 280.45L432.8 284.95M430.85 281.57L434.75 283.82M434.75 281.57L430.85 283.82" stroke="#111" stroke-width="1.35" fill="none"/>
<circle cx="432.8" cy="282.7" r="1.1" fill="#111"/>
<line x1="433" y1="305.5" x2="467" y2="305.5" stroke="#000" stroke-width="1.2"/>
<path d="M449.8 296.75L449.8 301.25M447.85 297.88L451.75 300.12M451.75 297.88L447.85 300.12" stroke="#111" stroke-width="1.35" fill="none"/>
<circle cx="449.8" cy="299" r="1.1" fill="#111"/>
<line x1="399" y1="321.7" x2="450" y2="321.7" stroke="#000" stroke-width="1.2"/>
<path d="M418.7 312.95L418.7 317.45M416.75 314.07L420.65 316.32M420.65 314.07L416.75 316.32" stroke="#111" stroke-width="1.35" fill="none"/>
<circle cx="418.7" cy="315.2" r="1.1" fill="#111"/>
<path d="M424.3 312.95L424.3 317.45M422.35 314.07L426.25 316.32M426.25 314.07L422.35 316.32" stroke="#111" stroke-width="1.35" fill="none"/>
<circle cx="424.3" cy="315.2" r="1.1" fill="#111"/>
<path d="M429.9 312.95L429.9 317.45M427.95 314.07L431.85 316.32M431.85 314.07L427.95 316.32" stroke="#111" stroke-width="1.35" fill="none"/>
<circle cx="429.9" cy="315.2" r="1.1" fill="#111"/>
<line x1="433" y1="339.5" x2="450" y2="339.5" stroke="#000" stroke-width="1.2"/>
<path d="M438.5 330.75L438.5 335.25M436.55 331.88L440.45 334.12M440.45 331.88L436.55 334.12" stroke="#111" stroke-width="1.35" fill="none"/>
<circle cx="438.5" cy="333" r="1.1" fill="#111"/>
<path d="M444.1 330.75L444.1 335.25M442.15 331.88L446.05 334.12M446.05 331.88L442.15 334.12" stroke="#111" stroke-width="1.35" fill="none"/>
<circle cx="444.1" cy="333" r="1.1" fill="#111"/>
<line x1="399" y1="352.2" x2="415.7" y2="352.2" stroke="#000" stroke-width="1.2"/>
<path d="M404.35 343.45L404.35 347.95M402.4 344.57L406.3 346.82M406.3 344.57L402.4 346.82" stroke="#111" stroke-width="1.35" fill="none"/>
<circle cx="404.35" cy="345.7" r="1.1" fill="#111"/>
<path d="M409.95 343.45L409.95 347.95M408 344.57L411.9 346.82M411.9 344.57L408 346.82" stroke="#111" stroke-width="1.35" fill="none"/>
<circle cx="409.95" cy="345.7" r="1.1" fill="#111"/>
<line x1="450" y1="352.2" x2="467" y2="352.2" stroke="#000" stroke-width="1.2"/>
<text x="458.5" y="347.3" font-size="7.6" font-weight="normal" text-anchor="middle" fill="#1a1311">ns</text>
<text x="498.6" y="284.2" font-size="18.6" font-weight="bold" text-anchor="start" fill="#1a1311">f</text>
<rect x="558.2" y="373.3" width="11.8" height="54.2" fill="#3E3878"/>
<rect x="575.7" y="392.9" width="11.8" height="34.6" fill="#24498B"/>
<rect x="593.6" y="372" width="11.8" height="55.5" fill="#D2AC95"/>
<rect x="611.2" y="392.9" width="11.8" height="34.6" fill="#D96B66"/>
<rect x="629.1" y="394.2" width="11.8" height="33.3" fill="#A66B22"/>
<line x1="564.1" y1="371.3" x2="564.1" y2="373.8" stroke="#3E3878" stroke-width="0.9"/>
<line x1="561.4" y1="371.3" x2="566.8" y2="371.3" stroke="#3E3878" stroke-width="0.9"/>
<line x1="581.6" y1="391.2" x2="581.6" y2="393.4" stroke="#24498B" stroke-width="0.9"/>
<line x1="578.9" y1="391.2" x2="584.3" y2="391.2" stroke="#24498B" stroke-width="0.9"/>
<line x1="599.5" y1="370" x2="599.5" y2="372.5" stroke="#D2AC95" stroke-width="0.9"/>
<line x1="596.8" y1="370" x2="602.2" y2="370" stroke="#D2AC95" stroke-width="0.9"/>
<line x1="617.1" y1="389.6" x2="617.1" y2="393.4" stroke="#D96B66" stroke-width="0.9"/>
<line x1="614.4" y1="389.6" x2="619.8" y2="389.6" stroke="#D96B66" stroke-width="0.9"/>
<line x1="635" y1="391.2" x2="635" y2="394.7" stroke="#A66B22" stroke-width="0.9"/>
<line x1="632.3" y1="391.2" x2="637.7" y2="391.2" stroke="#A66B22" stroke-width="0.9"/>
<g fill="#000">
<circle cx="564.16" cy="355.33" r="2"/>
<circle cx="561.68" cy="359.27" r="2"/>
<circle cx="566.5" cy="359.27" r="2"/>
<circle cx="559.49" cy="374.74" r="2"/>
<circle cx="564.16" cy="374.74" r="2"/>
<circle cx="568.69" cy="374.74" r="2"/>
<circle cx="564.16" cy="378.69" r="2"/>
<circle cx="564.16" cy="382.34" r="2"/>
<circle cx="564.16" cy="385.99" r="2"/>
<circle cx="564.16" cy="393.72" r="2"/>
<circle cx="564.16" cy="397.23" r="2"/>
<circle cx="581.82" cy="374.74" r="2"/>
<circle cx="581.82" cy="382.34" r="2"/>
<circle cx="577.3" cy="389.93" r="2"/>
<circle cx="581.82" cy="389.93" r="2"/>
<circle cx="586.5" cy="389.93" r="2"/>
<circle cx="579.64" cy="393.72" r="2"/>
<circle cx="584.31" cy="393.72" r="2"/>
<circle cx="579.64" cy="397.23" r="2"/>
<circle cx="584.31" cy="397.23" r="2"/>
<circle cx="581.82" cy="404.96" r="2"/>
<circle cx="581.82" cy="408.61" r="2"/>
<circle cx="581.82" cy="401.31" r="2"/>
<circle cx="599.64" cy="351.68" r="2"/>
<circle cx="599.64" cy="355.33" r="2"/>
<circle cx="597.45" cy="367.01" r="2"/>
<circle cx="601.82" cy="367.01" r="2"/>
<circle cx="594.96" cy="370.95" r="2"/>
<circle cx="599.64" cy="370.95" r="2"/>
<circle cx="604.01" cy="370.95" r="2"/>
<circle cx="599.64" cy="385.99" r="2"/>
<circle cx="599.64" cy="389.93" r="2"/>
<circle cx="599.64" cy="397.66" r="2"/>
<circle cx="617.15" cy="370.95" r="2"/>
<circle cx="614.23" cy="382.34" r="2"/>
<circle cx="620.36" cy="382.34" r="2"/>
<circle cx="614.23" cy="389.93" r="2"/>
<circle cx="620.36" cy="389.93" r="2"/>
<circle cx="614.23" cy="393.72" r="2"/>
<circle cx="620.36" cy="393.72" r="2"/>
<circle cx="617.15" cy="397.66" r="2"/>
<circle cx="617.15" cy="401.31" r="2"/>
<circle cx="617.15" cy="404.96" r="2"/>
<circle cx="617.15" cy="416.2" r="2"/>
<circle cx="634.96" cy="378.69" r="2"/>
<circle cx="634.96" cy="382.34" r="2"/>
<circle cx="631.75" cy="386.42" r="2"/>
<circle cx="638.03" cy="386.42" r="2"/>
<circle cx="634.96" cy="389.93" r="2"/>
<circle cx="634.96" cy="393.72" r="2"/>
<circle cx="634.96" cy="397.66" r="2"/>
<circle cx="634.96" cy="401.31" r="2"/>
<circle cx="631.75" cy="404.96" r="2"/>
<circle cx="638.03" cy="404.96" r="2"/>
<circle cx="634.96" cy="412.55" r="2"/>
</g>
<line x1="551.7" y1="332.95" x2="551.7" y2="428.05" stroke="#000" stroke-width="1.15"/>
<line x1="551.15" y1="427.5" x2="647.2" y2="427.5" stroke="#000" stroke-width="1.15"/>
<line x1="547.9" y1="333.5" x2="551.7" y2="333.5" stroke="#000" stroke-width="1.1"/>
<text x="546.7" y="336.5" font-size="8.8" font-weight="bold" text-anchor="end" fill="#1a1311">25</text>
<line x1="547.9" y1="352.3" x2="551.7" y2="352.3" stroke="#000" stroke-width="1.1"/>
<text x="546.7" y="355.3" font-size="8.8" font-weight="bold" text-anchor="end" fill="#1a1311">20</text>
<line x1="547.9" y1="371.1" x2="551.7" y2="371.1" stroke="#000" stroke-width="1.1"/>
<text x="546.7" y="374.1" font-size="8.8" font-weight="bold" text-anchor="end" fill="#1a1311">15</text>
<line x1="547.9" y1="389.9" x2="551.7" y2="389.9" stroke="#000" stroke-width="1.1"/>
<text x="546.7" y="392.9" font-size="8.8" font-weight="bold" text-anchor="end" fill="#1a1311">10</text>
<line x1="547.9" y1="408.7" x2="551.7" y2="408.7" stroke="#000" stroke-width="1.1"/>
<text x="546.7" y="411.7" font-size="8.8" font-weight="bold" text-anchor="end" fill="#1a1311">5</text>
<line x1="547.9" y1="427.5" x2="551.7" y2="427.5" stroke="#000" stroke-width="1.1"/>
<text x="546.7" y="430.5" font-size="8.8" font-weight="bold" text-anchor="end" fill="#1a1311">0</text>
<line x1="564.1" y1="427.5" x2="564.1" y2="431.4" stroke="#000" stroke-width="1.1"/>
<text x="567.3" y="439.1" font-size="9.1" font-weight="bold" text-anchor="end" fill="#1a1311" transform="rotate(-45 567.3 439.1)">Control</text>
<line x1="581.6" y1="427.5" x2="581.6" y2="431.4" stroke="#000" stroke-width="1.1"/>
<text x="584.8" y="439.1" font-size="9.1" font-weight="bold" text-anchor="end" fill="#1a1311" transform="rotate(-45 584.8 439.1)">AAV-PTBP1</text>
<line x1="599.5" y1="427.5" x2="599.5" y2="431.4" stroke="#000" stroke-width="1.1"/>
<text x="602.7" y="439.1" font-size="9.1" font-weight="bold" text-anchor="end" fill="#1a1311" transform="rotate(-45 602.7 439.1)">AAV-PTBP1/SPS</text>
<line x1="617.1" y1="427.5" x2="617.1" y2="431.4" stroke="#000" stroke-width="1.1"/>
<text x="620.3" y="439.1" font-size="9.1" font-weight="bold" text-anchor="end" fill="#1a1311" transform="rotate(-45 620.3 439.1)">AAV-Empty/SPS</text>
<line x1="635" y1="427.5" x2="635" y2="431.4" stroke="#000" stroke-width="1.1"/>
<text x="638.2" y="439.1" font-size="9.1" font-weight="bold" text-anchor="end" fill="#1a1311" transform="rotate(-45 638.2 439.1)">SPS</text>
<text x="521.4" y="380" font-size="9" font-weight="bold" text-anchor="middle" fill="#1a1311" transform="rotate(-90 521.4 380)">Number of entries</text>
<text x="532" y="380" font-size="9" font-weight="bold" text-anchor="middle" fill="#1a1311" transform="rotate(-90 532 380)">into the open arm</text>
<line x1="564.2" y1="271.7" x2="635" y2="271.7" stroke="#000" stroke-width="1.2"/>
<path d="M596.6 262.95L596.6 267.45M594.65 264.07L598.55 266.32M598.55 264.07L594.65 266.32" stroke="#111" stroke-width="1.35" fill="none"/>
<circle cx="596.6" cy="265.2" r="1.1" fill="#111"/>
<path d="M602.2 262.95L602.2 267.45M600.25 264.07L604.15 266.32M604.15 264.07L600.25 266.32" stroke="#111" stroke-width="1.35" fill="none"/>
<circle cx="602.2" cy="265.2" r="1.1" fill="#111"/>
<line x1="600" y1="291.5" x2="635" y2="291.5" stroke="#000" stroke-width="1.2"/>
<path d="M614.5 282.75L614.5 287.25M612.55 283.88L616.45 286.12M616.45 283.88L612.55 286.12" stroke="#111" stroke-width="1.35" fill="none"/>
<circle cx="614.5" cy="285" r="1.1" fill="#111"/>
<path d="M620.1 282.75L620.1 287.25M618.15 283.88L622.05 286.12M622.05 283.88L618.15 286.12" stroke="#111" stroke-width="1.35" fill="none"/>
<circle cx="620.1" cy="285" r="1.1" fill="#111"/>
<line x1="564.2" y1="309.2" x2="617" y2="309.2" stroke="#000" stroke-width="1.2"/>
<path d="M590.4 300.45L590.4 304.95M588.45 301.57L592.35 303.82M592.35 301.57L588.45 303.82" stroke="#111" stroke-width="1.35" fill="none"/>
<circle cx="590.4" cy="302.7" r="1.1" fill="#111"/>
<line x1="600" y1="329.2" x2="617" y2="329.2" stroke="#777" stroke-width="1.2"/>
<path d="M605.5 320.45L605.5 324.95M603.55 321.57L607.45 323.82M607.45 321.57L603.55 323.82" stroke="#111" stroke-width="1.35" fill="none"/>
<circle cx="605.5" cy="322.7" r="1.1" fill="#111"/>
<path d="M611.1 320.45L611.1 324.95M609.15 321.57L613.05 323.82M613.05 321.57L609.15 323.82" stroke="#111" stroke-width="1.35" fill="none"/>
<circle cx="611.1" cy="322.7" r="1.1" fill="#111"/>
<line x1="564.2" y1="343.2" x2="581.5" y2="343.2" stroke="#000" stroke-width="1.2"/>
<path d="M572.65 334.45L572.65 338.95M570.7 335.57L574.6 337.82M574.6 335.57L570.7 337.82" stroke="#111" stroke-width="1.35" fill="none"/>
<circle cx="572.65" cy="336.7" r="1.1" fill="#111"/>
<line x1="617.5" y1="343.2" x2="635" y2="343.2" stroke="#000" stroke-width="1.2"/>
<text x="626.25" y="338.3" font-size="7.6" font-weight="normal" text-anchor="middle" fill="#1a1311">ns</text>
<text x="0.8" y="504" font-size="18.6" font-weight="bold" text-anchor="start" fill="#1a1311">g</text>
<rect x="43.8" y="604.2" width="11.8" height="44" fill="#3E3878"/>
<rect x="62.2" y="595.5" width="11.8" height="52.7" fill="#24498B"/>
<rect x="80.7" y="603.2" width="11.8" height="45" fill="#D2AC95"/>
<rect x="99.2" y="593" width="11.8" height="55.2" fill="#D96B66"/>
<rect x="117.7" y="593.7" width="11.8" height="54.5" fill="#A66B22"/>
<line x1="49.7" y1="601.5" x2="49.7" y2="604.7" stroke="#3E3878" stroke-width="0.9"/>
<line x1="47" y1="601.5" x2="52.4" y2="601.5" stroke="#3E3878" stroke-width="0.9"/>
<line x1="68.1" y1="593.7" x2="68.1" y2="596" stroke="#24498B" stroke-width="0.9"/>
<line x1="65.4" y1="593.7" x2="70.8" y2="593.7" stroke="#24498B" stroke-width="0.9"/>
<line x1="86.6" y1="601.8" x2="86.6" y2="603.7" stroke="#D2AC95" stroke-width="0.9"/>
<line x1="83.9" y1="601.8" x2="89.3" y2="601.8" stroke="#D2AC95" stroke-width="0.9"/>
<g fill="#000">
<circle cx="45.51" cy="596.61" r="2"/>
<circle cx="47.41" cy="594.71" r="2"/>
<circle cx="49.6" cy="597.19" r="2"/>
<circle cx="52.23" cy="596.9" r="2"/>
<circle cx="54.71" cy="596.61" r="2"/>
<circle cx="47.41" cy="602.45" r="2"/>
<circle cx="49.89" cy="605.66" r="2"/>
<circle cx="52.52" cy="604.93" r="2"/>
<circle cx="49.89" cy="613.69" r="2"/>
<circle cx="51.06" cy="616.61" r="2"/>
<circle cx="48.87" cy="618.8" r="2"/>
<circle cx="49.89" cy="603.47" r="2"/>
<circle cx="66.82" cy="588.14" r="2"/>
<circle cx="70.04" cy="590.33" r="2"/>
<circle cx="67.85" cy="593.69" r="2"/>
<circle cx="63.47" cy="596.61" r="2"/>
<circle cx="66.39" cy="596.9" r="2"/>
<circle cx="70.04" cy="596.9" r="2"/>
<circle cx="73.25" cy="596.61" r="2"/>
<circle cx="68.28" cy="599.09" r="2"/>
<circle cx="66.39" cy="601.28" r="2"/>
<circle cx="70.04" cy="602.01" r="2"/>
<circle cx="68.28" cy="605.36" r="2"/>
<circle cx="86.39" cy="595.44" r="2"/>
<circle cx="89.01" cy="595.44" r="2"/>
<circle cx="84.64" cy="598.07" r="2"/>
<circle cx="89.01" cy="600.99" r="2"/>
<circle cx="86.82" cy="603.03" r="2"/>
<circle cx="84.64" cy="604.93" r="2"/>
<circle cx="81.72" cy="606.82" r="2"/>
<circle cx="86.39" cy="605.95" r="2"/>
<circle cx="91.2" cy="605.66" r="2"/>
<circle cx="89.01" cy="604.2" r="2"/>
<circle cx="91.2" cy="607.85" r="2"/>
<circle cx="86.39" cy="607.41" r="2"/>
<circle cx="105.07" cy="584.49" r="2"/>
<circle cx="105.07" cy="588.87" r="2"/>
<circle cx="102.15" cy="590.77" r="2"/>
<circle cx="99.96" cy="593.25" r="2"/>
<circle cx="102.88" cy="593.25" r="2"/>
<circle cx="106.53" cy="593.98" r="2"/>
<circle cx="109.45" cy="591.79" r="2"/>
<circle cx="110.18" cy="593.98" r="2"/>
<circle cx="102.15" cy="596.17" r="2"/>
<circle cx="107.99" cy="595.44" r="2"/>
<circle cx="102.88" cy="598.36" r="2"/>
<circle cx="104.78" cy="593.25" r="2"/>
<circle cx="118.94" cy="589.6" r="2"/>
<circle cx="122.59" cy="590.33" r="2"/>
<circle cx="126.24" cy="589.6" r="2"/>
<circle cx="128.43" cy="591.06" r="2"/>
<circle cx="118.94" cy="593.25" r="2"/>
<circle cx="122.59" cy="593.25" r="2"/>
<circle cx="125.8" cy="593.25" r="2"/>
<circle cx="128.43" cy="593.98" r="2"/>
<circle cx="120.4" cy="596.61" r="2"/>
<circle cx="125.8" cy="596.9" r="2"/>
<circle cx="121.13" cy="599.09" r="2"/>
<circle cx="123.32" cy="595.44" r="2"/>
</g>
<line x1="37.5" y1="549.95" x2="37.5" y2="648.75" stroke="#000" stroke-width="1.15"/>
<line x1="36.95" y1="648.2" x2="135.7" y2="648.2" stroke="#000" stroke-width="1.15"/>
<line x1="33.7" y1="550.5" x2="37.5" y2="550.5" stroke="#000" stroke-width="1.1"/>
<text x="32.5" y="553.5" font-size="8.8" font-weight="bold" text-anchor="end" fill="#1a1311">1.5</text>
<line x1="33.7" y1="583.1" x2="37.5" y2="583.1" stroke="#000" stroke-width="1.1"/>
<text x="32.5" y="586.1" font-size="8.8" font-weight="bold" text-anchor="end" fill="#1a1311">1.0</text>
<line x1="33.7" y1="615.6" x2="37.5" y2="615.6" stroke="#000" stroke-width="1.1"/>
<text x="32.5" y="618.6" font-size="8.8" font-weight="bold" text-anchor="end" fill="#1a1311">0.5</text>
<line x1="33.7" y1="648.2" x2="37.5" y2="648.2" stroke="#000" stroke-width="1.1"/>
<text x="32.5" y="651.2" font-size="8.8" font-weight="bold" text-anchor="end" fill="#1a1311">0.0</text>
<line x1="49.7" y1="648.2" x2="49.7" y2="652.1" stroke="#000" stroke-width="1.1"/>
<text x="52.9" y="659.8" font-size="9.1" font-weight="bold" text-anchor="end" fill="#1a1311" transform="rotate(-45 52.9 659.8)">Control</text>
<line x1="68.1" y1="648.2" x2="68.1" y2="652.1" stroke="#000" stroke-width="1.1"/>
<text x="71.3" y="659.8" font-size="9.1" font-weight="bold" text-anchor="end" fill="#1a1311" transform="rotate(-45 71.3 659.8)">AAV-PTBP1</text>
<line x1="86.6" y1="648.2" x2="86.6" y2="652.1" stroke="#000" stroke-width="1.1"/>
<text x="89.8" y="659.8" font-size="9.1" font-weight="bold" text-anchor="end" fill="#1a1311" transform="rotate(-45 89.8 659.8)">AAV-PTBP1/SPS</text>
<line x1="105.1" y1="648.2" x2="105.1" y2="652.1" stroke="#000" stroke-width="1.1"/>
<text x="108.3" y="659.8" font-size="9.1" font-weight="bold" text-anchor="end" fill="#1a1311" transform="rotate(-45 108.3 659.8)">AAV-Empty/SPS</text>
<line x1="123.6" y1="648.2" x2="123.6" y2="652.1" stroke="#000" stroke-width="1.1"/>
<text x="126.8" y="659.8" font-size="9.1" font-weight="bold" text-anchor="end" fill="#1a1311" transform="rotate(-45 126.8 659.8)">SPS</text>
<text x="13.7" y="598" font-size="9" font-weight="bold" text-anchor="middle" fill="#1a1311" transform="rotate(-90 13.7 598)">Anxiety index</text>
<line x1="50.5" y1="510.5" x2="123.7" y2="510.5" stroke="#000" stroke-width="1.2"/>
<path d="M81.3 501.75L81.3 506.25M79.35 502.88L83.25 505.12M83.25 502.88L79.35 505.12" stroke="#111" stroke-width="1.35" fill="none"/>
<circle cx="81.3" cy="504" r="1.1" fill="#111"/>
<path d="M86.9 501.75L86.9 506.25M84.95 502.88L88.85 505.12M88.85 502.88L84.95 505.12" stroke="#111" stroke-width="1.35" fill="none"/>
<circle cx="86.9" cy="504" r="1.1" fill="#111"/>
<path d="M92.5 501.75L92.5 506.25M90.55 502.88L94.45 505.12M94.45 502.88L90.55 505.12" stroke="#111" stroke-width="1.35" fill="none"/>
<circle cx="92.5" cy="504" r="1.1" fill="#111"/>
<line x1="87.2" y1="531.2" x2="123.7" y2="531.2" stroke="#000" stroke-width="1.2"/>
<path d="M102.45 522.45L102.45 526.95M100.5 523.58L104.4 525.83M104.4 523.58L100.5 525.83" stroke="#111" stroke-width="1.35" fill="none"/>
<circle cx="102.45" cy="524.7" r="1.1" fill="#111"/>
<path d="M108.05 522.45L108.05 526.95M106.1 523.58L110 525.83M110 523.58L106.1 525.83" stroke="#111" stroke-width="1.35" fill="none"/>
<circle cx="108.05" cy="524.7" r="1.1" fill="#111"/>
<line x1="50.5" y1="552" x2="103" y2="552" stroke="#000" stroke-width="1.2"/>
<path d="M68.15 543.25L68.15 547.75M66.2 544.38L70.1 546.62M70.1 544.38L66.2 546.62" stroke="#111" stroke-width="1.35" fill="none"/>
<circle cx="68.15" cy="545.5" r="1.1" fill="#111"/>
<path d="M73.75 543.25L73.75 547.75M71.8 544.38L75.7 546.62M75.7 544.38L71.8 546.62" stroke="#111" stroke-width="1.35" fill="none"/>
<circle cx="73.75" cy="545.5" r="1.1" fill="#111"/>
<path d="M79.35 543.25L79.35 547.75M77.4 544.38L81.3 546.62M81.3 544.38L77.4 546.62" stroke="#111" stroke-width="1.35" fill="none"/>
<circle cx="79.35" cy="545.5" r="1.1" fill="#111"/>
<path d="M84.95 543.25L84.95 547.75M83 544.38L86.9 546.62M86.9 544.38L83 546.62" stroke="#111" stroke-width="1.35" fill="none"/>
<circle cx="84.95" cy="545.5" r="1.1" fill="#111"/>
<line x1="107.5" y1="552" x2="123.7" y2="552" stroke="#000" stroke-width="1.2"/>
<text x="115.6" y="547.1" font-size="7.6" font-weight="normal" text-anchor="middle" fill="#1a1311">ns</text>
<line x1="50.5" y1="572.7" x2="68" y2="572.7" stroke="#000" stroke-width="1.2"/>
<path d="M59.05 563.95L59.05 568.45M57.1 565.08L61 567.33M61 565.08L57.1 567.33" stroke="#111" stroke-width="1.35" fill="none"/>
<circle cx="59.05" cy="566.2" r="1.1" fill="#111"/>
<line x1="87.2" y1="572.7" x2="105" y2="572.7" stroke="#000" stroke-width="1.2"/>
<path d="M90.3 563.95L90.3 568.45M88.35 565.08L92.25 567.33M92.25 565.08L88.35 567.33" stroke="#111" stroke-width="1.35" fill="none"/>
<circle cx="90.3" cy="566.2" r="1.1" fill="#111"/>
<path d="M95.9 563.95L95.9 568.45M93.95 565.08L97.85 567.33M97.85 565.08L93.95 567.33" stroke="#111" stroke-width="1.35" fill="none"/>
<circle cx="95.9" cy="566.2" r="1.1" fill="#111"/>
<path d="M101.5 563.95L101.5 568.45M99.55 565.08L103.45 567.33M103.45 565.08L99.55 567.33" stroke="#111" stroke-width="1.35" fill="none"/>
<circle cx="101.5" cy="566.2" r="1.1" fill="#111"/>
<text x="154.6" y="504.2" font-size="18.6" font-weight="bold" text-anchor="start" fill="#1a1311">h</text>
<rect x="195.7" y="613" width="11.8" height="35.2" fill="#3E3878"/>
<rect x="214" y="615" width="11.8" height="33.2" fill="#24498B"/>
<rect x="232.2" y="613.2" width="11.8" height="35" fill="#D2AC95"/>
<rect x="250.7" y="636.2" width="11.8" height="12" fill="#D96B66"/>
<rect x="269.1" y="643.2" width="11.8" height="5" fill="#A66B22"/>
<line x1="201.6" y1="606.4" x2="201.6" y2="613.5" stroke="#3E3878" stroke-width="0.9"/>
<line x1="198.9" y1="606.4" x2="204.3" y2="606.4" stroke="#3E3878" stroke-width="0.9"/>
<line x1="219.9" y1="609.6" x2="219.9" y2="615.5" stroke="#24498B" stroke-width="0.9"/>
<line x1="217.2" y1="609.6" x2="222.6" y2="609.6" stroke="#24498B" stroke-width="0.9"/>
<line x1="238.1" y1="604.5" x2="238.1" y2="613.7" stroke="#D2AC95" stroke-width="0.9"/>
<line x1="235.4" y1="604.5" x2="240.8" y2="604.5" stroke="#D2AC95" stroke-width="0.9"/>
<line x1="256.6" y1="631.5" x2="256.6" y2="636.7" stroke="#D96B66" stroke-width="0.9"/>
<line x1="253.9" y1="631.5" x2="259.3" y2="631.5" stroke="#D96B66" stroke-width="0.9"/>
<line x1="275" y1="640" x2="275" y2="643.7" stroke="#A66B22" stroke-width="0.9"/>
<line x1="272.3" y1="640" x2="277.7" y2="640" stroke="#A66B22" stroke-width="0.9"/>
<g fill="#000">
<circle cx="198.97" cy="589.64" r="2"/>
<circle cx="201.31" cy="589.64" r="2"/>
<circle cx="203.64" cy="589.64" r="2"/>
<circle cx="196.93" cy="609.2" r="2"/>
<circle cx="199.12" cy="609.2" r="2"/>
<circle cx="201.31" cy="609.2" r="2"/>
<circle cx="203.5" cy="609.2" r="2"/>
<circle cx="205.69" cy="609.2" r="2"/>
<circle cx="201.31" cy="628.61" r="2"/>
<circle cx="200.14" cy="648.03" r="2"/>
<circle cx="202.33" cy="648.03" r="2"/>
<circle cx="218.39" cy="589.64" r="2"/>
<circle cx="220.58" cy="589.64" r="2"/>
<circle cx="214.74" cy="609.2" r="2"/>
<circle cx="217.22" cy="609.2" r="2"/>
<circle cx="219.55" cy="609.2" r="2"/>
<circle cx="222.04" cy="609.2" r="2"/>
<circle cx="224.52" cy="609.2" r="2"/>
<circle cx="217.22" cy="628.61" r="2"/>
<circle cx="219.55" cy="628.61" r="2"/>
<circle cx="222.04" cy="628.61" r="2"/>
<circle cx="219.55" cy="648.03" r="2"/>
<circle cx="237.8" cy="570.22" r="2"/>
<circle cx="233.28" cy="589.64" r="2"/>
<circle cx="237.8" cy="589.64" r="2"/>
<circle cx="242.47" cy="589.64" r="2"/>
<circle cx="235.61" cy="609.2" r="2"/>
<circle cx="239.99" cy="609.2" r="2"/>
<circle cx="233.28" cy="628.61" r="2"/>
<circle cx="237.8" cy="628.61" r="2"/>
<circle cx="242.47" cy="628.61" r="2"/>
<circle cx="235.61" cy="648.03" r="2"/>
<circle cx="239.99" cy="648.03" r="2"/>
<circle cx="256.34" cy="609.2" r="2"/>
<circle cx="251.53" cy="628.61" r="2"/>
<circle cx="253.86" cy="628.61" r="2"/>
<circle cx="256.34" cy="628.61" r="2"/>
<circle cx="258.82" cy="628.61" r="2"/>
<circle cx="261.16" cy="628.61" r="2"/>
<circle cx="251.53" cy="648.03" r="2"/>
<circle cx="253.86" cy="648.03" r="2"/>
<circle cx="256.34" cy="648.03" r="2"/>
<circle cx="258.82" cy="648.03" r="2"/>
<circle cx="261.16" cy="648.03" r="2"/>
<circle cx="273.13" cy="628.61" r="2"/>
<circle cx="276.05" cy="628.61" r="2"/>
<circle cx="269.48" cy="648.03" r="2"/>
<circle cx="271.67" cy="648.03" r="2"/>
<circle cx="273.86" cy="648.03" r="2"/>
<circle cx="276.05" cy="648.03" r="2"/>
<circle cx="278.24" cy="648.03" r="2"/>
<circle cx="279.7" cy="648.03" r="2"/>
</g>
<line x1="189.7" y1="550.15" x2="189.7" y2="648.75" stroke="#000" stroke-width="1.15"/>
<line x1="189.15" y1="648.2" x2="286.5" y2="648.2" stroke="#000" stroke-width="1.15"/>
<line x1="185.9" y1="550.7" x2="189.7" y2="550.7" stroke="#000" stroke-width="1.1"/>
<text x="184.7" y="553.7" font-size="8.8" font-weight="bold" text-anchor="end" fill="#1a1311">5</text>
<line x1="185.9" y1="570.2" x2="189.7" y2="570.2" stroke="#000" stroke-width="1.1"/>
<text x="184.7" y="573.2" font-size="8.8" font-weight="bold" text-anchor="end" fill="#1a1311">4</text>
<line x1="185.9" y1="589.7" x2="189.7" y2="589.7" stroke="#000" stroke-width="1.1"/>
<text x="184.7" y="592.7" font-size="8.8" font-weight="bold" text-anchor="end" fill="#1a1311">3</text>
<line x1="185.9" y1="609.2" x2="189.7" y2="609.2" stroke="#000" stroke-width="1.1"/>
<text x="184.7" y="612.2" font-size="8.8" font-weight="bold" text-anchor="end" fill="#1a1311">2</text>
<line x1="185.9" y1="628.7" x2="189.7" y2="628.7" stroke="#000" stroke-width="1.1"/>
<text x="184.7" y="631.7" font-size="8.8" font-weight="bold" text-anchor="end" fill="#1a1311">1</text>
<line x1="185.9" y1="648.2" x2="189.7" y2="648.2" stroke="#000" stroke-width="1.1"/>
<text x="184.7" y="651.2" font-size="8.8" font-weight="bold" text-anchor="end" fill="#1a1311">0</text>
<line x1="201.6" y1="648.2" x2="201.6" y2="652.1" stroke="#000" stroke-width="1.1"/>
<text x="204.8" y="659.8" font-size="9.1" font-weight="bold" text-anchor="end" fill="#1a1311" transform="rotate(-45 204.8 659.8)">Control</text>
<line x1="219.9" y1="648.2" x2="219.9" y2="652.1" stroke="#000" stroke-width="1.1"/>
<text x="223.1" y="659.8" font-size="9.1" font-weight="bold" text-anchor="end" fill="#1a1311" transform="rotate(-45 223.1 659.8)">AAV-PTBP1</text>
<line x1="238.1" y1="648.2" x2="238.1" y2="652.1" stroke="#000" stroke-width="1.1"/>
<text x="241.3" y="659.8" font-size="9.1" font-weight="bold" text-anchor="end" fill="#1a1311" transform="rotate(-45 241.3 659.8)">AAV-PTBP1/SPS</text>
<line x1="256.6" y1="648.2" x2="256.6" y2="652.1" stroke="#000" stroke-width="1.1"/>
<text x="259.8" y="659.8" font-size="9.1" font-weight="bold" text-anchor="end" fill="#1a1311" transform="rotate(-45 259.8 659.8)">AAV-Empty/SPS</text>
<line x1="275" y1="648.2" x2="275" y2="652.1" stroke="#000" stroke-width="1.1"/>
<text x="278.2" y="659.8" font-size="9.1" font-weight="bold" text-anchor="end" fill="#1a1311" transform="rotate(-45 278.2 659.8)">SPS</text>
<text x="162.9" y="601" font-size="9" font-weight="bold" text-anchor="middle" fill="#1a1311" transform="rotate(-90 162.9 601)">Number of</text>
<text x="173.7" y="601" font-size="9" font-weight="bold" text-anchor="middle" fill="#1a1311" transform="rotate(-90 173.7 601)">crossing platform</text>
<line x1="201.5" y1="505.5" x2="274.7" y2="505.5" stroke="#000" stroke-width="1.2"/>
<path d="M235.1 496.75L235.1 501.25M233.15 497.88L237.05 500.12M237.05 497.88L233.15 500.12" stroke="#111" stroke-width="1.35" fill="none"/>
<circle cx="235.1" cy="499" r="1.1" fill="#111"/>
<path d="M240.7 496.75L240.7 501.25M238.75 497.88L242.65 500.12M242.65 497.88L238.75 500.12" stroke="#111" stroke-width="1.35" fill="none"/>
<circle cx="240.7" cy="499" r="1.1" fill="#111"/>
<line x1="238.5" y1="524" x2="274.7" y2="524" stroke="#000" stroke-width="1.2"/>
<path d="M253.6 515.25L253.6 519.75M251.65 516.38L255.55 518.62M255.55 516.38L251.65 518.62" stroke="#111" stroke-width="1.35" fill="none"/>
<circle cx="253.6" cy="517.5" r="1.1" fill="#111"/>
<path d="M259.2 515.25L259.2 519.75M257.25 516.38L261.15 518.62M261.15 516.38L257.25 518.62" stroke="#111" stroke-width="1.35" fill="none"/>
<circle cx="259.2" cy="517.5" r="1.1" fill="#111"/>
<line x1="201.5" y1="542.5" x2="256.5" y2="542.5" stroke="#000" stroke-width="1.2"/>
<path d="M228.8 533.75L228.8 538.25M226.85 534.88L230.75 537.12M230.75 534.88L226.85 537.12" stroke="#111" stroke-width="1.35" fill="none"/>
<circle cx="228.8" cy="536" r="1.1" fill="#111"/>
<line x1="201.5" y1="563" x2="219.7" y2="563" stroke="#000" stroke-width="1.2"/>
<text x="210.6" y="558.1" font-size="7.6" font-weight="normal" text-anchor="middle" fill="#1a1311">ns</text>
<line x1="238.5" y1="563" x2="274.7" y2="563" stroke="#000" stroke-width="1.2"/>
<path d="M247.2 554.95L247.2 559.45M245.25 556.08L249.15 558.33M249.15 556.08L245.25 558.33" stroke="#111" stroke-width="1.35" fill="none"/>
<circle cx="247.2" cy="557.2" r="1.1" fill="#111"/>
<text x="265.2" y="558.6" font-size="7.6" font-weight="normal" text-anchor="middle" fill="#1a1311">ns</text>
<text x="306.6" y="504.2" font-size="18.6" font-weight="bold" text-anchor="start" fill="#1a1311">i</text>
<rect x="347.4" y="603.2" width="11.8" height="47.5" fill="#3E3878"/>
<rect x="365.2" y="608.2" width="11.8" height="42.5" fill="#24498B"/>
<rect x="383.2" y="605.7" width="11.8" height="45" fill="#D2AC95"/>
<rect x="401.2" y="624.2" width="11.8" height="26.5" fill="#D96B66"/>
<rect x="419" y="629" width="11.8" height="21.7" fill="#A66B22"/>
<line x1="353.3" y1="598.3" x2="353.3" y2="603.7" stroke="#3E3878" stroke-width="0.9"/>
<line x1="350.6" y1="598.3" x2="356" y2="598.3" stroke="#3E3878" stroke-width="0.9"/>
<line x1="371.1" y1="605.9" x2="371.1" y2="608.7" stroke="#24498B" stroke-width="0.9"/>
<line x1="368.4" y1="605.9" x2="373.8" y2="605.9" stroke="#24498B" stroke-width="0.9"/>
<line x1="389.1" y1="600" x2="389.1" y2="606.2" stroke="#D2AC95" stroke-width="0.9"/>
<line x1="386.4" y1="600" x2="391.8" y2="600" stroke="#D2AC95" stroke-width="0.9"/>
<line x1="407.1" y1="619.3" x2="407.1" y2="624.7" stroke="#D96B66" stroke-width="0.9"/>
<line x1="404.4" y1="619.3" x2="409.8" y2="619.3" stroke="#D96B66" stroke-width="0.9"/>
<line x1="424.9" y1="625.2" x2="424.9" y2="629.5" stroke="#A66B22" stroke-width="0.9"/>
<line x1="422.2" y1="625.2" x2="427.6" y2="625.2" stroke="#A66B22" stroke-width="0.9"/>
<g fill="#000">
<circle cx="351.68" cy="582.52" r="2"/>
<circle cx="354.89" cy="581.35" r="2"/>
<circle cx="351.68" cy="586.17" r="2"/>
<circle cx="354.89" cy="584.71" r="2"/>
<circle cx="353.43" cy="605.88" r="2"/>
<circle cx="348.76" cy="612.01" r="2"/>
<circle cx="350.95" cy="612.45" r="2"/>
<circle cx="357.81" cy="612.45" r="2"/>
<circle cx="353.43" cy="613.91" r="2"/>
<circle cx="350.95" cy="614.64" r="2"/>
<circle cx="354.89" cy="615.36" r="2"/>
<circle cx="353.43" cy="628.5" r="2"/>
<circle cx="371.09" cy="576.39" r="2"/>
<circle cx="371.09" cy="598.58" r="2"/>
<circle cx="369.64" cy="605.15" r="2"/>
<circle cx="372.85" cy="604.12" r="2"/>
<circle cx="375.77" cy="603.25" r="2"/>
<circle cx="372.85" cy="613.18" r="2"/>
<circle cx="366.28" cy="616.39" r="2"/>
<circle cx="371.09" cy="616.82" r="2"/>
<circle cx="375.77" cy="616.39" r="2"/>
<circle cx="366.28" cy="619.31" r="2"/>
<circle cx="369.2" cy="617.85" r="2"/>
<circle cx="372.85" cy="619.01" r="2"/>
<circle cx="388.91" cy="571.57" r="2"/>
<circle cx="388.91" cy="587.19" r="2"/>
<circle cx="388.91" cy="591.72" r="2"/>
<circle cx="388.91" cy="598.87" r="2"/>
<circle cx="388.91" cy="604.42" r="2"/>
<circle cx="393.72" cy="611.42" r="2"/>
<circle cx="384.23" cy="614.34" r="2"/>
<circle cx="388.91" cy="613.18" r="2"/>
<circle cx="393.72" cy="615.36" r="2"/>
<circle cx="388.91" cy="624.12" r="2"/>
<circle cx="388.91" cy="630.69" r="2"/>
<circle cx="406.86" cy="599.74" r="2"/>
<circle cx="406.86" cy="606.61" r="2"/>
<circle cx="403.8" cy="616.09" r="2"/>
<circle cx="409.78" cy="616.09" r="2"/>
<circle cx="406.86" cy="624.12" r="2"/>
<circle cx="403.8" cy="632.88" r="2"/>
<circle cx="409.78" cy="630.99" r="2"/>
<circle cx="406.86" cy="644.56" r="2"/>
<circle cx="406.86" cy="649.67" r="2"/>
<circle cx="426.13" cy="615.36" r="2"/>
<circle cx="420" cy="618.28" r="2"/>
<circle cx="423.21" cy="617.26" r="2"/>
<circle cx="429.34" cy="617.26" r="2"/>
<circle cx="423.21" cy="621.2" r="2"/>
<circle cx="423.21" cy="629.23" r="2"/>
<circle cx="426.13" cy="629.23" r="2"/>
<circle cx="424.67" cy="636.53" r="2"/>
<circle cx="423.21" cy="640.18" r="2"/>
<circle cx="426.42" cy="641.2" r="2"/>
<circle cx="424.67" cy="647.48" r="2"/>
</g>
<line x1="342" y1="553.95" x2="342" y2="651.25" stroke="#000" stroke-width="1.15"/>
<line x1="341.45" y1="650.7" x2="437" y2="650.7" stroke="#000" stroke-width="1.15"/>
<line x1="338.2" y1="554.5" x2="342" y2="554.5" stroke="#000" stroke-width="1.1"/>
<text x="337" y="557.5" font-size="8.8" font-weight="bold" text-anchor="end" fill="#1a1311">60</text>
<line x1="338.2" y1="586.6" x2="342" y2="586.6" stroke="#000" stroke-width="1.1"/>
<text x="337" y="589.6" font-size="8.8" font-weight="bold" text-anchor="end" fill="#1a1311">40</text>
<line x1="338.2" y1="618.6" x2="342" y2="618.6" stroke="#000" stroke-width="1.1"/>
<text x="337" y="621.6" font-size="8.8" font-weight="bold" text-anchor="end" fill="#1a1311">20</text>
<line x1="338.2" y1="650.7" x2="342" y2="650.7" stroke="#000" stroke-width="1.1"/>
<text x="337" y="653.7" font-size="8.8" font-weight="bold" text-anchor="end" fill="#1a1311">0</text>
<line x1="353.3" y1="650.7" x2="353.3" y2="654.6" stroke="#000" stroke-width="1.1"/>
<text x="356.5" y="662.3" font-size="9.1" font-weight="bold" text-anchor="end" fill="#1a1311" transform="rotate(-45 356.5 662.3)">Control</text>
<line x1="371.1" y1="650.7" x2="371.1" y2="654.6" stroke="#000" stroke-width="1.1"/>
<text x="374.3" y="662.3" font-size="9.1" font-weight="bold" text-anchor="end" fill="#1a1311" transform="rotate(-45 374.3 662.3)">AAV-PTBP1</text>
<line x1="389.1" y1="650.7" x2="389.1" y2="654.6" stroke="#000" stroke-width="1.1"/>
<text x="392.3" y="662.3" font-size="9.1" font-weight="bold" text-anchor="end" fill="#1a1311" transform="rotate(-45 392.3 662.3)">AAV-PTBP1/SPS</text>
<line x1="407.1" y1="650.7" x2="407.1" y2="654.6" stroke="#000" stroke-width="1.1"/>
<text x="410.3" y="662.3" font-size="9.1" font-weight="bold" text-anchor="end" fill="#1a1311" transform="rotate(-45 410.3 662.3)">AAV-Empty/SPS</text>
<line x1="424.9" y1="650.7" x2="424.9" y2="654.6" stroke="#000" stroke-width="1.1"/>
<text x="428.1" y="662.3" font-size="9.1" font-weight="bold" text-anchor="end" fill="#1a1311" transform="rotate(-45 428.1 662.3)">SPS</text>
<text x="310.8" y="601" font-size="9" font-weight="bold" text-anchor="middle" fill="#1a1311" transform="rotate(-90 310.8 601)">Time spent in the</text>
<text x="321.8" y="601" font-size="9" font-weight="bold" text-anchor="middle" fill="#1a1311" transform="rotate(-90 321.8 601)">target quadrant (%)</text>
<line x1="353.2" y1="507.5" x2="424.7" y2="507.5" stroke="#000" stroke-width="1.2"/>
<path d="M385.95 498.75L385.95 503.25M384 499.88L387.9 502.12M387.9 499.88L384 502.12" stroke="#111" stroke-width="1.35" fill="none"/>
<circle cx="385.95" cy="501" r="1.1" fill="#111"/>
<path d="M391.55 498.75L391.55 503.25M389.6 499.88L393.5 502.12M393.5 499.88L389.6 502.12" stroke="#111" stroke-width="1.35" fill="none"/>
<circle cx="391.55" cy="501" r="1.1" fill="#111"/>
<line x1="353.2" y1="526.2" x2="407" y2="526.2" stroke="#000" stroke-width="1.2"/>
<path d="M379.9 517.45L379.9 521.95M377.95 518.58L381.85 520.83M381.85 518.58L377.95 520.83" stroke="#111" stroke-width="1.35" fill="none"/>
<circle cx="379.9" cy="519.7" r="1.1" fill="#111"/>
<line x1="389.2" y1="543.5" x2="424.7" y2="543.5" stroke="#000" stroke-width="1.2"/>
<path d="M403.95 534.75L403.95 539.25M402 535.88L405.9 538.12M405.9 535.88L402 538.12" stroke="#111" stroke-width="1.35" fill="none"/>
<circle cx="403.95" cy="537" r="1.1" fill="#111"/>
<path d="M409.55 534.75L409.55 539.25M407.6 535.88L411.5 538.12M411.5 535.88L407.6 538.12" stroke="#111" stroke-width="1.35" fill="none"/>
<circle cx="409.55" cy="537" r="1.1" fill="#111"/>
<line x1="353.2" y1="563.2" x2="371" y2="563.2" stroke="#000" stroke-width="1.2"/>
<text x="362.1" y="558.3" font-size="7.6" font-weight="normal" text-anchor="middle" fill="#1a1311">ns</text>
<line x1="389.2" y1="563.2" x2="424.7" y2="563.2" stroke="#000" stroke-width="1.2"/>
<path d="M398 555.15L398 559.65M396.05 556.27L399.95 558.52M399.95 556.27L396.05 558.52" stroke="#111" stroke-width="1.35" fill="none"/>
<circle cx="398" cy="557.4" r="1.1" fill="#111"/>
<text x="415.7" y="558.8" font-size="7.6" font-weight="normal" text-anchor="middle" fill="#1a1311">ns</text>
<text x="453.2" y="504.2" font-size="18.6" font-weight="bold" text-anchor="start" fill="#1a1311">j</text>
<line x1="503.7" y1="577.6" x2="503.7" y2="584.4" stroke="#D9B9A6" stroke-width="0.7"/>
<line x1="501.5" y1="577.6" x2="505.9" y2="577.6" stroke="#D9B9A6" stroke-width="0.7"/>
<line x1="501.5" y1="584.4" x2="505.9" y2="584.4" stroke="#D9B9A6" stroke-width="0.7"/>
<line x1="530.45" y1="595.2" x2="530.45" y2="606.2" stroke="#D9B9A6" stroke-width="0.7"/>
<line x1="528.25" y1="595.2" x2="532.65" y2="595.2" stroke="#D9B9A6" stroke-width="0.7"/>
<line x1="528.25" y1="606.2" x2="532.65" y2="606.2" stroke="#D9B9A6" stroke-width="0.7"/>
<line x1="557.2" y1="597.4" x2="557.2" y2="606.6" stroke="#D9B9A6" stroke-width="0.7"/>
<line x1="555" y1="597.4" x2="559.4" y2="597.4" stroke="#D9B9A6" stroke-width="0.7"/>
<line x1="555" y1="606.6" x2="559.4" y2="606.6" stroke="#D9B9A6" stroke-width="0.7"/>
<line x1="583.95" y1="618.2" x2="583.95" y2="624.2" stroke="#D9B9A6" stroke-width="0.7"/>
<line x1="581.75" y1="618.2" x2="586.15" y2="618.2" stroke="#D9B9A6" stroke-width="0.7"/>
<line x1="581.75" y1="624.2" x2="586.15" y2="624.2" stroke="#D9B9A6" stroke-width="0.7"/>
<line x1="610.7" y1="611" x2="610.7" y2="620" stroke="#D9B9A6" stroke-width="0.7"/>
<line x1="608.5" y1="611" x2="612.9" y2="611" stroke="#D9B9A6" stroke-width="0.7"/>
<line x1="608.5" y1="620" x2="612.9" y2="620" stroke="#D9B9A6" stroke-width="0.7"/>
<line x1="637.45" y1="614.6" x2="637.45" y2="621.8" stroke="#D9B9A6" stroke-width="0.7"/>
<line x1="635.25" y1="614.6" x2="639.65" y2="614.6" stroke="#D9B9A6" stroke-width="0.7"/>
<line x1="635.25" y1="621.8" x2="639.65" y2="621.8" stroke="#D9B9A6" stroke-width="0.7"/>
<polyline points="503.7,581 530.45,600.7 557.2,602 583.95,621.2 610.7,615.5 637.45,618.2" fill="none" stroke="#D9B9A6" stroke-width="1.3"/>
<circle cx="503.7" cy="581" r="2.3" fill="#D9B9A6"/>
<circle cx="530.45" cy="600.7" r="2.3" fill="#D9B9A6"/>
<circle cx="557.2" cy="602" r="2.3" fill="#D9B9A6"/>
<circle cx="583.95" cy="621.2" r="2.3" fill="#D9B9A6"/>
<circle cx="610.7" cy="615.5" r="2.3" fill="#D9B9A6"/>
<circle cx="637.45" cy="618.2" r="2.3" fill="#D9B9A6"/>
<line x1="503.7" y1="577.4" x2="503.7" y2="582.6" stroke="#A6722C" stroke-width="0.7"/>
<line x1="501.5" y1="577.4" x2="505.9" y2="577.4" stroke="#A6722C" stroke-width="0.7"/>
<line x1="501.5" y1="582.6" x2="505.9" y2="582.6" stroke="#A6722C" stroke-width="0.7"/>
<line x1="530.45" y1="582.8" x2="530.45" y2="589.2" stroke="#A6722C" stroke-width="0.7"/>
<line x1="528.25" y1="582.8" x2="532.65" y2="582.8" stroke="#A6722C" stroke-width="0.7"/>
<line x1="528.25" y1="589.2" x2="532.65" y2="589.2" stroke="#A6722C" stroke-width="0.7"/>
<line x1="557.2" y1="592.1" x2="557.2" y2="601.3" stroke="#A6722C" stroke-width="0.7"/>
<line x1="555" y1="592.1" x2="559.4" y2="592.1" stroke="#A6722C" stroke-width="0.7"/>
<line x1="555" y1="601.3" x2="559.4" y2="601.3" stroke="#A6722C" stroke-width="0.7"/>
<line x1="583.95" y1="596" x2="583.95" y2="606" stroke="#A6722C" stroke-width="0.7"/>
<line x1="581.75" y1="596" x2="586.15" y2="596" stroke="#A6722C" stroke-width="0.7"/>
<line x1="581.75" y1="606" x2="586.15" y2="606" stroke="#A6722C" stroke-width="0.7"/>
<line x1="610.7" y1="592.7" x2="610.7" y2="604.7" stroke="#A6722C" stroke-width="0.7"/>
<line x1="608.5" y1="592.7" x2="612.9" y2="592.7" stroke="#A6722C" stroke-width="0.7"/>
<line x1="608.5" y1="604.7" x2="612.9" y2="604.7" stroke="#A6722C" stroke-width="0.7"/>
<line x1="637.45" y1="600" x2="637.45" y2="612" stroke="#A6722C" stroke-width="0.7"/>
<line x1="635.25" y1="600" x2="639.65" y2="600" stroke="#A6722C" stroke-width="0.7"/>
<line x1="635.25" y1="612" x2="639.65" y2="612" stroke="#A6722C" stroke-width="0.7"/>
<polyline points="503.7,580 530.45,586 557.2,596.7 583.95,601 610.7,598.7 637.45,606" fill="none" stroke="#A6722C" stroke-width="1.3"/>
<circle cx="503.7" cy="580" r="2.3" fill="#A6722C"/>
<circle cx="530.45" cy="586" r="2.3" fill="#A6722C"/>
<circle cx="557.2" cy="596.7" r="2.3" fill="#A6722C"/>
<circle cx="583.95" cy="601" r="2.3" fill="#A6722C"/>
<circle cx="610.7" cy="598.7" r="2.3" fill="#A6722C"/>
<circle cx="637.45" cy="606" r="2.3" fill="#A6722C"/>
<line x1="503.7" y1="577.4" x2="503.7" y2="582.6" stroke="#D4846C" stroke-width="0.7"/>
<line x1="501.5" y1="577.4" x2="505.9" y2="577.4" stroke="#D4846C" stroke-width="0.7"/>
<line x1="501.5" y1="582.6" x2="505.9" y2="582.6" stroke="#D4846C" stroke-width="0.7"/>
<line x1="530.45" y1="581.1" x2="530.45" y2="586.3" stroke="#D4846C" stroke-width="0.7"/>
<line x1="528.25" y1="581.1" x2="532.65" y2="581.1" stroke="#D4846C" stroke-width="0.7"/>
<line x1="528.25" y1="586.3" x2="532.65" y2="586.3" stroke="#D4846C" stroke-width="0.7"/>
<line x1="557.2" y1="588.5" x2="557.2" y2="594.5" stroke="#D4846C" stroke-width="0.7"/>
<line x1="555" y1="588.5" x2="559.4" y2="588.5" stroke="#D4846C" stroke-width="0.7"/>
<line x1="555" y1="594.5" x2="559.4" y2="594.5" stroke="#D4846C" stroke-width="0.7"/>
<line x1="583.95" y1="596" x2="583.95" y2="606" stroke="#D4846C" stroke-width="0.7"/>
<line x1="581.75" y1="596" x2="586.15" y2="596" stroke="#D4846C" stroke-width="0.7"/>
<line x1="581.75" y1="606" x2="586.15" y2="606" stroke="#D4846C" stroke-width="0.7"/>
<line x1="610.7" y1="590.9" x2="610.7" y2="598.1" stroke="#D4846C" stroke-width="0.7"/>
<line x1="608.5" y1="590.9" x2="612.9" y2="590.9" stroke="#D4846C" stroke-width="0.7"/>
<line x1="608.5" y1="598.1" x2="612.9" y2="598.1" stroke="#D4846C" stroke-width="0.7"/>
<line x1="637.45" y1="598.2" x2="637.45" y2="607.2" stroke="#D4846C" stroke-width="0.7"/>
<line x1="635.25" y1="598.2" x2="639.65" y2="598.2" stroke="#D4846C" stroke-width="0.7"/>
<line x1="635.25" y1="607.2" x2="639.65" y2="607.2" stroke="#D4846C" stroke-width="0.7"/>
<polyline points="503.7,580 530.45,583.7 557.2,591.5 583.95,601 610.7,594.5 637.45,602.7" fill="none" stroke="#D4846C" stroke-width="1.3"/>
<circle cx="503.7" cy="580" r="2.3" fill="#D4846C"/>
<circle cx="530.45" cy="583.7" r="2.3" fill="#D4846C"/>
<circle cx="557.2" cy="591.5" r="2.3" fill="#D4846C"/>
<circle cx="583.95" cy="601" r="2.3" fill="#D4846C"/>
<circle cx="610.7" cy="594.5" r="2.3" fill="#D4846C"/>
<circle cx="637.45" cy="602.7" r="2.3" fill="#D4846C"/>
<line x1="503.7" y1="574.8" x2="503.7" y2="582" stroke="#1F4E9A" stroke-width="0.7"/>
<line x1="501.5" y1="574.8" x2="505.9" y2="574.8" stroke="#1F4E9A" stroke-width="0.7"/>
<line x1="501.5" y1="582" x2="505.9" y2="582" stroke="#1F4E9A" stroke-width="0.7"/>
<line x1="530.45" y1="598.7" x2="530.45" y2="612.7" stroke="#1F4E9A" stroke-width="0.7"/>
<line x1="528.25" y1="598.7" x2="532.65" y2="598.7" stroke="#1F4E9A" stroke-width="0.7"/>
<line x1="528.25" y1="612.7" x2="532.65" y2="612.7" stroke="#1F4E9A" stroke-width="0.7"/>
<line x1="557.2" y1="606.2" x2="557.2" y2="614.2" stroke="#1F4E9A" stroke-width="0.7"/>
<line x1="555" y1="606.2" x2="559.4" y2="606.2" stroke="#1F4E9A" stroke-width="0.7"/>
<line x1="555" y1="614.2" x2="559.4" y2="614.2" stroke="#1F4E9A" stroke-width="0.7"/>
<line x1="583.95" y1="612.9" x2="583.95" y2="620.5" stroke="#1F4E9A" stroke-width="0.7"/>
<line x1="581.75" y1="612.9" x2="586.15" y2="612.9" stroke="#1F4E9A" stroke-width="0.7"/>
<line x1="581.75" y1="620.5" x2="586.15" y2="620.5" stroke="#1F4E9A" stroke-width="0.7"/>
<line x1="610.7" y1="617.2" x2="610.7" y2="626.2" stroke="#1F4E9A" stroke-width="0.7"/>
<line x1="608.5" y1="617.2" x2="612.9" y2="617.2" stroke="#1F4E9A" stroke-width="0.7"/>
<line x1="608.5" y1="626.2" x2="612.9" y2="626.2" stroke="#1F4E9A" stroke-width="0.7"/>
<line x1="637.45" y1="615.8" x2="637.45" y2="624.2" stroke="#1F4E9A" stroke-width="0.7"/>
<line x1="635.25" y1="615.8" x2="639.65" y2="615.8" stroke="#1F4E9A" stroke-width="0.7"/>
<line x1="635.25" y1="624.2" x2="639.65" y2="624.2" stroke="#1F4E9A" stroke-width="0.7"/>
<polyline points="503.7,578.4 530.45,605.7 557.2,610.2 583.95,616.7 610.7,621.7 637.45,620" fill="none" stroke="#1F4E9A" stroke-width="1.3"/>
<circle cx="503.7" cy="578.4" r="2.3" fill="#1F4E9A"/>
<circle cx="530.45" cy="605.7" r="2.3" fill="#1F4E9A"/>
<circle cx="557.2" cy="610.2" r="2.3" fill="#1F4E9A"/>
<circle cx="583.95" cy="616.7" r="2.3" fill="#1F4E9A"/>
<circle cx="610.7" cy="621.7" r="2.3" fill="#1F4E9A"/>
<circle cx="637.45" cy="620" r="2.3" fill="#1F4E9A"/>
<line x1="503.7" y1="588.3" x2="503.7" y2="594.7" stroke="#5B3C8E" stroke-width="0.7"/>
<line x1="501.5" y1="588.3" x2="505.9" y2="588.3" stroke="#5B3C8E" stroke-width="0.7"/>
<line x1="501.5" y1="594.7" x2="505.9" y2="594.7" stroke="#5B3C8E" stroke-width="0.7"/>
<line x1="530.45" y1="599.8" x2="530.45" y2="606.2" stroke="#5B3C8E" stroke-width="0.7"/>
<line x1="528.25" y1="599.8" x2="532.65" y2="599.8" stroke="#5B3C8E" stroke-width="0.7"/>
<line x1="528.25" y1="606.2" x2="532.65" y2="606.2" stroke="#5B3C8E" stroke-width="0.7"/>
<line x1="557.2" y1="612.5" x2="557.2" y2="618.5" stroke="#5B3C8E" stroke-width="0.7"/>
<line x1="555" y1="612.5" x2="559.4" y2="612.5" stroke="#5B3C8E" stroke-width="0.7"/>
<line x1="555" y1="618.5" x2="559.4" y2="618.5" stroke="#5B3C8E" stroke-width="0.7"/>
<line x1="583.95" y1="621.5" x2="583.95" y2="626.5" stroke="#5B3C8E" stroke-width="0.7"/>
<line x1="581.75" y1="621.5" x2="586.15" y2="621.5" stroke="#5B3C8E" stroke-width="0.7"/>
<line x1="581.75" y1="626.5" x2="586.15" y2="626.5" stroke="#5B3C8E" stroke-width="0.7"/>
<line x1="610.7" y1="621.4" x2="610.7" y2="628.6" stroke="#5B3C8E" stroke-width="0.7"/>
<line x1="608.5" y1="621.4" x2="612.9" y2="621.4" stroke="#5B3C8E" stroke-width="0.7"/>
<line x1="608.5" y1="628.6" x2="612.9" y2="628.6" stroke="#5B3C8E" stroke-width="0.7"/>
<line x1="637.45" y1="621.7" x2="637.45" y2="629.7" stroke="#5B3C8E" stroke-width="0.7"/>
<line x1="635.25" y1="621.7" x2="639.65" y2="621.7" stroke="#5B3C8E" stroke-width="0.7"/>
<line x1="635.25" y1="629.7" x2="639.65" y2="629.7" stroke="#5B3C8E" stroke-width="0.7"/>
<polyline points="503.7,591.5 530.45,603 557.2,615.5 583.95,624 610.7,625 637.45,625.7" fill="none" stroke="#5B3C8E" stroke-width="1.3"/>
<circle cx="503.7" cy="591.5" r="2.3" fill="#5B3C8E"/>
<circle cx="530.45" cy="603" r="2.3" fill="#5B3C8E"/>
<circle cx="557.2" cy="615.5" r="2.3" fill="#5B3C8E"/>
<circle cx="583.95" cy="624" r="2.3" fill="#5B3C8E"/>
<circle cx="610.7" cy="625" r="2.3" fill="#5B3C8E"/>
<circle cx="637.45" cy="625.7" r="2.3" fill="#5B3C8E"/>
<line x1="487" y1="545.7" x2="487" y2="659.3" stroke="#000" stroke-width="1.1"/>
<line x1="486.5" y1="658.8" x2="655.8" y2="658.8" stroke="#000" stroke-width="1.1"/>
<line x1="483" y1="658.8" x2="487" y2="658.8" stroke="#000" stroke-width="1.1"/>
<text x="481" y="662.6" font-size="10.5" font-weight="bold" text-anchor="end" fill="#1a1311">0</text>
<line x1="483" y1="630.65" x2="487" y2="630.65" stroke="#000" stroke-width="1.1"/>
<text x="481" y="634.45" font-size="10.5" font-weight="bold" text-anchor="end" fill="#1a1311">20</text>
<line x1="483" y1="602.5" x2="487" y2="602.5" stroke="#000" stroke-width="1.1"/>
<text x="481" y="606.3" font-size="10.5" font-weight="bold" text-anchor="end" fill="#1a1311">40</text>
<line x1="483" y1="574.35" x2="487" y2="574.35" stroke="#000" stroke-width="1.1"/>
<text x="481" y="578.15" font-size="10.5" font-weight="bold" text-anchor="end" fill="#1a1311">60</text>
<line x1="483" y1="546.2" x2="487" y2="546.2" stroke="#000" stroke-width="1.1"/>
<text x="481" y="550" font-size="10.5" font-weight="bold" text-anchor="end" fill="#1a1311">80</text>
<line x1="503.7" y1="658.8" x2="503.7" y2="663" stroke="#000" stroke-width="1.1"/>
<text x="503.7" y="674" font-size="10.5" font-weight="bold" text-anchor="middle" fill="#1a1311">1</text>
<line x1="530.45" y1="658.8" x2="530.45" y2="663" stroke="#000" stroke-width="1.1"/>
<text x="530.45" y="674" font-size="10.5" font-weight="bold" text-anchor="middle" fill="#1a1311">2</text>
<line x1="557.2" y1="658.8" x2="557.2" y2="663" stroke="#000" stroke-width="1.1"/>
<text x="557.2" y="674" font-size="10.5" font-weight="bold" text-anchor="middle" fill="#1a1311">3</text>
<line x1="583.95" y1="658.8" x2="583.95" y2="663" stroke="#000" stroke-width="1.1"/>
<text x="583.95" y="674" font-size="10.5" font-weight="bold" text-anchor="middle" fill="#1a1311">4</text>
<line x1="610.7" y1="658.8" x2="610.7" y2="663" stroke="#000" stroke-width="1.1"/>
<text x="610.7" y="674" font-size="10.5" font-weight="bold" text-anchor="middle" fill="#1a1311">5</text>
<line x1="637.45" y1="658.8" x2="637.45" y2="663" stroke="#000" stroke-width="1.1"/>
<text x="637.45" y="674" font-size="10.5" font-weight="bold" text-anchor="middle" fill="#1a1311">6</text>
<text x="571.3" y="691.4" font-size="10.8" font-weight="bold" text-anchor="middle" fill="#1a1311">Time (day)</text>
<text x="462.9" y="601" font-size="10.8" font-weight="bold" text-anchor="middle" fill="#1a1311" transform="rotate(-90 462.9 601)">Escape Latency (s)</text>
<line x1="594.2" y1="508" x2="606" y2="508" stroke="#5B3C8E" stroke-width="1.1"/>
<circle cx="600" cy="508" r="2.2" fill="#5B3C8E"/>
<text x="613" y="511.3" font-size="9.2" font-weight="bold" text-anchor="start" fill="#1a1311">Control</text>
<line x1="594.2" y1="523.2" x2="606" y2="523.2" stroke="#1F4E9A" stroke-width="1.1"/>
<circle cx="600" cy="523.2" r="2.2" fill="#1F4E9A"/>
<text x="613" y="526.5" font-size="9.2" font-weight="bold" text-anchor="start" fill="#1a1311">AAV-PTBP1</text>
<line x1="594.2" y1="538.4" x2="606" y2="538.4" stroke="#D9B9A6" stroke-width="1.1"/>
<circle cx="600" cy="538.4" r="2.2" fill="#D9B9A6"/>
<text x="613" y="541.7" font-size="9.2" font-weight="bold" text-anchor="start" fill="#1a1311">AAV-PTBP1/SPS</text>
<line x1="594.2" y1="553.6" x2="606" y2="553.6" stroke="#D4846C" stroke-width="1.1"/>
<circle cx="600" cy="553.6" r="2.2" fill="#D4846C"/>
<text x="613" y="556.9" font-size="9.2" font-weight="bold" text-anchor="start" fill="#1a1311">AAV-Empty/SPS</text>
<line x1="594.2" y1="568.8" x2="606" y2="568.8" stroke="#A6722C" stroke-width="1.1"/>
<circle cx="600" cy="568.8" r="2.2" fill="#A6722C"/>
<text x="613" y="572.1" font-size="9.2" font-weight="bold" text-anchor="start" fill="#1a1311">SPS</text>
<line x1="543.7" y1="508" x2="543.7" y2="574.2" stroke="#000" stroke-width="1.2"/>
<path d="M533.75 532.3L538.25 532.3M534.88 530.35L537.12 534.25M537.12 530.35L534.88 534.25" stroke="#111" stroke-width="1.35" fill="none"/>
<circle cx="536" cy="532.3" r="1.1" fill="#111"/>
<path d="M533.75 537.9L538.25 537.9M534.88 535.95L537.12 539.85M537.12 535.95L534.88 539.85" stroke="#111" stroke-width="1.35" fill="none"/>
<circle cx="536" cy="537.9" r="1.1" fill="#111"/>
<path d="M533.75 543.5L538.25 543.5M534.88 541.55L537.12 545.45M537.12 541.55L534.88 545.45" stroke="#111" stroke-width="1.35" fill="none"/>
<circle cx="536" cy="543.5" r="1.1" fill="#111"/>
<path d="M533.75 549.1L538.25 549.1M534.88 547.15L537.12 551.05M537.12 547.15L534.88 551.05" stroke="#111" stroke-width="1.35" fill="none"/>
<circle cx="536" cy="549.1" r="1.1" fill="#111"/>
<line x1="558.2" y1="538.7" x2="558.2" y2="574.2" stroke="#000" stroke-width="1.2"/>
<path d="M548.25 547.8L552.75 547.8M549.38 545.85L551.62 549.75M551.62 545.85L549.38 549.75" stroke="#111" stroke-width="1.35" fill="none"/>
<circle cx="550.5" cy="547.8" r="1.1" fill="#111"/>
<path d="M548.25 553.4L552.75 553.4M549.38 551.45L551.62 555.35M551.62 551.45L549.38 555.35" stroke="#111" stroke-width="1.35" fill="none"/>
<circle cx="550.5" cy="553.4" r="1.1" fill="#111"/>
<path d="M548.25 559L552.75 559M549.38 557.05L551.62 560.95M551.62 557.05L549.38 560.95" stroke="#111" stroke-width="1.35" fill="none"/>
<circle cx="550.5" cy="559" r="1.1" fill="#111"/>
<path d="M548.25 564.6L552.75 564.6M549.38 562.65L551.62 566.55M551.62 562.65L549.38 566.55" stroke="#111" stroke-width="1.35" fill="none"/>
<circle cx="550.5" cy="564.6" r="1.1" fill="#111"/>
<line x1="573" y1="508" x2="573" y2="554.5" stroke="#000" stroke-width="1.2"/>
<path d="M563.25 523.3L567.75 523.3M564.38 521.35L566.62 525.25M566.62 521.35L564.38 525.25" stroke="#111" stroke-width="1.35" fill="none"/>
<circle cx="565.5" cy="523.3" r="1.1" fill="#111"/>
<path d="M563.25 528.9L567.75 528.9M564.38 526.95L566.62 530.85M566.62 526.95L564.38 530.85" stroke="#111" stroke-width="1.35" fill="none"/>
<circle cx="565.5" cy="528.9" r="1.1" fill="#111"/>
<path d="M563.25 534.5L567.75 534.5M564.38 532.55L566.62 536.45M566.62 532.55L564.38 536.45" stroke="#111" stroke-width="1.35" fill="none"/>
<circle cx="565.5" cy="534.5" r="1.1" fill="#111"/>
<path d="M563.25 540.1L567.75 540.1M564.38 538.15L566.62 542.05M566.62 538.15L564.38 542.05" stroke="#111" stroke-width="1.35" fill="none"/>
<circle cx="565.5" cy="540.1" r="1.1" fill="#111"/>
<line x1="589" y1="509.5" x2="589" y2="523" stroke="#000" stroke-width="1.2"/>
<text x="583.2" y="516.2" font-size="8.8" font-weight="normal" text-anchor="middle" fill="#1a1311" transform="rotate(-90 583.2 516.2)">ns</text>
<line x1="589" y1="540" x2="589" y2="554.5" stroke="#000" stroke-width="1.2"/>
<path d="M578.75 538.6L583.25 538.6M579.88 536.65L582.12 540.55M582.12 536.65L579.88 540.55" stroke="#111" stroke-width="1.35" fill="none"/>
<circle cx="581" cy="538.6" r="1.1" fill="#111"/>
<path d="M578.75 544.2L583.25 544.2M579.88 542.25L582.12 546.15M582.12 542.25L579.88 546.15" stroke="#111" stroke-width="1.35" fill="none"/>
<circle cx="581" cy="544.2" r="1.1" fill="#111"/>
<path d="M578.75 549.8L583.25 549.8M579.88 547.85L582.12 551.75M582.12 547.85L579.88 551.75" stroke="#111" stroke-width="1.35" fill="none"/>
<circle cx="581" cy="549.8" r="1.1" fill="#111"/>
<path d="M578.75 555.4L583.25 555.4M579.88 553.45L582.12 557.35M582.12 553.45L579.88 557.35" stroke="#111" stroke-width="1.35" fill="none"/>
<circle cx="581" cy="555.4" r="1.1" fill="#111"/>
</svg>
</body></html>
